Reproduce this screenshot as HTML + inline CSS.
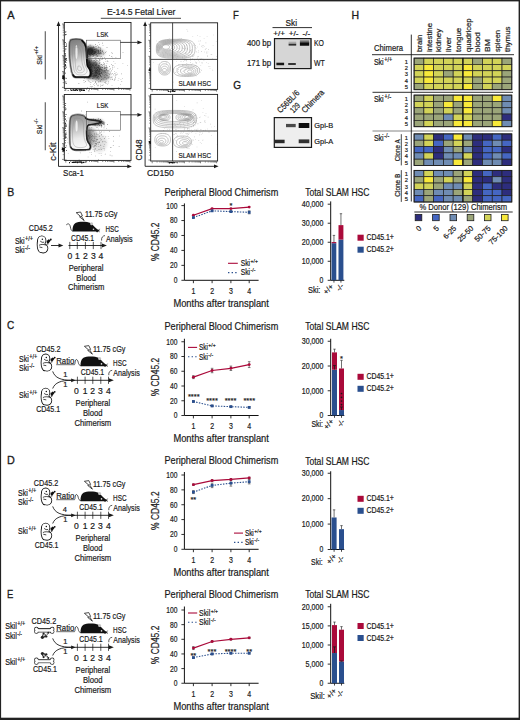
<!DOCTYPE html>
<html><head><meta charset="utf-8"><style>
html,body{margin:0;padding:0;background:#fff;}
svg{display:block;}
text{font-family:"Liberation Sans", sans-serif;fill:#1a1a1a;stroke:#1a1a1a;stroke-width:0.2px;}
</style></head><body>
<svg width="520" height="720" viewBox="0 0 520 720">
<defs>
<linearGradient id="blobg" x1="0" y1="0" x2="0.15" y2="1"><stop offset="0" stop-color="#7a7a7a"/><stop offset="0.4" stop-color="#a5a5a5"/><stop offset="0.68" stop-color="#e2e2e2"/><stop offset="1" stop-color="#f6f6f6"/></linearGradient>
<filter id="bl" x="-30%" y="-80%" width="160%" height="260%"><feGaussianBlur stdDeviation="0.75"/></filter>
<filter id="b18" x="-50%" y="-50%" width="200%" height="200%"><feGaussianBlur stdDeviation="1.8"/></filter>
<filter id="b16" x="-50%" y="-50%" width="200%" height="200%"><feGaussianBlur stdDeviation="1.6"/></filter>
<filter id="b14" x="-50%" y="-50%" width="200%" height="200%"><feGaussianBlur stdDeviation="1.4"/></filter>
<filter id="b15" x="-50%" y="-50%" width="200%" height="200%"><feGaussianBlur stdDeviation="1.5"/></filter>
<filter id="b7" x="-50%" y="-50%" width="200%" height="200%"><feGaussianBlur stdDeviation="0.7"/></filter>
<linearGradient id="blobg2" x1="0" y1="0" x2="0.15" y2="1"><stop offset="0" stop-color="#8c8c8c"/><stop offset="0.35" stop-color="#b8b8b8"/><stop offset="0.7" stop-color="#eaeaea"/><stop offset="1" stop-color="#f8f8f8"/></linearGradient>
</defs>
<rect width="520" height="720" fill="#fff"/>
<rect x="0.00" y="0.00" width="520.00" height="1.40" fill="#222" />
<rect x="0.00" y="0.00" width="1.10" height="720.00" fill="#222" />
<rect x="518.60" y="0.00" width="1.40" height="720.00" fill="#222" />
<rect x="0.00" y="717.70" width="520.00" height="2.30" fill="#222" />
<text x="7.30" y="19.20" font-size="11" style="stroke-width:0.3px">A</text>
<text x="106.90" y="15.00" font-size="9.2" textLength="68.50" lengthAdjust="spacingAndGlyphs" >E-14.5 Fetal Liver</text>
<line x1="100.80" y1="18.30" x2="181.00" y2="18.30" stroke="#1a1a1a" stroke-width="0.8" />
<line x1="45.25" y1="31.25" x2="45.25" y2="79.40" stroke="#1a1a1a" stroke-width="0.8" />
<line x1="45.25" y1="102.25" x2="45.25" y2="150.25" stroke="#1a1a1a" stroke-width="0.8" />
<g transform="rotate(-90 42.00 64.70)">
<text x="42.00" y="64.70" font-size="7.6" textLength="9.60" lengthAdjust="spacingAndGlyphs">Ski</text>
<text x="52.10" y="61.10" font-size="5.8" textLength="8.50" lengthAdjust="spacingAndGlyphs">+/+</text>
</g>
<g transform="rotate(-90 42.00 134.20)">
<text x="42.00" y="134.20" font-size="7.6" textLength="9.60" lengthAdjust="spacingAndGlyphs">Ski</text>
<text x="52.10" y="130.60" font-size="5.8" textLength="5.40" lengthAdjust="spacingAndGlyphs">-/-</text>
</g>
<path d="M58.5,24 V166.4 H128" fill="none" stroke="#1a1a1a" stroke-width="0.9" />
<path d="M58.5,21.3 L56.6,25.9 L60.4,25.9 Z" fill="#1a1a1a" />
<path d="M131.9,166.4 L127.30000000000001,164.5 L127.30000000000001,168.3 Z" fill="#1a1a1a" />
<path d="M145.1,24 V166.3 H215" fill="none" stroke="#1a1a1a" stroke-width="0.9" />
<path d="M145.1,21.5 L143.2,26.1 L147.0,26.1 Z" fill="#1a1a1a" />
<path d="M218.6,166.3 L214.0,164.4 L214.0,168.20000000000002 Z" fill="#1a1a1a" />
<text x="55.90" y="160.80" font-size="9.6" textLength="18.30" lengthAdjust="spacingAndGlyphs" transform="rotate(-90 55.90 160.80)" >c-Kit</text>
<text x="141.80" y="160.40" font-size="9.6" textLength="21.00" lengthAdjust="spacingAndGlyphs" transform="rotate(-90 141.80 160.40)" >CD48</text>
<text x="63.10" y="175.60" font-size="9.6" textLength="20.70" lengthAdjust="spacingAndGlyphs" >Sca-1</text>
<text x="147.10" y="175.50" font-size="9.6" textLength="26.80" lengthAdjust="spacingAndGlyphs" >CD150</text>
<g filter="url(#b14)"><ellipse cx="90" cy="51.3" rx="5.5" ry="5.0" fill="#111" opacity="0.9"/><ellipse cx="96" cy="51.8" rx="6" ry="4.0" fill="#333" opacity="0.6"/><ellipse cx="101" cy="53" rx="4" ry="3.2" fill="#777" opacity="0.4"/><ellipse cx="88.6" cy="68" rx="3.2" ry="11" fill="#0a0a0a" opacity="0.9"/><ellipse cx="94" cy="70" rx="6.5" ry="9.5" fill="#1a1a1a" opacity="0.7"/><ellipse cx="101" cy="74" rx="7.5" ry="7.5" fill="#444" opacity="0.55"/><ellipse cx="106" cy="77" rx="4" ry="4" fill="#888" opacity="0.4"/></g>
<path d="M91.7 52.6h0.6v0.6h-0.6zM91.9 50.0h0.6v0.6h-0.6zM88.3 50.3h0.6v0.6h-0.6zM98.6 52.4h0.6v0.6h-0.6zM98.2 51.8h0.6v0.6h-0.6zM95.0 51.6h0.6v0.6h-0.6zM84.7 53.7h0.6v0.6h-0.6zM95.5 52.6h0.6v0.6h-0.6zM84.5 45.4h0.6v0.6h-0.6zM88.6 49.5h0.6v0.6h-0.6zM94.5 50.9h0.6v0.6h-0.6zM95.6 48.9h0.6v0.6h-0.6zM94.5 52.3h0.6v0.6h-0.6zM89.7 56.5h0.6v0.6h-0.6zM95.8 54.8h0.6v0.6h-0.6zM89.9 48.6h0.6v0.6h-0.6zM91.3 50.7h0.6v0.6h-0.6zM96.2 51.8h0.6v0.6h-0.6zM90.8 47.9h0.6v0.6h-0.6zM90.4 54.9h0.6v0.6h-0.6zM89.0 51.8h0.6v0.6h-0.6zM95.1 46.2h0.6v0.6h-0.6zM93.2 55.2h0.6v0.6h-0.6zM82.9 50.0h0.6v0.6h-0.6zM92.5 48.4h0.6v0.6h-0.6zM95.5 50.8h0.6v0.6h-0.6zM85.7 53.6h0.6v0.6h-0.6zM96.3 54.0h0.6v0.6h-0.6zM100.2 52.2h0.6v0.6h-0.6zM93.6 46.8h0.6v0.6h-0.6zM96.1 49.0h0.6v0.6h-0.6zM90.7 47.0h0.6v0.6h-0.6zM88.2 49.3h0.6v0.6h-0.6zM99.4 44.5h0.6v0.6h-0.6zM85.7 51.8h0.6v0.6h-0.6zM100.2 52.9h0.6v0.6h-0.6zM83.5 42.9h0.6v0.6h-0.6zM94.8 48.6h0.6v0.6h-0.6zM87.4 54.1h0.6v0.6h-0.6zM98.5 51.5h0.6v0.6h-0.6zM94.2 52.4h0.6v0.6h-0.6zM101.0 53.0h0.6v0.6h-0.6zM95.6 52.8h0.6v0.6h-0.6zM85.2 55.1h0.6v0.6h-0.6zM97.8 52.7h0.6v0.6h-0.6zM83.1 49.0h0.6v0.6h-0.6zM97.2 45.2h0.6v0.6h-0.6zM92.1 54.3h0.6v0.6h-0.6zM86.4 56.2h0.6v0.6h-0.6zM95.8 50.5h0.6v0.6h-0.6zM94.6 53.1h0.6v0.6h-0.6zM93.6 54.7h0.6v0.6h-0.6zM89.7 49.7h0.6v0.6h-0.6zM98.2 51.1h0.6v0.6h-0.6zM88.6 54.0h0.6v0.6h-0.6zM100.3 49.6h0.6v0.6h-0.6zM86.1 50.6h0.6v0.6h-0.6zM92.3 50.0h0.6v0.6h-0.6zM100.0 47.7h0.6v0.6h-0.6zM99.3 46.9h0.6v0.6h-0.6zM89.1 53.0h0.6v0.6h-0.6zM98.6 53.7h0.6v0.6h-0.6zM94.7 51.5h0.6v0.6h-0.6zM93.8 52.8h0.6v0.6h-0.6zM92.1 51.9h0.6v0.6h-0.6zM95.9 51.0h0.6v0.6h-0.6zM96.8 52.8h0.6v0.6h-0.6zM103.1 52.0h0.6v0.6h-0.6zM90.9 49.8h0.6v0.6h-0.6zM92.9 54.0h0.6v0.6h-0.6zM91.3 52.2h0.6v0.6h-0.6zM102.2 42.8h0.6v0.6h-0.6zM87.4 51.8h0.6v0.6h-0.6zM95.0 51.8h0.6v0.6h-0.6zM90.8 53.1h0.6v0.6h-0.6zM94.4 49.3h0.6v0.6h-0.6zM105.2 52.1h0.6v0.6h-0.6zM90.2 50.7h0.6v0.6h-0.6zM91.9 50.8h0.6v0.6h-0.6zM79.4 49.4h0.6v0.6h-0.6zM98.0 47.3h0.6v0.6h-0.6zM92.7 54.1h0.6v0.6h-0.6zM97.3 55.8h0.6v0.6h-0.6zM84.5 49.9h0.6v0.6h-0.6zM91.3 53.0h0.6v0.6h-0.6zM98.5 42.4h0.6v0.6h-0.6zM98.4 46.4h0.6v0.6h-0.6zM96.4 46.2h0.6v0.6h-0.6zM93.9 54.8h0.6v0.6h-0.6zM92.3 51.6h0.6v0.6h-0.6zM97.0 51.5h0.6v0.6h-0.6zM92.6 55.9h0.6v0.6h-0.6zM98.2 50.1h0.6v0.6h-0.6zM106.7 47.3h0.6v0.6h-0.6zM97.6 50.1h0.6v0.6h-0.6zM93.7 53.3h0.6v0.6h-0.6zM94.1 53.0h0.6v0.6h-0.6zM85.4 46.2h0.6v0.6h-0.6zM96.1 47.9h0.6v0.6h-0.6zM87.9 46.3h0.6v0.6h-0.6zM99.3 53.4h0.6v0.6h-0.6zM100.4 48.0h0.6v0.6h-0.6zM93.0 47.4h0.6v0.6h-0.6zM96.8 56.1h0.6v0.6h-0.6zM88.5 56.0h0.6v0.6h-0.6zM97.9 50.4h0.6v0.6h-0.6zM83.1 55.5h0.6v0.6h-0.6zM92.5 49.1h0.6v0.6h-0.6zM95.0 52.3h0.6v0.6h-0.6zM100.5 47.7h0.6v0.6h-0.6zM98.7 55.8h0.6v0.6h-0.6zM100.3 50.4h0.6v0.6h-0.6zM89.3 54.3h0.6v0.6h-0.6zM93.6 51.4h0.6v0.6h-0.6zM100.1 50.2h0.6v0.6h-0.6zM81.5 49.8h0.6v0.6h-0.6zM83.7 53.6h0.6v0.6h-0.6zM94.6 49.0h0.6v0.6h-0.6zM93.0 53.7h0.6v0.6h-0.6zM93.4 55.2h0.6v0.6h-0.6zM92.7 54.3h0.6v0.6h-0.6zM100.5 56.2h0.6v0.6h-0.6zM89.6 53.8h0.6v0.6h-0.6zM83.6 47.5h0.6v0.6h-0.6zM83.2 54.4h0.6v0.6h-0.6zM86.8 51.0h0.6v0.6h-0.6zM92.0 50.9h0.6v0.6h-0.6zM90.0 51.7h0.6v0.6h-0.6zM102.0 51.1h0.6v0.6h-0.6zM95.7 54.2h0.6v0.6h-0.6zM92.0 47.0h0.6v0.6h-0.6zM90.2 54.4h0.6v0.6h-0.6zM84.8 49.1h0.6v0.6h-0.6zM98.0 53.5h0.6v0.6h-0.6zM93.0 53.6h0.6v0.6h-0.6zM93.8 47.2h0.6v0.6h-0.6zM85.2 49.0h0.6v0.6h-0.6zM97.6 49.2h0.6v0.6h-0.6zM88.5 48.5h0.6v0.6h-0.6zM85.3 50.6h0.6v0.6h-0.6zM87.1 52.2h0.6v0.6h-0.6zM81.2 52.0h0.6v0.6h-0.6zM89.8 44.8h0.6v0.6h-0.6zM96.6 50.1h0.6v0.6h-0.6zM81.8 48.2h0.6v0.6h-0.6zM94.5 49.5h0.6v0.6h-0.6zM96.9 53.4h0.6v0.6h-0.6zM96.3 52.0h0.6v0.6h-0.6zM99.7 53.1h0.6v0.6h-0.6zM95.3 44.3h0.6v0.6h-0.6zM97.5 55.2h0.6v0.6h-0.6zM91.5 49.5h0.6v0.6h-0.6zM102.7 45.4h0.6v0.6h-0.6zM95.3 58.8h0.6v0.6h-0.6zM88.4 53.2h0.6v0.6h-0.6zM102.4 50.6h0.6v0.6h-0.6zM95.8 53.9h0.6v0.6h-0.6zM88.5 50.7h0.6v0.6h-0.6zM94.5 53.6h0.6v0.6h-0.6zM92.8 50.4h0.6v0.6h-0.6z" fill="#111" opacity="0.7"/>
<path d="M88.9 67.5h0.6v0.6h-0.6zM102.2 70.7h0.6v0.6h-0.6zM90.0 64.1h0.6v0.6h-0.6zM114.7 78.0h0.6v0.6h-0.6zM100.5 51.8h0.6v0.6h-0.6zM100.4 73.4h0.6v0.6h-0.6zM107.8 73.0h0.6v0.6h-0.6zM95.5 73.7h0.6v0.6h-0.6zM82.4 77.2h0.6v0.6h-0.6zM98.3 65.1h0.6v0.6h-0.6zM105.3 82.7h0.6v0.6h-0.6zM86.2 65.3h0.6v0.6h-0.6zM98.0 71.3h0.6v0.6h-0.6zM93.2 63.2h0.6v0.6h-0.6zM110.8 77.3h0.6v0.6h-0.6zM87.6 60.6h0.6v0.6h-0.6zM107.9 76.9h0.6v0.6h-0.6zM108.7 75.7h0.6v0.6h-0.6zM89.9 71.8h0.6v0.6h-0.6zM80.9 64.8h0.6v0.6h-0.6zM95.6 73.7h0.6v0.6h-0.6zM90.9 69.1h0.6v0.6h-0.6zM99.2 72.6h0.6v0.6h-0.6zM100.5 71.5h0.6v0.6h-0.6zM93.7 75.5h0.6v0.6h-0.6zM96.3 64.2h0.6v0.6h-0.6zM91.6 70.0h0.6v0.6h-0.6zM95.2 71.1h0.6v0.6h-0.6zM96.0 71.2h0.6v0.6h-0.6zM95.1 61.2h0.6v0.6h-0.6zM98.9 77.4h0.6v0.6h-0.6zM99.0 68.7h0.6v0.6h-0.6zM99.1 63.2h0.6v0.6h-0.6zM82.7 70.4h0.6v0.6h-0.6zM89.5 75.2h0.6v0.6h-0.6zM88.4 51.6h0.6v0.6h-0.6zM88.7 81.0h0.6v0.6h-0.6zM93.3 60.4h0.6v0.6h-0.6zM90.7 73.6h0.6v0.6h-0.6zM99.5 71.2h0.6v0.6h-0.6zM106.4 74.9h0.6v0.6h-0.6zM95.9 74.2h0.6v0.6h-0.6zM107.6 76.8h0.6v0.6h-0.6zM103.2 62.4h0.6v0.6h-0.6zM95.0 75.1h0.6v0.6h-0.6zM93.9 77.5h0.6v0.6h-0.6zM100.2 76.4h0.6v0.6h-0.6zM94.5 87.8h0.6v0.6h-0.6zM104.7 68.5h0.6v0.6h-0.6zM93.6 76.1h0.6v0.6h-0.6zM102.9 70.0h0.6v0.6h-0.6zM87.8 71.3h0.6v0.6h-0.6zM98.5 77.9h0.6v0.6h-0.6zM101.5 70.2h0.6v0.6h-0.6zM102.0 73.8h0.6v0.6h-0.6zM97.4 70.4h0.6v0.6h-0.6zM94.3 74.8h0.6v0.6h-0.6zM88.6 65.6h0.6v0.6h-0.6zM96.0 59.8h0.6v0.6h-0.6zM92.9 55.9h0.6v0.6h-0.6zM91.2 74.0h0.6v0.6h-0.6zM100.0 69.6h0.6v0.6h-0.6zM94.4 60.1h0.6v0.6h-0.6zM108.8 73.6h0.6v0.6h-0.6zM103.7 63.8h0.6v0.6h-0.6zM94.7 57.3h0.6v0.6h-0.6zM101.5 76.5h0.6v0.6h-0.6zM82.7 69.6h0.6v0.6h-0.6zM100.4 57.7h0.6v0.6h-0.6zM83.2 62.5h0.6v0.6h-0.6zM91.6 60.2h0.6v0.6h-0.6zM96.2 71.7h0.6v0.6h-0.6zM100.4 74.9h0.6v0.6h-0.6zM106.5 78.2h0.6v0.6h-0.6zM86.8 66.5h0.6v0.6h-0.6zM88.6 62.5h0.6v0.6h-0.6zM95.4 70.0h0.6v0.6h-0.6zM99.4 58.9h0.6v0.6h-0.6zM87.3 69.8h0.6v0.6h-0.6zM94.6 67.8h0.6v0.6h-0.6zM95.6 64.7h0.6v0.6h-0.6zM100.9 72.5h0.6v0.6h-0.6zM95.4 65.3h0.6v0.6h-0.6zM94.8 50.9h0.6v0.6h-0.6zM89.1 70.3h0.6v0.6h-0.6zM85.5 71.4h0.6v0.6h-0.6zM97.0 60.4h0.6v0.6h-0.6zM94.2 67.8h0.6v0.6h-0.6zM99.2 74.3h0.6v0.6h-0.6zM95.7 64.0h0.6v0.6h-0.6zM95.0 69.5h0.6v0.6h-0.6zM101.1 72.1h0.6v0.6h-0.6zM90.9 60.5h0.6v0.6h-0.6zM93.4 64.8h0.6v0.6h-0.6zM88.2 69.2h0.6v0.6h-0.6zM92.6 70.7h0.6v0.6h-0.6zM99.7 67.1h0.6v0.6h-0.6zM112.3 67.7h0.6v0.6h-0.6zM103.7 70.9h0.6v0.6h-0.6zM103.8 53.4h0.6v0.6h-0.6zM90.7 71.7h0.6v0.6h-0.6zM100.2 86.4h0.6v0.6h-0.6zM98.3 79.0h0.6v0.6h-0.6zM101.4 76.6h0.6v0.6h-0.6zM99.6 68.9h0.6v0.6h-0.6zM99.6 62.5h0.6v0.6h-0.6zM104.3 62.9h0.6v0.6h-0.6zM97.7 84.8h0.6v0.6h-0.6zM94.4 70.1h0.6v0.6h-0.6zM104.1 70.2h0.6v0.6h-0.6zM90.3 71.8h0.6v0.6h-0.6zM100.1 75.0h0.6v0.6h-0.6zM90.6 82.3h0.6v0.6h-0.6zM107.7 70.1h0.6v0.6h-0.6zM97.9 67.0h0.6v0.6h-0.6zM105.9 65.1h0.6v0.6h-0.6zM100.7 66.6h0.6v0.6h-0.6zM91.1 75.0h0.6v0.6h-0.6zM105.3 69.9h0.6v0.6h-0.6zM91.3 75.7h0.6v0.6h-0.6zM95.7 72.2h0.6v0.6h-0.6zM106.7 77.9h0.6v0.6h-0.6zM92.4 86.0h0.6v0.6h-0.6zM96.0 75.5h0.6v0.6h-0.6zM91.5 69.7h0.6v0.6h-0.6zM83.8 82.5h0.6v0.6h-0.6zM105.6 61.5h0.6v0.6h-0.6zM85.5 58.7h0.6v0.6h-0.6zM104.2 66.8h0.6v0.6h-0.6zM95.6 67.8h0.6v0.6h-0.6zM95.2 62.4h0.6v0.6h-0.6zM96.2 59.9h0.6v0.6h-0.6zM95.5 72.2h0.6v0.6h-0.6zM99.3 68.4h0.6v0.6h-0.6zM89.7 71.1h0.6v0.6h-0.6zM92.6 81.0h0.6v0.6h-0.6zM101.4 69.2h0.6v0.6h-0.6zM92.7 65.1h0.6v0.6h-0.6zM89.4 67.5h0.6v0.6h-0.6zM98.1 73.6h0.6v0.6h-0.6zM100.0 84.7h0.6v0.6h-0.6zM91.1 70.1h0.6v0.6h-0.6zM115.6 56.9h0.6v0.6h-0.6zM92.3 71.2h0.6v0.6h-0.6zM97.1 72.9h0.6v0.6h-0.6zM94.3 72.6h0.6v0.6h-0.6zM96.4 75.4h0.6v0.6h-0.6zM82.8 63.8h0.6v0.6h-0.6zM96.0 62.8h0.6v0.6h-0.6zM88.7 74.4h0.6v0.6h-0.6zM91.5 74.4h0.6v0.6h-0.6zM101.2 72.1h0.6v0.6h-0.6zM99.6 69.3h0.6v0.6h-0.6zM86.1 69.8h0.6v0.6h-0.6zM99.2 66.3h0.6v0.6h-0.6zM95.3 75.2h0.6v0.6h-0.6zM89.9 74.5h0.6v0.6h-0.6zM109.0 66.1h0.6v0.6h-0.6zM97.0 68.9h0.6v0.6h-0.6zM106.8 72.2h0.6v0.6h-0.6zM102.3 65.2h0.6v0.6h-0.6zM95.9 69.9h0.6v0.6h-0.6zM83.6 80.1h0.6v0.6h-0.6zM102.3 57.8h0.6v0.6h-0.6zM101.2 69.1h0.6v0.6h-0.6zM99.1 72.6h0.6v0.6h-0.6zM85.5 68.5h0.6v0.6h-0.6zM106.4 66.0h0.6v0.6h-0.6zM88.8 60.5h0.6v0.6h-0.6zM87.5 72.3h0.6v0.6h-0.6zM107.8 73.0h0.6v0.6h-0.6zM97.7 85.6h0.6v0.6h-0.6zM92.4 65.3h0.6v0.6h-0.6zM99.7 73.8h0.6v0.6h-0.6zM88.9 61.8h0.6v0.6h-0.6zM98.0 71.7h0.6v0.6h-0.6zM86.9 68.6h0.6v0.6h-0.6zM92.2 73.2h0.6v0.6h-0.6zM95.2 69.4h0.6v0.6h-0.6zM93.5 77.4h0.6v0.6h-0.6zM105.7 67.4h0.6v0.6h-0.6zM101.9 64.7h0.6v0.6h-0.6zM96.5 75.2h0.6v0.6h-0.6zM106.6 67.3h0.6v0.6h-0.6zM95.5 71.4h0.6v0.6h-0.6zM85.5 70.1h0.6v0.6h-0.6zM91.3 72.6h0.6v0.6h-0.6zM88.1 56.2h0.6v0.6h-0.6zM96.3 71.8h0.6v0.6h-0.6zM92.2 76.2h0.6v0.6h-0.6zM94.1 65.8h0.6v0.6h-0.6zM99.3 59.0h0.6v0.6h-0.6zM91.3 69.9h0.6v0.6h-0.6zM101.9 68.9h0.6v0.6h-0.6zM98.2 65.4h0.6v0.6h-0.6zM98.1 81.6h0.6v0.6h-0.6zM91.2 86.6h0.6v0.6h-0.6zM91.5 70.1h0.6v0.6h-0.6zM97.2 77.2h0.6v0.6h-0.6zM87.3 55.3h0.6v0.6h-0.6zM100.2 75.6h0.6v0.6h-0.6zM97.4 71.8h0.6v0.6h-0.6zM102.5 72.6h0.6v0.6h-0.6zM107.6 61.3h0.6v0.6h-0.6zM93.4 45.9h0.6v0.6h-0.6zM101.7 67.4h0.6v0.6h-0.6zM102.5 85.1h0.6v0.6h-0.6zM96.0 68.2h0.6v0.6h-0.6zM92.5 64.1h0.6v0.6h-0.6zM91.6 74.5h0.6v0.6h-0.6zM96.3 70.5h0.6v0.6h-0.6zM94.8 76.4h0.6v0.6h-0.6zM99.5 69.0h0.6v0.6h-0.6zM100.7 68.9h0.6v0.6h-0.6zM87.9 80.2h0.6v0.6h-0.6zM99.3 63.3h0.6v0.6h-0.6zM103.6 72.4h0.6v0.6h-0.6zM85.0 81.3h0.6v0.6h-0.6zM98.3 76.2h0.6v0.6h-0.6zM97.4 69.0h0.6v0.6h-0.6zM85.2 76.8h0.6v0.6h-0.6zM96.2 68.0h0.6v0.6h-0.6zM98.5 70.5h0.6v0.6h-0.6zM100.7 67.4h0.6v0.6h-0.6zM95.7 55.0h0.6v0.6h-0.6zM93.0 74.7h0.6v0.6h-0.6zM105.4 67.5h0.6v0.6h-0.6zM95.2 81.1h0.6v0.6h-0.6zM93.7 75.1h0.6v0.6h-0.6zM107.7 70.3h0.6v0.6h-0.6zM104.6 65.0h0.6v0.6h-0.6zM97.5 69.5h0.6v0.6h-0.6zM96.8 77.9h0.6v0.6h-0.6zM112.7 65.3h0.6v0.6h-0.6zM92.0 73.5h0.6v0.6h-0.6zM88.6 73.5h0.6v0.6h-0.6zM100.0 68.1h0.6v0.6h-0.6zM99.7 59.2h0.6v0.6h-0.6zM101.3 59.2h0.6v0.6h-0.6zM91.1 66.1h0.6v0.6h-0.6zM93.2 76.0h0.6v0.6h-0.6zM96.6 67.2h0.6v0.6h-0.6zM99.8 81.1h0.6v0.6h-0.6zM96.0 72.6h0.6v0.6h-0.6zM104.7 71.9h0.6v0.6h-0.6zM87.0 87.4h0.6v0.6h-0.6zM111.5 56.1h0.6v0.6h-0.6zM95.7 72.9h0.6v0.6h-0.6zM102.8 74.7h0.6v0.6h-0.6zM94.1 62.6h0.6v0.6h-0.6zM96.7 77.2h0.6v0.6h-0.6zM88.4 62.8h0.6v0.6h-0.6zM95.8 56.4h0.6v0.6h-0.6zM94.2 66.9h0.6v0.6h-0.6zM99.2 65.1h0.6v0.6h-0.6zM89.8 67.2h0.6v0.6h-0.6zM95.7 65.3h0.6v0.6h-0.6zM96.1 75.3h0.6v0.6h-0.6zM104.3 81.9h0.6v0.6h-0.6zM90.5 67.1h0.6v0.6h-0.6zM78.6 83.3h0.6v0.6h-0.6zM90.9 69.8h0.6v0.6h-0.6zM99.7 60.5h0.6v0.6h-0.6zM99.2 69.8h0.6v0.6h-0.6zM83.2 72.0h0.6v0.6h-0.6zM104.4 56.9h0.6v0.6h-0.6zM101.7 71.5h0.6v0.6h-0.6zM99.3 73.1h0.6v0.6h-0.6zM105.1 68.4h0.6v0.6h-0.6zM102.1 67.1h0.6v0.6h-0.6zM101.1 64.3h0.6v0.6h-0.6zM95.2 82.1h0.6v0.6h-0.6zM99.1 68.9h0.6v0.6h-0.6zM88.0 64.5h0.6v0.6h-0.6zM97.4 76.6h0.6v0.6h-0.6zM99.0 73.7h0.6v0.6h-0.6zM95.7 79.5h0.6v0.6h-0.6zM93.3 66.2h0.6v0.6h-0.6zM102.2 70.4h0.6v0.6h-0.6zM94.1 66.0h0.6v0.6h-0.6zM94.2 74.4h0.6v0.6h-0.6zM98.5 61.5h0.6v0.6h-0.6zM99.0 71.3h0.6v0.6h-0.6zM89.0 75.4h0.6v0.6h-0.6zM94.0 67.7h0.6v0.6h-0.6zM101.6 79.2h0.6v0.6h-0.6zM91.2 73.1h0.6v0.6h-0.6zM89.9 86.2h0.6v0.6h-0.6zM92.5 78.4h0.6v0.6h-0.6zM91.5 75.7h0.6v0.6h-0.6zM111.5 52.2h0.6v0.6h-0.6zM93.0 73.5h0.6v0.6h-0.6zM95.3 65.3h0.6v0.6h-0.6zM111.1 70.6h0.6v0.6h-0.6zM84.5 76.0h0.6v0.6h-0.6zM83.9 78.1h0.6v0.6h-0.6zM92.0 71.0h0.6v0.6h-0.6zM104.8 70.8h0.6v0.6h-0.6z" fill="#111" opacity="0.7"/>
<path d="M91.5 59.4h0.6v0.6h-0.6zM114.6 78.9h0.6v0.6h-0.6zM96.7 79.9h0.6v0.6h-0.6zM108.5 78.2h0.6v0.6h-0.6zM83.7 70.6h0.6v0.6h-0.6zM112.1 78.9h0.6v0.6h-0.6zM111.9 53.3h0.6v0.6h-0.6zM105.5 76.9h0.6v0.6h-0.6zM127.0 65.4h0.6v0.6h-0.6zM101.0 73.3h0.6v0.6h-0.6zM112.0 69.5h0.6v0.6h-0.6zM114.3 66.7h0.6v0.6h-0.6zM106.4 68.8h0.6v0.6h-0.6zM105.4 67.5h0.6v0.6h-0.6zM89.6 81.7h0.6v0.6h-0.6zM106.7 68.5h0.6v0.6h-0.6zM105.8 80.9h0.6v0.6h-0.6zM95.2 72.1h0.6v0.6h-0.6zM108.9 77.2h0.6v0.6h-0.6zM101.0 56.1h0.6v0.6h-0.6zM115.2 75.6h0.6v0.6h-0.6zM104.1 70.8h0.6v0.6h-0.6zM106.4 69.6h0.6v0.6h-0.6zM94.8 67.1h0.6v0.6h-0.6zM98.6 68.1h0.6v0.6h-0.6zM93.6 78.1h0.6v0.6h-0.6zM92.2 78.3h0.6v0.6h-0.6zM94.9 75.8h0.6v0.6h-0.6zM116.4 74.6h0.6v0.6h-0.6zM97.4 73.4h0.6v0.6h-0.6zM105.3 59.1h0.6v0.6h-0.6zM98.5 74.3h0.6v0.6h-0.6zM99.8 73.6h0.6v0.6h-0.6zM110.6 79.1h0.6v0.6h-0.6zM112.2 77.7h0.6v0.6h-0.6zM101.4 72.9h0.6v0.6h-0.6zM101.6 70.5h0.6v0.6h-0.6zM102.4 59.2h0.6v0.6h-0.6zM101.0 72.8h0.6v0.6h-0.6zM95.2 72.8h0.6v0.6h-0.6zM108.6 71.7h0.6v0.6h-0.6zM122.7 52.1h0.6v0.6h-0.6zM102.1 58.4h0.6v0.6h-0.6zM81.5 74.0h0.6v0.6h-0.6zM108.7 70.6h0.6v0.6h-0.6zM109.0 55.1h0.6v0.6h-0.6zM111.7 76.0h0.6v0.6h-0.6zM104.2 68.3h0.6v0.6h-0.6zM109.7 69.1h0.6v0.6h-0.6zM106.0 68.9h0.6v0.6h-0.6zM83.8 72.7h0.6v0.6h-0.6zM105.8 79.0h0.6v0.6h-0.6zM96.1 72.7h0.6v0.6h-0.6zM109.6 74.2h0.6v0.6h-0.6zM95.8 57.6h0.6v0.6h-0.6zM111.7 85.2h0.6v0.6h-0.6zM112.3 79.5h0.6v0.6h-0.6zM98.4 67.3h0.6v0.6h-0.6zM112.0 65.7h0.6v0.6h-0.6zM87.7 65.0h0.6v0.6h-0.6zM97.8 67.2h0.6v0.6h-0.6zM106.1 67.0h0.6v0.6h-0.6zM115.8 72.4h0.6v0.6h-0.6zM94.2 83.5h0.6v0.6h-0.6zM98.8 74.8h0.6v0.6h-0.6zM103.9 70.5h0.6v0.6h-0.6zM106.9 67.5h0.6v0.6h-0.6zM87.4 55.3h0.6v0.6h-0.6zM92.6 66.9h0.6v0.6h-0.6zM103.8 73.4h0.6v0.6h-0.6zM109.0 74.0h0.6v0.6h-0.6zM96.9 67.3h0.6v0.6h-0.6zM84.9 71.6h0.6v0.6h-0.6zM108.4 77.2h0.6v0.6h-0.6zM102.9 71.6h0.6v0.6h-0.6zM112.4 73.1h0.6v0.6h-0.6zM110.6 77.7h0.6v0.6h-0.6zM105.9 83.5h0.6v0.6h-0.6zM98.8 70.1h0.6v0.6h-0.6zM96.7 66.6h0.6v0.6h-0.6zM118.0 87.1h0.6v0.6h-0.6zM104.2 77.5h0.6v0.6h-0.6zM114.6 79.5h0.6v0.6h-0.6zM114.8 62.9h0.6v0.6h-0.6zM98.2 76.6h0.6v0.6h-0.6zM116.9 73.8h0.6v0.6h-0.6zM96.3 70.2h0.6v0.6h-0.6zM98.1 66.1h0.6v0.6h-0.6zM117.5 68.0h0.6v0.6h-0.6zM114.7 75.7h0.6v0.6h-0.6zM98.5 76.3h0.6v0.6h-0.6zM118.6 78.0h0.6v0.6h-0.6zM115.4 73.8h0.6v0.6h-0.6zM108.6 71.4h0.6v0.6h-0.6zM107.8 83.4h0.6v0.6h-0.6zM91.1 72.5h0.6v0.6h-0.6zM106.2 68.4h0.6v0.6h-0.6zM101.2 79.3h0.6v0.6h-0.6zM122.0 78.0h0.6v0.6h-0.6zM106.9 60.6h0.6v0.6h-0.6zM121.3 73.6h0.6v0.6h-0.6zM103.7 64.1h0.6v0.6h-0.6zM103.5 64.2h0.6v0.6h-0.6zM104.6 76.7h0.6v0.6h-0.6zM104.3 75.2h0.6v0.6h-0.6zM96.3 84.4h0.6v0.6h-0.6zM98.1 58.5h0.6v0.6h-0.6zM102.3 66.9h0.6v0.6h-0.6zM94.9 70.2h0.6v0.6h-0.6zM106.6 63.5h0.6v0.6h-0.6zM102.8 84.4h0.6v0.6h-0.6zM110.1 71.8h0.6v0.6h-0.6zM105.1 72.0h0.6v0.6h-0.6zM103.6 78.9h0.6v0.6h-0.6zM103.2 53.8h0.6v0.6h-0.6zM103.8 65.9h0.6v0.6h-0.6zM109.9 68.1h0.6v0.6h-0.6zM94.6 64.0h0.6v0.6h-0.6zM91.3 53.8h0.6v0.6h-0.6zM87.1 75.9h0.6v0.6h-0.6zM98.3 58.1h0.6v0.6h-0.6zM90.7 77.9h0.6v0.6h-0.6zM97.0 70.1h0.6v0.6h-0.6zM107.0 83.9h0.6v0.6h-0.6zM121.5 81.3h0.6v0.6h-0.6zM105.3 74.5h0.6v0.6h-0.6zM120.2 84.4h0.6v0.6h-0.6zM101.2 76.7h0.6v0.6h-0.6zM106.6 73.4h0.6v0.6h-0.6zM99.5 62.4h0.6v0.6h-0.6zM99.2 60.6h0.6v0.6h-0.6zM115.0 77.3h0.6v0.6h-0.6zM93.1 84.2h0.6v0.6h-0.6zM112.0 57.7h0.6v0.6h-0.6zM120.6 79.5h0.6v0.6h-0.6zM122.6 63.2h0.6v0.6h-0.6zM108.8 76.4h0.6v0.6h-0.6zM105.8 74.4h0.6v0.6h-0.6zM113.5 61.0h0.6v0.6h-0.6zM92.8 61.8h0.6v0.6h-0.6zM99.0 68.2h0.6v0.6h-0.6zM107.3 75.1h0.6v0.6h-0.6zM104.3 67.6h0.6v0.6h-0.6zM100.0 80.6h0.6v0.6h-0.6zM110.9 73.8h0.6v0.6h-0.6zM101.1 85.4h0.6v0.6h-0.6zM98.7 78.2h0.6v0.6h-0.6zM114.4 70.9h0.6v0.6h-0.6zM111.4 64.1h0.6v0.6h-0.6zM113.1 74.6h0.6v0.6h-0.6zM89.7 78.4h0.6v0.6h-0.6zM96.0 83.3h0.6v0.6h-0.6zM97.9 71.7h0.6v0.6h-0.6zM106.5 70.3h0.6v0.6h-0.6zM106.3 68.6h0.6v0.6h-0.6zM110.0 73.0h0.6v0.6h-0.6zM105.9 51.0h0.6v0.6h-0.6zM114.5 73.3h0.6v0.6h-0.6zM88.0 73.8h0.6v0.6h-0.6zM108.2 81.6h0.6v0.6h-0.6zM94.3 85.4h0.6v0.6h-0.6zM102.7 78.4h0.6v0.6h-0.6zM100.7 64.1h0.6v0.6h-0.6zM113.9 80.3h0.6v0.6h-0.6zM117.8 79.9h0.6v0.6h-0.6zM98.8 59.7h0.6v0.6h-0.6zM98.1 67.6h0.6v0.6h-0.6zM96.7 77.7h0.6v0.6h-0.6zM107.0 70.8h0.6v0.6h-0.6zM105.6 71.8h0.6v0.6h-0.6zM105.9 79.0h0.6v0.6h-0.6zM112.6 67.5h0.6v0.6h-0.6zM90.4 84.4h0.6v0.6h-0.6zM105.0 81.8h0.6v0.6h-0.6z" fill="#111" opacity="0.55"/>
<g filter="url(#b7)"><path d="M70.8,40.4 C72.5,39.5 74.5,39.4 76,39.4 C78.5,39.4 80.5,39.6 82,40.6 C83.6,41.8 85.3,44.2 86,47.4 C86.5,50.5 86.6,54 86.7,57.5 C86.8,61 86.9,64.5 87.6,66.3 C88.5,67.5 89.8,68.8 90.3,71 C90.8,73.5 90.2,76.2 88.6,76.9 L76,77 C74.5,77 73.6,76.3 73.2,75 C72.2,72.5 71.6,70 71.3,67.5 C70.6,63 70.1,59 70,56 C69.8,52 69.7,48 69.8,45.5 C69.9,43 70.2,41.2 70.8,40.4 Z" fill="none" stroke="#333" stroke-width="3.0" opacity="0.5"/></g>
<g filter="url(#b6)"><path d="M70.8,40.4 C72.5,39.5 74.5,39.4 76,39.4 C78.5,39.4 80.5,39.6 82,40.6 C83.6,41.8 85.3,44.2 86,47.4 C86.5,50.5 86.6,54 86.7,57.5 C86.8,61 86.9,64.5 87.6,66.3 C88.5,67.5 89.8,68.8 90.3,71 C90.8,73.5 90.2,76.2 88.6,76.9 L76,77 C74.5,77 73.6,76.3 73.2,75 C72.2,72.5 71.6,70 71.3,67.5 C70.6,63 70.1,59 70,56 C69.8,52 69.7,48 69.8,45.5 C69.9,43 70.2,41.2 70.8,40.4 Z" fill="none" stroke="#333" stroke-width="1.4"/></g>
<path d="M70.8,40.4 C72.5,39.5 74.5,39.4 76,39.4 C78.5,39.4 80.5,39.6 82,40.6 C83.6,41.8 85.3,44.2 86,47.4 C86.5,50.5 86.6,54 86.7,57.5 C86.8,61 86.9,64.5 87.6,66.3 C88.5,67.5 89.8,68.8 90.3,71 C90.8,73.5 90.2,76.2 88.6,76.9 L76,77 C74.5,77 73.6,76.3 73.2,75 C72.2,72.5 71.6,70 71.3,67.5 C70.6,63 70.1,59 70,56 C69.8,52 69.7,48 69.8,45.5 C69.9,43 70.2,41.2 70.8,40.4 Z" fill="url(#blobg)" stroke="#555" stroke-width="0.5" stroke-linejoin="round"/>
<g filter="url(#b7)"><ellipse cx="76.4" cy="52" rx="1.2" ry="7" fill="#fff" opacity="0.75"/></g>
<g filter="url(#b7)"><path d="M82,40.6 C83.6,41.8 85.3,44.2 86,47.4 C86.5,50.5 86.6,54 86.7,57.5 C86.8,61 86.9,64.5 87.6,66.3 C88.5,67.5 89.8,68.8 90.3,71 C90.8,73.5 90.2,76.2 88.6,76.9 L76,77 C74.5,77 73.6,76.3 73.2,75" fill="none" stroke="#0a0a0a" stroke-width="1.7" opacity="1" stroke-linejoin="round" stroke-linecap="round"/></g>
<path d="M73.2,44 C77,42.5 81,44.5 83,49 C84,56 83.5,63 86,67.5 C88,70.5 87.5,74.5 82,75 C77,75.3 75,73.5 74,70 C72.8,64 72.4,56 72.4,50 C72.4,47 72.6,45 73.2,44 Z" fill="none" stroke="#8a8a8a" stroke-width="0.4" />
<path d="M75.2,47.5 C78.5,46.5 80.8,48.5 81.3,53 C81.8,60 81.5,64 84,68.5 C85,71.5 83,72.8 79.5,72.8 C76.5,72.8 75.8,70 75.5,66 C75,60 74.8,54 75.2,47.5 Z" fill="none" stroke="#8a8a8a" stroke-width="0.4" />
<path d="M78,66 C80,65.5 82,67.5 81.5,70 C80,71.2 78,70.8 77.5,69 Z" fill="none" stroke="#8a8a8a" stroke-width="0.4" />
<rect x="64.30" y="22.50" width="66.70" height="65.90" fill="none" stroke="#1a1a1a" stroke-width="0.9" />
<path d="M65.80,88.85000000000001v1.80M70.63,88.85000000000001v1.08M73.46,88.85000000000001v1.08M75.46,88.85000000000001v1.08M77.02,88.85000000000001v1.08M78.29,88.85000000000001v1.08M79.36,88.85000000000001v1.08M80.29,88.85000000000001v1.08M81.12,88.85000000000001v1.08M81.85,88.85000000000001v1.80M86.68,88.85000000000001v1.08M89.51,88.85000000000001v1.08M91.51,88.85000000000001v1.08M93.07,88.85000000000001v1.08M94.34,88.85000000000001v1.08M95.41,88.85000000000001v1.08M96.34,88.85000000000001v1.08M97.17,88.85000000000001v1.08M97.90,88.85000000000001v1.80M102.73,88.85000000000001v1.08M105.56,88.85000000000001v1.08M107.56,88.85000000000001v1.08M109.12,88.85000000000001v1.08M110.39,88.85000000000001v1.08M111.46,88.85000000000001v1.08M112.39,88.85000000000001v1.08M113.22,88.85000000000001v1.08M113.95,88.85000000000001v1.80M118.78,88.85000000000001v1.08M121.61,88.85000000000001v1.08M123.61,88.85000000000001v1.08M125.17,88.85000000000001v1.08M126.44,88.85000000000001v1.08M127.51,88.85000000000001v1.08M128.44,88.85000000000001v1.08M129.27,88.85000000000001v1.08M130.00,88.85000000000001v1.8" fill="none" stroke="#222" stroke-width="0.55" />
<path d="M63.849999999999994,87.40h-1.80M63.849999999999994,82.63h-1.08M63.849999999999994,79.84h-1.08M63.849999999999994,77.86h-1.08M63.849999999999994,76.32h-1.08M63.849999999999994,75.07h-1.08M63.849999999999994,74.01h-1.08M63.849999999999994,73.09h-1.08M63.849999999999994,72.28h-1.08M63.849999999999994,71.55h-1.80M63.849999999999994,66.78h-1.08M63.849999999999994,63.99h-1.08M63.849999999999994,62.01h-1.08M63.849999999999994,60.47h-1.08M63.849999999999994,59.22h-1.08M63.849999999999994,58.16h-1.08M63.849999999999994,57.24h-1.08M63.849999999999994,56.43h-1.08M63.849999999999994,55.70h-1.80M63.849999999999994,50.93h-1.08M63.849999999999994,48.14h-1.08M63.849999999999994,46.16h-1.08M63.849999999999994,44.62h-1.08M63.849999999999994,43.37h-1.08M63.849999999999994,42.31h-1.08M63.849999999999994,41.39h-1.08M63.849999999999994,40.58h-1.08M63.849999999999994,39.85h-1.80M63.849999999999994,35.08h-1.08M63.849999999999994,32.29h-1.08M63.849999999999994,30.31h-1.08M63.849999999999994,28.77h-1.08M63.849999999999994,27.52h-1.08M63.849999999999994,26.46h-1.08M63.849999999999994,25.54h-1.08M63.849999999999994,24.73h-1.08M63.849999999999994,24.00h-1.8" fill="none" stroke="#222" stroke-width="0.55" />
<path d="M62.1 76.6h1.0v1.0h-1.0zM62.9 75.5h1.0v1.0h-1.0zM62.6 77.6h1.0v1.0h-1.0zM63.4 78.5h1.0v1.0h-1.0zM62.5 75.5h1.0v1.0h-1.0zM63.2 77.8h1.0v1.0h-1.0zM63.0 75.6h1.0v1.0h-1.0zM63.3 77.7h1.0v1.0h-1.0zM63.2 76.4h1.0v1.0h-1.0zM63.1 77.7h1.0v1.0h-1.0zM62.6 75.1h1.0v1.0h-1.0zM63.1 77.4h1.0v1.0h-1.0zM62.9 77.8h1.0v1.0h-1.0zM62.6 76.8h1.0v1.0h-1.0zM62.7 77.5h1.0v1.0h-1.0zM63.7 76.6h1.0v1.0h-1.0zM63.9 78.4h1.0v1.0h-1.0zM63.3 77.5h1.0v1.0h-1.0zM63.8 76.7h1.0v1.0h-1.0zM62.8 75.8h1.0v1.0h-1.0zM63.1 78.2h1.0v1.0h-1.0zM63.2 77.3h1.0v1.0h-1.0zM62.8 77.1h1.0v1.0h-1.0zM62.2 77.9h1.0v1.0h-1.0zM62.7 75.8h1.0v1.0h-1.0zM62.5 76.1h1.0v1.0h-1.0zM63.3 78.0h1.0v1.0h-1.0zM62.2 77.8h1.0v1.0h-1.0zM63.3 76.3h1.0v1.0h-1.0zM62.2 76.2h1.0v1.0h-1.0z" fill="#111" opacity="1.0"/>
<path d="M74.8 89.8h0.9v0.9h-0.9zM76.2 89.0h0.9v0.9h-0.9zM79.2 89.2h0.9v0.9h-0.9zM82.5 89.3h0.9v0.9h-0.9zM74.5 89.4h0.9v0.9h-0.9zM75.3 90.2h0.9v0.9h-0.9zM82.3 89.9h0.9v0.9h-0.9zM79.6 89.2h0.9v0.9h-0.9zM75.4 89.5h0.9v0.9h-0.9zM73.1 89.9h0.9v0.9h-0.9zM74.3 89.5h0.9v0.9h-0.9zM72.8 89.0h0.9v0.9h-0.9zM81.0 90.2h0.9v0.9h-0.9zM78.9 89.4h0.9v0.9h-0.9zM64.5 89.8h0.9v0.9h-0.9zM84.1 89.8h0.9v0.9h-0.9zM82.6 90.2h0.9v0.9h-0.9zM83.6 89.5h0.9v0.9h-0.9zM83.3 90.0h0.9v0.9h-0.9zM70.3 89.6h0.9v0.9h-0.9zM70.9 89.7h0.9v0.9h-0.9zM80.9 89.3h0.9v0.9h-0.9zM67.7 90.2h0.9v0.9h-0.9zM79.9 90.2h0.9v0.9h-0.9zM71.4 90.1h0.9v0.9h-0.9zM88.4 90.4h0.9v0.9h-0.9zM76.9 89.8h0.9v0.9h-0.9zM77.2 90.0h0.9v0.9h-0.9zM83.2 89.7h0.9v0.9h-0.9zM71.2 90.0h0.9v0.9h-0.9zM75.7 89.9h0.9v0.9h-0.9zM79.3 90.3h0.9v0.9h-0.9zM83.7 89.5h0.9v0.9h-0.9zM79.7 90.3h0.9v0.9h-0.9zM75.3 89.9h0.9v0.9h-0.9zM84.0 90.1h0.9v0.9h-0.9zM80.6 89.2h0.9v0.9h-0.9zM71.7 89.8h0.9v0.9h-0.9zM79.9 90.6h0.9v0.9h-0.9zM73.7 90.1h0.9v0.9h-0.9z" fill="#111" opacity="1.0"/>
<path d="M65.6 34.1h0.8v0.8h-0.8zM65.0 59.8h0.8v0.8h-0.8zM65.1 55.3h0.8v0.8h-0.8zM65.5 46.2h0.8v0.8h-0.8zM65.5 48.6h0.8v0.8h-0.8zM65.1 65.0h0.8v0.8h-0.8zM65.1 61.5h0.8v0.8h-0.8zM65.9 57.9h0.8v0.8h-0.8zM65.2 67.8h0.8v0.8h-0.8zM65.2 72.7h0.8v0.8h-0.8zM64.8 66.2h0.8v0.8h-0.8zM65.1 46.3h0.8v0.8h-0.8zM66.0 45.6h0.8v0.8h-0.8zM66.0 66.7h0.8v0.8h-0.8zM65.9 43.8h0.8v0.8h-0.8zM65.8 77.9h0.8v0.8h-0.8zM65.3 55.7h0.8v0.8h-0.8zM66.3 60.0h0.8v0.8h-0.8zM65.1 48.7h0.8v0.8h-0.8zM65.5 62.1h0.8v0.8h-0.8zM65.4 81.6h0.8v0.8h-0.8zM65.2 64.1h0.8v0.8h-0.8zM65.9 43.4h0.8v0.8h-0.8zM65.7 83.1h0.8v0.8h-0.8zM64.8 42.1h0.8v0.8h-0.8zM64.9 31.7h0.8v0.8h-0.8zM65.5 31.5h0.8v0.8h-0.8zM65.5 77.8h0.8v0.8h-0.8zM64.7 53.1h0.8v0.8h-0.8zM64.5 68.4h0.8v0.8h-0.8zM65.0 53.8h0.8v0.8h-0.8zM65.3 65.1h0.8v0.8h-0.8zM65.2 57.7h0.8v0.8h-0.8zM65.1 59.1h0.8v0.8h-0.8zM64.8 58.4h0.8v0.8h-0.8zM64.5 50.6h0.8v0.8h-0.8zM66.1 58.6h0.8v0.8h-0.8zM64.8 61.1h0.8v0.8h-0.8zM64.9 34.4h0.8v0.8h-0.8zM65.0 67.8h0.8v0.8h-0.8z" fill="#111" opacity="1.0"/>
<g filter="url(#b14)"><ellipse cx="97.5" cy="122.5" rx="5" ry="2.6" fill="#111" opacity="0.85"/><ellipse cx="88.6" cy="136" rx="2.6" ry="9" fill="#2a2a2a" opacity="0.7"/><ellipse cx="92" cy="137" rx="5" ry="9" fill="#666" opacity="0.45"/><ellipse cx="99" cy="143" rx="8" ry="9" fill="#999" opacity="0.3"/></g>
<path d="M98.5 122.3h0.6v0.6h-0.6zM93.3 120.6h0.6v0.6h-0.6zM102.4 122.9h0.6v0.6h-0.6zM93.2 118.7h0.6v0.6h-0.6zM91.5 127.0h0.6v0.6h-0.6zM92.4 122.4h0.6v0.6h-0.6zM97.8 122.2h0.6v0.6h-0.6zM95.9 120.0h0.6v0.6h-0.6zM92.8 125.5h0.6v0.6h-0.6zM94.0 124.0h0.6v0.6h-0.6zM90.2 122.0h0.6v0.6h-0.6zM98.0 124.4h0.6v0.6h-0.6zM92.5 123.6h0.6v0.6h-0.6zM98.5 121.2h0.6v0.6h-0.6zM98.9 120.9h0.6v0.6h-0.6zM93.8 122.5h0.6v0.6h-0.6zM86.1 122.3h0.6v0.6h-0.6zM93.0 119.9h0.6v0.6h-0.6zM95.3 123.9h0.6v0.6h-0.6zM95.4 124.8h0.6v0.6h-0.6zM92.4 120.1h0.6v0.6h-0.6zM103.2 123.2h0.6v0.6h-0.6zM100.8 121.0h0.6v0.6h-0.6zM100.2 123.0h0.6v0.6h-0.6zM99.6 122.5h0.6v0.6h-0.6zM101.8 121.3h0.6v0.6h-0.6zM93.1 119.8h0.6v0.6h-0.6zM101.6 121.2h0.6v0.6h-0.6zM92.8 120.8h0.6v0.6h-0.6zM95.2 120.2h0.6v0.6h-0.6zM95.8 121.4h0.6v0.6h-0.6zM94.8 120.8h0.6v0.6h-0.6zM97.1 121.7h0.6v0.6h-0.6zM97.5 122.9h0.6v0.6h-0.6zM98.4 118.6h0.6v0.6h-0.6zM94.9 121.1h0.6v0.6h-0.6zM100.1 119.7h0.6v0.6h-0.6zM94.1 122.0h0.6v0.6h-0.6zM95.7 124.3h0.6v0.6h-0.6zM95.2 124.2h0.6v0.6h-0.6zM91.1 119.2h0.6v0.6h-0.6zM101.9 123.3h0.6v0.6h-0.6zM99.0 122.7h0.6v0.6h-0.6zM98.9 120.3h0.6v0.6h-0.6zM100.8 121.5h0.6v0.6h-0.6zM100.9 122.7h0.6v0.6h-0.6zM89.1 120.2h0.6v0.6h-0.6zM101.5 122.3h0.6v0.6h-0.6zM95.4 122.9h0.6v0.6h-0.6zM95.3 121.5h0.6v0.6h-0.6zM97.4 122.8h0.6v0.6h-0.6zM103.1 122.6h0.6v0.6h-0.6zM104.5 125.7h0.6v0.6h-0.6zM103.9 124.4h0.6v0.6h-0.6zM97.5 122.7h0.6v0.6h-0.6zM96.4 121.2h0.6v0.6h-0.6zM96.7 121.3h0.6v0.6h-0.6zM103.6 123.5h0.6v0.6h-0.6zM95.2 119.1h0.6v0.6h-0.6zM96.8 121.8h0.6v0.6h-0.6zM92.7 120.5h0.6v0.6h-0.6zM88.0 123.5h0.6v0.6h-0.6zM96.7 127.1h0.6v0.6h-0.6zM96.9 122.2h0.6v0.6h-0.6zM102.8 122.7h0.6v0.6h-0.6zM97.7 121.8h0.6v0.6h-0.6zM94.6 125.2h0.6v0.6h-0.6zM101.0 125.6h0.6v0.6h-0.6zM95.6 122.6h0.6v0.6h-0.6zM93.5 124.2h0.6v0.6h-0.6zM91.4 123.5h0.6v0.6h-0.6zM101.4 125.0h0.6v0.6h-0.6zM93.2 124.5h0.6v0.6h-0.6zM94.1 121.1h0.6v0.6h-0.6zM91.7 124.6h0.6v0.6h-0.6zM103.6 121.4h0.6v0.6h-0.6zM94.0 121.9h0.6v0.6h-0.6zM107.0 124.3h0.6v0.6h-0.6zM94.8 119.3h0.6v0.6h-0.6zM94.3 124.6h0.6v0.6h-0.6zM104.5 122.0h0.6v0.6h-0.6zM94.2 121.6h0.6v0.6h-0.6zM89.5 124.1h0.6v0.6h-0.6zM92.7 124.4h0.6v0.6h-0.6zM90.2 120.2h0.6v0.6h-0.6zM98.2 121.1h0.6v0.6h-0.6zM100.1 122.5h0.6v0.6h-0.6zM92.3 123.6h0.6v0.6h-0.6zM100.4 119.1h0.6v0.6h-0.6zM104.3 123.4h0.6v0.6h-0.6zM100.0 119.2h0.6v0.6h-0.6zM94.1 121.9h0.6v0.6h-0.6zM101.3 119.9h0.6v0.6h-0.6zM93.5 118.8h0.6v0.6h-0.6zM96.0 123.1h0.6v0.6h-0.6zM90.3 121.4h0.6v0.6h-0.6zM99.0 125.4h0.6v0.6h-0.6zM99.7 122.0h0.6v0.6h-0.6zM92.3 120.8h0.6v0.6h-0.6zM94.3 122.8h0.6v0.6h-0.6zM96.8 125.5h0.6v0.6h-0.6zM98.1 120.6h0.6v0.6h-0.6zM103.2 124.2h0.6v0.6h-0.6zM97.4 121.2h0.6v0.6h-0.6zM89.5 120.7h0.6v0.6h-0.6zM100.6 121.1h0.6v0.6h-0.6zM91.7 122.9h0.6v0.6h-0.6zM98.0 123.6h0.6v0.6h-0.6zM99.6 125.0h0.6v0.6h-0.6zM93.6 124.3h0.6v0.6h-0.6z" fill="#111" opacity="0.8"/>
<path d="M87.1 146.6h0.6v0.6h-0.6zM96.4 142.9h0.6v0.6h-0.6zM102.7 140.9h0.6v0.6h-0.6zM103.9 148.0h0.6v0.6h-0.6zM96.1 136.5h0.6v0.6h-0.6zM89.0 136.8h0.6v0.6h-0.6zM93.4 140.8h0.6v0.6h-0.6zM118.8 146.1h0.6v0.6h-0.6zM101.2 134.1h0.6v0.6h-0.6zM89.3 138.4h0.6v0.6h-0.6zM96.5 132.7h0.6v0.6h-0.6zM107.9 136.5h0.6v0.6h-0.6zM103.6 122.3h0.6v0.6h-0.6zM94.9 143.2h0.6v0.6h-0.6zM96.5 145.8h0.6v0.6h-0.6zM97.2 142.3h0.6v0.6h-0.6zM79.9 135.3h0.6v0.6h-0.6zM76.3 146.0h0.6v0.6h-0.6zM97.5 139.4h0.6v0.6h-0.6zM88.4 136.3h0.6v0.6h-0.6zM109.8 154.8h0.6v0.6h-0.6zM94.5 151.3h0.6v0.6h-0.6zM82.3 125.5h0.6v0.6h-0.6zM91.1 134.0h0.6v0.6h-0.6zM90.5 142.5h0.6v0.6h-0.6zM119.2 135.7h0.6v0.6h-0.6zM95.4 143.2h0.6v0.6h-0.6zM94.7 148.4h0.6v0.6h-0.6zM109.2 131.1h0.6v0.6h-0.6zM96.3 138.9h0.6v0.6h-0.6zM97.9 128.7h0.6v0.6h-0.6zM80.9 122.5h0.6v0.6h-0.6zM99.2 142.5h0.6v0.6h-0.6zM95.6 122.1h0.6v0.6h-0.6zM92.0 135.0h0.6v0.6h-0.6zM83.7 133.7h0.6v0.6h-0.6zM100.6 145.4h0.6v0.6h-0.6zM94.8 145.1h0.6v0.6h-0.6zM90.2 141.6h0.6v0.6h-0.6zM95.3 145.4h0.6v0.6h-0.6zM94.4 139.9h0.6v0.6h-0.6zM93.9 135.8h0.6v0.6h-0.6zM112.9 145.1h0.6v0.6h-0.6zM98.4 159.3h0.6v0.6h-0.6zM106.2 128.5h0.6v0.6h-0.6zM100.6 147.7h0.6v0.6h-0.6zM110.1 151.5h0.6v0.6h-0.6zM101.2 131.6h0.6v0.6h-0.6zM88.0 143.2h0.6v0.6h-0.6zM99.0 132.8h0.6v0.6h-0.6zM91.9 137.8h0.6v0.6h-0.6zM95.5 143.7h0.6v0.6h-0.6zM92.7 131.1h0.6v0.6h-0.6zM104.9 153.8h0.6v0.6h-0.6zM94.2 149.2h0.6v0.6h-0.6zM98.6 146.3h0.6v0.6h-0.6zM98.9 134.9h0.6v0.6h-0.6zM99.6 149.1h0.6v0.6h-0.6zM87.8 156.7h0.6v0.6h-0.6zM111.7 155.6h0.6v0.6h-0.6zM110.9 146.9h0.6v0.6h-0.6zM92.3 136.2h0.6v0.6h-0.6zM88.5 141.9h0.6v0.6h-0.6zM94.7 146.4h0.6v0.6h-0.6zM78.8 159.5h0.6v0.6h-0.6zM113.2 140.8h0.6v0.6h-0.6zM100.4 144.8h0.6v0.6h-0.6zM97.2 139.3h0.6v0.6h-0.6zM94.0 134.4h0.6v0.6h-0.6zM96.4 140.8h0.6v0.6h-0.6zM97.6 134.2h0.6v0.6h-0.6zM95.3 141.4h0.6v0.6h-0.6zM99.8 132.5h0.6v0.6h-0.6zM98.4 148.9h0.6v0.6h-0.6zM99.8 138.1h0.6v0.6h-0.6zM91.1 139.1h0.6v0.6h-0.6zM100.8 153.4h0.6v0.6h-0.6zM93.7 135.9h0.6v0.6h-0.6zM98.0 142.6h0.6v0.6h-0.6zM87.7 135.1h0.6v0.6h-0.6zM94.2 146.4h0.6v0.6h-0.6zM85.5 132.9h0.6v0.6h-0.6zM99.0 131.2h0.6v0.6h-0.6zM95.9 143.8h0.6v0.6h-0.6zM94.1 132.9h0.6v0.6h-0.6zM94.5 138.3h0.6v0.6h-0.6zM97.7 134.3h0.6v0.6h-0.6zM103.7 127.6h0.6v0.6h-0.6zM93.6 141.1h0.6v0.6h-0.6zM102.7 136.1h0.6v0.6h-0.6zM99.4 136.5h0.6v0.6h-0.6zM100.9 154.9h0.6v0.6h-0.6zM91.8 144.5h0.6v0.6h-0.6zM87.6 148.8h0.6v0.6h-0.6zM104.7 141.3h0.6v0.6h-0.6zM85.9 144.2h0.6v0.6h-0.6zM104.2 149.7h0.6v0.6h-0.6zM101.5 126.4h0.6v0.6h-0.6zM89.6 152.4h0.6v0.6h-0.6zM85.2 150.1h0.6v0.6h-0.6zM110.1 147.1h0.6v0.6h-0.6zM104.0 138.3h0.6v0.6h-0.6zM85.2 140.2h0.6v0.6h-0.6zM93.4 140.6h0.6v0.6h-0.6zM100.6 139.8h0.6v0.6h-0.6zM96.5 144.4h0.6v0.6h-0.6zM95.0 155.7h0.6v0.6h-0.6zM98.5 141.7h0.6v0.6h-0.6zM93.3 136.0h0.6v0.6h-0.6zM105.8 142.2h0.6v0.6h-0.6zM86.4 136.5h0.6v0.6h-0.6zM93.9 137.4h0.6v0.6h-0.6zM103.7 131.7h0.6v0.6h-0.6zM98.9 142.1h0.6v0.6h-0.6zM85.6 141.4h0.6v0.6h-0.6zM94.2 145.0h0.6v0.6h-0.6zM91.4 143.4h0.6v0.6h-0.6zM81.7 132.3h0.6v0.6h-0.6zM101.3 149.3h0.6v0.6h-0.6zM94.9 136.2h0.6v0.6h-0.6zM103.7 124.3h0.6v0.6h-0.6zM88.6 146.4h0.6v0.6h-0.6zM100.2 132.7h0.6v0.6h-0.6zM79.9 152.6h0.6v0.6h-0.6zM96.2 133.8h0.6v0.6h-0.6zM95.4 148.2h0.6v0.6h-0.6zM74.3 149.9h0.6v0.6h-0.6zM100.9 124.4h0.6v0.6h-0.6zM101.2 126.8h0.6v0.6h-0.6zM104.1 144.2h0.6v0.6h-0.6zM113.0 136.1h0.6v0.6h-0.6zM95.0 149.4h0.6v0.6h-0.6zM89.9 135.4h0.6v0.6h-0.6zM92.0 140.4h0.6v0.6h-0.6zM86.3 144.9h0.6v0.6h-0.6zM99.3 141.6h0.6v0.6h-0.6zM108.6 138.4h0.6v0.6h-0.6zM105.5 136.6h0.6v0.6h-0.6zM101.0 125.5h0.6v0.6h-0.6zM96.6 139.6h0.6v0.6h-0.6zM91.0 136.1h0.6v0.6h-0.6zM92.2 135.2h0.6v0.6h-0.6zM77.5 136.2h0.6v0.6h-0.6zM90.6 136.8h0.6v0.6h-0.6zM86.5 139.9h0.6v0.6h-0.6zM101.3 139.0h0.6v0.6h-0.6zM91.1 151.9h0.6v0.6h-0.6zM102.8 148.4h0.6v0.6h-0.6zM104.2 138.4h0.6v0.6h-0.6zM94.0 149.9h0.6v0.6h-0.6zM90.6 140.0h0.6v0.6h-0.6zM98.0 144.0h0.6v0.6h-0.6zM92.8 148.9h0.6v0.6h-0.6zM93.6 146.8h0.6v0.6h-0.6zM103.6 146.3h0.6v0.6h-0.6zM100.9 131.7h0.6v0.6h-0.6zM84.5 136.1h0.6v0.6h-0.6zM98.8 153.0h0.6v0.6h-0.6zM85.2 143.5h0.6v0.6h-0.6zM88.2 135.1h0.6v0.6h-0.6zM92.8 146.5h0.6v0.6h-0.6zM96.7 150.4h0.6v0.6h-0.6zM87.1 148.1h0.6v0.6h-0.6zM102.4 141.6h0.6v0.6h-0.6zM98.8 136.5h0.6v0.6h-0.6zM86.3 137.8h0.6v0.6h-0.6zM91.1 154.2h0.6v0.6h-0.6zM96.6 143.5h0.6v0.6h-0.6zM100.9 134.8h0.6v0.6h-0.6z" fill="#111" opacity="0.55"/>
<path d="M84.4 136.1h0.6v0.6h-0.6zM67.4 138.6h0.6v0.6h-0.6zM81.9 137.0h0.6v0.6h-0.6zM89.1 127.4h0.6v0.6h-0.6zM81.6 140.2h0.6v0.6h-0.6zM71.7 145.2h0.6v0.6h-0.6zM67.8 117.7h0.6v0.6h-0.6zM81.7 120.0h0.6v0.6h-0.6zM77.2 113.9h0.6v0.6h-0.6zM78.5 119.5h0.6v0.6h-0.6zM80.4 115.1h0.6v0.6h-0.6zM81.1 129.1h0.6v0.6h-0.6zM78.4 131.3h0.6v0.6h-0.6zM78.9 117.5h0.6v0.6h-0.6zM71.4 127.0h0.6v0.6h-0.6zM81.0 110.2h0.6v0.6h-0.6zM72.7 125.3h0.6v0.6h-0.6zM70.6 135.6h0.6v0.6h-0.6zM77.0 123.0h0.6v0.6h-0.6zM71.1 140.9h0.6v0.6h-0.6zM73.4 138.4h0.6v0.6h-0.6zM81.1 111.2h0.6v0.6h-0.6zM70.4 132.0h0.6v0.6h-0.6zM80.4 140.6h0.6v0.6h-0.6zM83.6 143.4h0.6v0.6h-0.6zM75.4 129.7h0.6v0.6h-0.6zM83.4 127.3h0.6v0.6h-0.6zM85.4 114.5h0.6v0.6h-0.6zM82.6 130.1h0.6v0.6h-0.6zM80.2 132.2h0.6v0.6h-0.6zM70.5 126.9h0.6v0.6h-0.6zM88.6 122.9h0.6v0.6h-0.6zM69.6 130.5h0.6v0.6h-0.6zM75.2 122.0h0.6v0.6h-0.6zM72.1 143.5h0.6v0.6h-0.6zM67.9 153.5h0.6v0.6h-0.6zM74.2 120.0h0.6v0.6h-0.6zM83.5 138.2h0.6v0.6h-0.6zM70.7 140.2h0.6v0.6h-0.6zM65.1 121.8h0.6v0.6h-0.6zM85.9 129.2h0.6v0.6h-0.6zM68.9 137.7h0.6v0.6h-0.6zM84.4 131.8h0.6v0.6h-0.6zM65.4 128.2h0.6v0.6h-0.6zM80.9 140.5h0.6v0.6h-0.6zM91.0 129.2h0.6v0.6h-0.6zM74.6 131.6h0.6v0.6h-0.6zM86.4 121.6h0.6v0.6h-0.6zM87.1 101.8h0.6v0.6h-0.6zM83.6 124.6h0.6v0.6h-0.6zM81.2 139.6h0.6v0.6h-0.6zM69.7 131.0h0.6v0.6h-0.6zM79.7 138.5h0.6v0.6h-0.6zM71.5 121.1h0.6v0.6h-0.6zM76.7 129.6h0.6v0.6h-0.6zM67.5 142.2h0.6v0.6h-0.6zM74.3 147.8h0.6v0.6h-0.6zM84.0 132.2h0.6v0.6h-0.6zM83.1 119.8h0.6v0.6h-0.6zM75.7 125.7h0.6v0.6h-0.6zM69.1 132.2h0.6v0.6h-0.6zM77.0 147.8h0.6v0.6h-0.6zM71.6 126.9h0.6v0.6h-0.6zM81.0 136.4h0.6v0.6h-0.6zM78.2 126.8h0.6v0.6h-0.6z" fill="#111" opacity="0.45"/>
<g filter="url(#b7)"><path d="M71.5,117 C72.5,115.5 75,115.1 78,115.1 C81.5,115.1 84,116 85.3,117.8 C86,118.8 87,119.5 88.5,119.7 C93,120.3 98,120.6 100.8,122 C98,123.5 93,124 88.5,124.8 C86.8,125.5 86.4,128 86.4,133 C86.4,138 86.6,141 88.5,143 C90.3,145 90.6,147.5 89.5,149 C88,149.9 84,149.7 76,149.7 C72,149.7 70.6,148 70.4,144 C70.1,136 70.1,126 70.4,121 C70.6,119 70.9,117.8 71.5,117 Z" fill="none" stroke="#333" stroke-width="3.0" opacity="0.5"/></g>
<g filter="url(#b6)"><path d="M71.5,117 C72.5,115.5 75,115.1 78,115.1 C81.5,115.1 84,116 85.3,117.8 C86,118.8 87,119.5 88.5,119.7 C93,120.3 98,120.6 100.8,122 C98,123.5 93,124 88.5,124.8 C86.8,125.5 86.4,128 86.4,133 C86.4,138 86.6,141 88.5,143 C90.3,145 90.6,147.5 89.5,149 C88,149.9 84,149.7 76,149.7 C72,149.7 70.6,148 70.4,144 C70.1,136 70.1,126 70.4,121 C70.6,119 70.9,117.8 71.5,117 Z" fill="none" stroke="#333" stroke-width="1.4"/></g>
<path d="M71.5,117 C72.5,115.5 75,115.1 78,115.1 C81.5,115.1 84,116 85.3,117.8 C86,118.8 87,119.5 88.5,119.7 C93,120.3 98,120.6 100.8,122 C98,123.5 93,124 88.5,124.8 C86.8,125.5 86.4,128 86.4,133 C86.4,138 86.6,141 88.5,143 C90.3,145 90.6,147.5 89.5,149 C88,149.9 84,149.7 76,149.7 C72,149.7 70.6,148 70.4,144 C70.1,136 70.1,126 70.4,121 C70.6,119 70.9,117.8 71.5,117 Z" fill="url(#blobg2)" stroke="#555" stroke-width="0.5" stroke-linejoin="round"/>
<g filter="url(#b7)"><ellipse cx="76.6" cy="126" rx="1.1" ry="5.5" fill="#fff" opacity="0.75"/></g>
<g filter="url(#b7)"><path d="M85.3,117.8 C86,118.8 87,119.5 88.5,119.7 C93,120.3 98,120.6 100.8,122 C98,123.5 93,124 88.5,124.8 C86.8,125.5 86.4,128 86.4,133 C86.4,138 86.6,141 88.5,143 C90.3,145 90.6,147.5 89.5,149 C88,149.9 84,149.7 76,149.7 C73,149.7 71.5,149 71,147" fill="none" stroke="#0a0a0a" stroke-width="1.2" opacity="0.8" stroke-linejoin="round" stroke-linecap="round"/></g>
<path d="M74.5,118.5 C79.5,117.5 83.5,119 83.5,125 C83.5,133 83.6,139 86,143 C87.6,146 86,147.6 80,147.6 C74.5,147.6 72.8,145 72.6,139 C72.4,131 72.4,124 74.5,118.5 Z" fill="none" stroke="#8a8a8a" stroke-width="0.4" />
<path d="M88.5,121.7 C92,121.6 96,121.8 98.5,122.1 C96,122.6 92,123 88.5,123.2 Z" fill="none" stroke="#8a8a8a" stroke-width="0.4" />
<rect x="64.30" y="94.50" width="66.70" height="65.90" fill="none" stroke="#1a1a1a" stroke-width="0.9" />
<path d="M65.80,160.85v1.80M70.63,160.85v1.08M73.46,160.85v1.08M75.46,160.85v1.08M77.02,160.85v1.08M78.29,160.85v1.08M79.36,160.85v1.08M80.29,160.85v1.08M81.12,160.85v1.08M81.85,160.85v1.80M86.68,160.85v1.08M89.51,160.85v1.08M91.51,160.85v1.08M93.07,160.85v1.08M94.34,160.85v1.08M95.41,160.85v1.08M96.34,160.85v1.08M97.17,160.85v1.08M97.90,160.85v1.80M102.73,160.85v1.08M105.56,160.85v1.08M107.56,160.85v1.08M109.12,160.85v1.08M110.39,160.85v1.08M111.46,160.85v1.08M112.39,160.85v1.08M113.22,160.85v1.08M113.95,160.85v1.80M118.78,160.85v1.08M121.61,160.85v1.08M123.61,160.85v1.08M125.17,160.85v1.08M126.44,160.85v1.08M127.51,160.85v1.08M128.44,160.85v1.08M129.27,160.85v1.08M130.00,160.85v1.8" fill="none" stroke="#222" stroke-width="0.55" />
<path d="M63.849999999999994,159.40h-1.80M63.849999999999994,154.63h-1.08M63.849999999999994,151.84h-1.08M63.849999999999994,149.86h-1.08M63.849999999999994,148.32h-1.08M63.849999999999994,147.07h-1.08M63.849999999999994,146.01h-1.08M63.849999999999994,145.09h-1.08M63.849999999999994,144.28h-1.08M63.849999999999994,143.55h-1.80M63.849999999999994,138.78h-1.08M63.849999999999994,135.99h-1.08M63.849999999999994,134.01h-1.08M63.849999999999994,132.47h-1.08M63.849999999999994,131.22h-1.08M63.849999999999994,130.16h-1.08M63.849999999999994,129.24h-1.08M63.849999999999994,128.43h-1.08M63.849999999999994,127.70h-1.80M63.849999999999994,122.93h-1.08M63.849999999999994,120.14h-1.08M63.849999999999994,118.16h-1.08M63.849999999999994,116.62h-1.08M63.849999999999994,115.37h-1.08M63.849999999999994,114.31h-1.08M63.849999999999994,113.39h-1.08M63.849999999999994,112.58h-1.08M63.849999999999994,111.85h-1.80M63.849999999999994,107.08h-1.08M63.849999999999994,104.29h-1.08M63.849999999999994,102.31h-1.08M63.849999999999994,100.77h-1.08M63.849999999999994,99.52h-1.08M63.849999999999994,98.46h-1.08M63.849999999999994,97.54h-1.08M63.849999999999994,96.73h-1.08M63.849999999999994,96.00h-1.8" fill="none" stroke="#222" stroke-width="0.55" />
<path d="M63.1 149.3h1.0v1.0h-1.0zM62.0 148.6h1.0v1.0h-1.0zM62.2 147.7h1.0v1.0h-1.0zM63.0 149.0h1.0v1.0h-1.0zM63.0 148.0h1.0v1.0h-1.0zM62.8 148.0h1.0v1.0h-1.0zM63.1 149.6h1.0v1.0h-1.0zM63.8 150.2h1.0v1.0h-1.0zM62.5 148.4h1.0v1.0h-1.0zM62.4 149.2h1.0v1.0h-1.0zM63.9 149.6h1.0v1.0h-1.0zM61.8 147.6h1.0v1.0h-1.0zM62.3 149.4h1.0v1.0h-1.0zM62.9 149.2h1.0v1.0h-1.0zM63.8 148.1h1.0v1.0h-1.0zM62.5 150.9h1.0v1.0h-1.0zM63.1 148.1h1.0v1.0h-1.0zM61.9 147.4h1.0v1.0h-1.0zM61.7 149.0h1.0v1.0h-1.0zM62.9 149.9h1.0v1.0h-1.0zM62.8 148.2h1.0v1.0h-1.0zM62.5 150.8h1.0v1.0h-1.0zM62.0 149.1h1.0v1.0h-1.0zM62.9 149.5h1.0v1.0h-1.0zM62.7 149.4h1.0v1.0h-1.0zM63.3 148.8h1.0v1.0h-1.0zM62.7 148.7h1.0v1.0h-1.0zM62.4 148.7h1.0v1.0h-1.0zM62.7 149.1h1.0v1.0h-1.0zM63.6 150.2h1.0v1.0h-1.0z" fill="#111" opacity="1.0"/>
<path d="M75.8 161.9h0.9v0.9h-0.9zM79.5 162.0h0.9v0.9h-0.9zM78.1 161.8h0.9v0.9h-0.9zM75.7 161.4h0.9v0.9h-0.9zM82.4 162.2h0.9v0.9h-0.9zM81.3 161.9h0.9v0.9h-0.9zM79.3 161.5h0.9v0.9h-0.9zM69.1 161.9h0.9v0.9h-0.9zM79.0 161.5h0.9v0.9h-0.9zM73.2 162.1h0.9v0.9h-0.9zM69.0 162.3h0.9v0.9h-0.9zM81.2 162.5h0.9v0.9h-0.9zM74.4 161.7h0.9v0.9h-0.9zM75.5 161.8h0.9v0.9h-0.9zM77.0 161.4h0.9v0.9h-0.9zM83.4 161.4h0.9v0.9h-0.9zM75.5 161.9h0.9v0.9h-0.9zM75.3 161.5h0.9v0.9h-0.9zM79.8 161.6h0.9v0.9h-0.9zM71.8 161.7h0.9v0.9h-0.9zM76.9 162.3h0.9v0.9h-0.9zM72.5 162.0h0.9v0.9h-0.9zM74.1 161.6h0.9v0.9h-0.9zM76.4 161.8h0.9v0.9h-0.9zM82.3 162.3h0.9v0.9h-0.9zM74.8 162.2h0.9v0.9h-0.9zM83.0 162.0h0.9v0.9h-0.9zM74.2 162.0h0.9v0.9h-0.9zM77.5 161.8h0.9v0.9h-0.9zM76.7 161.9h0.9v0.9h-0.9zM83.6 162.1h0.9v0.9h-0.9zM77.0 162.0h0.9v0.9h-0.9zM85.3 161.4h0.9v0.9h-0.9zM85.4 161.2h0.9v0.9h-0.9zM80.7 161.9h0.9v0.9h-0.9zM85.4 161.8h0.9v0.9h-0.9zM75.6 161.4h0.9v0.9h-0.9zM71.7 162.0h0.9v0.9h-0.9zM76.8 161.4h0.9v0.9h-0.9zM80.7 161.4h0.9v0.9h-0.9z" fill="#111" opacity="1.0"/>
<path d="M65.1 123.1h0.8v0.8h-0.8zM66.0 150.0h0.8v0.8h-0.8zM65.2 107.5h0.8v0.8h-0.8zM65.4 130.5h0.8v0.8h-0.8zM65.4 137.4h0.8v0.8h-0.8zM65.2 142.5h0.8v0.8h-0.8zM65.6 132.4h0.8v0.8h-0.8zM65.1 122.8h0.8v0.8h-0.8zM65.6 114.1h0.8v0.8h-0.8zM65.2 119.0h0.8v0.8h-0.8zM64.7 138.0h0.8v0.8h-0.8zM65.3 130.0h0.8v0.8h-0.8zM65.6 108.6h0.8v0.8h-0.8zM65.3 133.5h0.8v0.8h-0.8zM65.6 114.3h0.8v0.8h-0.8zM65.6 132.6h0.8v0.8h-0.8zM65.8 145.4h0.8v0.8h-0.8zM65.5 159.6h0.8v0.8h-0.8zM65.3 123.6h0.8v0.8h-0.8zM65.2 116.3h0.8v0.8h-0.8zM65.3 103.2h0.8v0.8h-0.8zM65.3 135.5h0.8v0.8h-0.8zM65.7 124.6h0.8v0.8h-0.8zM65.9 120.4h0.8v0.8h-0.8zM65.2 103.2h0.8v0.8h-0.8zM65.0 118.4h0.8v0.8h-0.8zM65.9 136.8h0.8v0.8h-0.8zM64.9 136.8h0.8v0.8h-0.8zM65.5 126.3h0.8v0.8h-0.8zM65.3 125.3h0.8v0.8h-0.8zM65.1 105.3h0.8v0.8h-0.8zM65.3 147.1h0.8v0.8h-0.8zM65.9 125.7h0.8v0.8h-0.8zM65.0 126.6h0.8v0.8h-0.8zM65.7 134.3h0.8v0.8h-0.8zM65.1 134.4h0.8v0.8h-0.8zM65.2 136.5h0.8v0.8h-0.8zM65.1 109.4h0.8v0.8h-0.8zM65.3 139.9h0.8v0.8h-0.8zM64.9 128.0h0.8v0.8h-0.8z" fill="#111" opacity="1.0"/>
<path d="M201.1 51.3h0.6v0.6h-0.6zM181.8 74.8h0.6v0.6h-0.6zM200.5 65.0h0.6v0.6h-0.6zM178.0 70.9h0.6v0.6h-0.6zM169.0 50.0h0.6v0.6h-0.6zM199.4 68.0h0.6v0.6h-0.6zM178.2 48.5h0.6v0.6h-0.6zM192.5 36.2h0.6v0.6h-0.6zM198.1 60.4h0.6v0.6h-0.6zM184.3 60.2h0.6v0.6h-0.6zM199.8 58.0h0.6v0.6h-0.6zM196.6 69.7h0.6v0.6h-0.6zM184.0 56.6h0.6v0.6h-0.6zM183.4 65.0h0.6v0.6h-0.6zM184.9 59.6h0.6v0.6h-0.6zM191.7 55.6h0.6v0.6h-0.6zM211.6 54.2h0.6v0.6h-0.6zM207.9 63.0h0.6v0.6h-0.6zM206.6 53.4h0.6v0.6h-0.6zM201.7 62.3h0.6v0.6h-0.6zM182.3 57.6h0.6v0.6h-0.6zM188.4 54.7h0.6v0.6h-0.6zM206.4 48.0h0.6v0.6h-0.6zM168.9 38.2h0.6v0.6h-0.6zM184.3 48.8h0.6v0.6h-0.6zM190.2 60.5h0.6v0.6h-0.6zM212.1 58.0h0.6v0.6h-0.6zM195.8 47.9h0.6v0.6h-0.6zM197.3 68.1h0.6v0.6h-0.6zM206.8 36.2h0.6v0.6h-0.6zM201.2 70.3h0.6v0.6h-0.6zM200.4 40.6h0.6v0.6h-0.6zM186.2 60.7h0.6v0.6h-0.6zM195.2 47.2h0.6v0.6h-0.6zM178.8 64.3h0.6v0.6h-0.6zM173.3 68.8h0.6v0.6h-0.6zM190.3 57.9h0.6v0.6h-0.6zM173.3 49.3h0.6v0.6h-0.6zM198.6 40.8h0.6v0.6h-0.6zM215.9 41.5h0.6v0.6h-0.6zM174.7 55.4h0.6v0.6h-0.6zM196.0 62.1h0.6v0.6h-0.6zM185.4 53.0h0.6v0.6h-0.6zM187.0 49.5h0.6v0.6h-0.6zM157.8 64.2h0.6v0.6h-0.6zM193.1 56.5h0.6v0.6h-0.6zM182.1 57.4h0.6v0.6h-0.6zM189.8 54.3h0.6v0.6h-0.6zM203.8 38.5h0.6v0.6h-0.6zM193.1 44.8h0.6v0.6h-0.6zM186.0 69.4h0.6v0.6h-0.6zM176.5 54.0h0.6v0.6h-0.6zM182.6 64.1h0.6v0.6h-0.6zM177.8 38.8h0.6v0.6h-0.6zM196.4 51.6h0.6v0.6h-0.6zM186.0 65.4h0.6v0.6h-0.6zM178.9 51.4h0.6v0.6h-0.6zM191.8 59.0h0.6v0.6h-0.6zM183.5 64.9h0.6v0.6h-0.6zM213.3 34.7h0.6v0.6h-0.6zM207.6 51.7h0.6v0.6h-0.6zM191.7 51.7h0.6v0.6h-0.6zM182.1 42.7h0.6v0.6h-0.6zM185.1 67.4h0.6v0.6h-0.6zM204.2 51.7h0.6v0.6h-0.6zM183.4 48.3h0.6v0.6h-0.6zM175.0 72.3h0.6v0.6h-0.6zM198.3 56.1h0.6v0.6h-0.6zM183.9 45.2h0.6v0.6h-0.6zM206.4 62.5h0.6v0.6h-0.6zM178.1 64.5h0.6v0.6h-0.6zM176.2 61.2h0.6v0.6h-0.6zM178.0 51.0h0.6v0.6h-0.6zM196.2 59.2h0.6v0.6h-0.6zM202.6 47.0h0.6v0.6h-0.6zM209.7 67.9h0.6v0.6h-0.6zM189.9 59.5h0.6v0.6h-0.6zM180.3 53.5h0.6v0.6h-0.6zM173.5 55.9h0.6v0.6h-0.6zM192.5 67.9h0.6v0.6h-0.6zM201.8 62.8h0.6v0.6h-0.6zM185.5 52.8h0.6v0.6h-0.6zM185.7 57.1h0.6v0.6h-0.6zM165.9 62.4h0.6v0.6h-0.6zM170.4 50.1h0.6v0.6h-0.6zM190.3 50.1h0.6v0.6h-0.6zM210.8 54.1h0.6v0.6h-0.6zM209.6 66.3h0.6v0.6h-0.6zM183.8 58.8h0.6v0.6h-0.6zM206.2 51.8h0.6v0.6h-0.6zM191.1 49.6h0.6v0.6h-0.6zM190.7 51.6h0.6v0.6h-0.6zM191.0 64.6h0.6v0.6h-0.6zM207.4 56.3h0.6v0.6h-0.6zM192.5 63.2h0.6v0.6h-0.6zM186.4 44.8h0.6v0.6h-0.6zM203.9 46.0h0.6v0.6h-0.6zM201.6 45.7h0.6v0.6h-0.6zM212.8 45.0h0.6v0.6h-0.6zM200.6 69.4h0.6v0.6h-0.6zM178.0 69.3h0.6v0.6h-0.6zM179.7 38.1h0.6v0.6h-0.6zM199.0 61.7h0.6v0.6h-0.6zM187.5 30.8h0.6v0.6h-0.6zM189.3 52.1h0.6v0.6h-0.6zM185.3 52.2h0.6v0.6h-0.6zM167.7 49.6h0.6v0.6h-0.6zM212.5 69.8h0.6v0.6h-0.6zM185.5 48.2h0.6v0.6h-0.6zM194.9 65.2h0.6v0.6h-0.6zM199.0 43.8h0.6v0.6h-0.6zM192.0 56.3h0.6v0.6h-0.6zM208.0 66.5h0.6v0.6h-0.6zM196.5 66.7h0.6v0.6h-0.6zM185.1 69.8h0.6v0.6h-0.6zM184.7 58.8h0.6v0.6h-0.6zM201.5 46.2h0.6v0.6h-0.6zM181.2 38.1h0.6v0.6h-0.6zM192.1 54.5h0.6v0.6h-0.6zM185.9 59.8h0.6v0.6h-0.6zM163.6 54.8h0.6v0.6h-0.6zM191.1 52.4h0.6v0.6h-0.6zM199.9 71.8h0.6v0.6h-0.6zM184.4 46.0h0.6v0.6h-0.6zM182.5 55.9h0.6v0.6h-0.6zM197.3 46.7h0.6v0.6h-0.6zM202.5 45.2h0.6v0.6h-0.6zM200.3 59.1h0.6v0.6h-0.6zM195.8 75.7h0.6v0.6h-0.6zM186.7 53.4h0.6v0.6h-0.6zM195.9 63.3h0.6v0.6h-0.6zM173.3 57.6h0.6v0.6h-0.6zM180.7 61.1h0.6v0.6h-0.6zM207.1 55.5h0.6v0.6h-0.6zM188.7 56.8h0.6v0.6h-0.6zM153.1 62.4h0.6v0.6h-0.6zM197.0 56.6h0.6v0.6h-0.6zM185.1 48.0h0.6v0.6h-0.6zM187.8 66.6h0.6v0.6h-0.6zM188.7 67.9h0.6v0.6h-0.6zM157.9 50.6h0.6v0.6h-0.6zM193.4 54.9h0.6v0.6h-0.6zM169.3 48.6h0.6v0.6h-0.6zM205.6 42.6h0.6v0.6h-0.6zM177.6 44.5h0.6v0.6h-0.6zM183.1 61.2h0.6v0.6h-0.6zM197.4 35.5h0.6v0.6h-0.6zM208.2 49.3h0.6v0.6h-0.6zM182.7 71.0h0.6v0.6h-0.6zM189.0 43.1h0.6v0.6h-0.6zM182.0 48.0h0.6v0.6h-0.6zM177.4 51.8h0.6v0.6h-0.6zM201.0 58.4h0.6v0.6h-0.6zM172.8 81.8h0.6v0.6h-0.6zM177.6 56.1h0.6v0.6h-0.6zM190.4 62.3h0.6v0.6h-0.6zM185.9 59.4h0.6v0.6h-0.6zM216.3 55.9h0.6v0.6h-0.6zM176.5 58.2h0.6v0.6h-0.6zM180.0 51.4h0.6v0.6h-0.6zM192.3 58.2h0.6v0.6h-0.6zM186.5 63.1h0.6v0.6h-0.6zM187.6 42.5h0.6v0.6h-0.6zM201.0 51.5h0.6v0.6h-0.6zM205.1 48.7h0.6v0.6h-0.6zM197.1 58.0h0.6v0.6h-0.6zM156.3 40.7h0.6v0.6h-0.6zM176.0 68.5h0.6v0.6h-0.6zM166.4 63.8h0.6v0.6h-0.6zM203.6 59.8h0.6v0.6h-0.6zM198.4 50.2h0.6v0.6h-0.6zM189.9 57.2h0.6v0.6h-0.6zM195.3 61.8h0.6v0.6h-0.6zM187.4 48.3h0.6v0.6h-0.6zM183.0 58.9h0.6v0.6h-0.6zM169.3 43.0h0.6v0.6h-0.6zM184.9 49.7h0.6v0.6h-0.6zM186.6 29.4h0.6v0.6h-0.6zM185.7 52.6h0.6v0.6h-0.6zM199.7 36.0h0.6v0.6h-0.6zM186.2 59.6h0.6v0.6h-0.6zM196.1 66.5h0.6v0.6h-0.6zM203.2 44.9h0.6v0.6h-0.6zM197.9 51.8h0.6v0.6h-0.6zM180.0 69.7h0.6v0.6h-0.6zM182.1 46.8h0.6v0.6h-0.6zM184.9 46.8h0.6v0.6h-0.6zM202.6 58.7h0.6v0.6h-0.6zM207.5 59.0h0.6v0.6h-0.6zM182.3 65.1h0.6v0.6h-0.6zM181.8 50.6h0.6v0.6h-0.6zM187.9 55.4h0.6v0.6h-0.6zM204.9 49.2h0.6v0.6h-0.6zM194.4 54.7h0.6v0.6h-0.6zM174.3 44.5h0.6v0.6h-0.6zM187.3 58.9h0.6v0.6h-0.6zM194.0 59.6h0.6v0.6h-0.6zM190.6 50.7h0.6v0.6h-0.6zM195.3 45.3h0.6v0.6h-0.6z" fill="#555" opacity="0.45"/>
<path d="M195.00,48.75 L194.85,51.71 L194.40,53.29 L193.65,54.52 L192.60,55.53 L191.23,56.36 L189.53,57.03 L187.46,57.54 L184.94,57.91 L181.72,58.13 L175.65,58.20 L169.58,58.13 L166.36,57.91 L163.84,57.54 L161.77,57.03 L160.07,56.36 L158.70,55.53 L157.65,54.52 L156.90,53.29 L156.45,51.71 L156.30,48.75 L156.45,45.79 L156.90,44.21 L157.65,42.98 L158.70,41.97 L160.07,41.14 L161.77,40.47 L163.84,39.96 L166.36,39.59 L169.58,39.37 L175.65,39.30 L181.72,39.37 L184.94,39.59 L187.46,39.96 L189.53,40.47 L191.23,41.14 L192.60,41.97 L193.65,42.98 L194.40,44.21 L194.85,45.79 Z M192.45,48.58 L192.31,51.19 L191.88,52.64 L191.17,53.80 L190.17,54.75 L188.87,55.54 L187.27,56.18 L185.32,56.67 L182.97,57.02 L180.01,57.23 L174.69,57.30 L169.36,57.23 L166.40,57.02 L164.05,56.67 L162.10,56.18 L160.50,55.54 L159.20,54.75 L158.20,53.80 L157.49,52.64 L157.06,51.19 L156.92,48.58 L157.06,45.96 L157.49,44.51 L158.20,43.35 L159.20,42.40 L160.50,41.61 L162.10,40.97 L164.05,40.48 L166.40,40.13 L169.36,39.92 L174.68,39.85 L180.01,39.92 L182.97,40.13 L185.32,40.48 L187.27,40.97 L188.87,41.61 L190.17,42.40 L191.17,43.35 L191.88,44.51 L192.31,45.96 Z M189.90,48.40 L189.77,50.68 L189.36,52.02 L188.69,53.09 L187.74,53.99 L186.52,54.73 L185.02,55.33 L183.21,55.80 L181.04,56.13 L178.34,56.33 L173.72,56.40 L169.10,56.33 L166.40,56.13 L164.23,55.80 L162.42,55.33 L160.92,54.73 L159.70,53.99 L158.75,53.09 L158.08,52.02 L157.67,50.68 L157.54,48.40 L157.67,46.12 L158.08,44.78 L158.75,43.71 L159.70,42.81 L160.92,42.07 L162.42,41.47 L164.23,41.00 L166.40,40.67 L169.10,40.47 L173.72,40.40 L178.34,40.47 L181.04,40.67 L183.21,41.00 L185.02,41.47 L186.52,42.07 L187.74,42.81 L188.69,43.71 L189.36,44.78 L189.77,46.12 Z M187.35,48.22 L187.22,50.19 L186.84,51.41 L186.21,52.40 L185.33,53.23 L184.19,53.92 L182.79,54.49 L181.12,54.93 L179.14,55.25 L176.71,55.44 L172.76,55.50 L168.80,55.44 L166.37,55.25 L164.39,54.93 L162.72,54.49 L161.32,53.92 L160.18,53.23 L159.30,52.40 L158.67,51.41 L158.29,50.19 L158.16,48.23 L158.29,46.26 L158.67,45.04 L159.30,44.05 L160.18,43.22 L161.32,42.53 L162.72,41.96 L164.39,41.52 L166.37,41.20 L168.80,41.01 L172.75,40.95 L176.71,41.01 L179.14,41.20 L181.12,41.52 L182.79,41.96 L184.19,42.53 L185.33,43.22 L186.21,44.05 L186.84,45.04 L187.22,46.26 Z M184.80,48.05 L184.68,49.72 L184.33,50.81 L183.74,51.71 L182.92,52.48 L181.87,53.13 L180.59,53.65 L179.07,54.07 L177.28,54.36 L175.12,54.54 L171.79,54.60 L168.46,54.54 L166.30,54.36 L164.51,54.07 L162.99,53.65 L161.71,53.13 L160.66,52.48 L159.84,51.71 L159.25,50.81 L158.90,49.72 L158.78,48.05 L158.90,46.38 L159.25,45.29 L159.84,44.39 L160.66,43.62 L161.71,42.97 L162.99,42.45 L164.51,42.03 L166.30,41.74 L168.46,41.56 L171.79,41.50 L175.12,41.56 L177.28,41.74 L179.07,42.03 L180.59,42.45 L181.87,42.97 L182.92,43.62 L183.74,44.39 L184.33,45.29 L184.68,46.38 Z M182.25,47.88 L182.14,49.27 L181.82,50.24 L181.28,51.05 L180.53,51.75 L179.58,52.34 L178.42,52.82 L177.05,53.21 L175.45,53.48 L173.57,53.64 L170.83,53.70 L168.08,53.64 L166.20,53.48 L164.60,53.21 L163.23,52.82 L162.07,52.34 L161.12,51.75 L160.37,51.05 L159.83,50.24 L159.51,49.27 L159.40,47.88 L159.51,46.48 L159.83,45.51 L160.37,44.70 L161.12,44.00 L162.07,43.41 L163.23,42.93 L164.60,42.54 L166.20,42.27 L168.08,42.11 L170.82,42.05 L173.57,42.11 L175.45,42.27 L177.05,42.54 L178.42,42.93 L179.58,43.41 L180.53,44.00 L181.28,44.70 L181.82,45.51 L182.14,46.48 Z M179.70,47.70 L179.60,48.84 L179.31,49.68 L178.83,50.40 L178.15,51.02 L177.30,51.56 L176.27,52.00 L175.06,52.35 L173.68,52.60 L172.06,52.75 L169.86,52.80 L167.66,52.75 L166.04,52.60 L164.66,52.35 L163.45,52.00 L162.42,51.56 L161.57,51.02 L160.89,50.40 L160.41,49.68 L160.12,48.84 L160.02,47.70 L160.12,46.56 L160.41,45.72 L160.89,45.00 L161.57,44.38 L162.42,43.84 L163.45,43.40 L164.66,43.05 L166.04,42.80 L167.66,42.65 L169.86,42.60 L172.06,42.65 L173.68,42.80 L175.06,43.05 L176.27,43.40 L177.30,43.84 L178.15,44.38 L178.83,45.00 L179.31,45.72 L179.60,46.56 Z M177.15,47.53 L177.06,48.43 L176.81,49.14 L176.38,49.77 L175.79,50.31 L175.05,50.79 L174.16,51.18 L173.12,51.49 L171.95,51.72 L170.61,51.85 L168.90,51.90 L167.18,51.85 L165.84,51.72 L164.67,51.49 L163.63,51.18 L162.74,50.79 L162.00,50.31 L161.41,49.77 L160.98,49.14 L160.73,48.43 L160.64,47.53 L160.73,46.62 L160.98,45.91 L161.41,45.28 L162.00,44.74 L162.74,44.26 L163.63,43.87 L164.67,43.56 L165.84,43.33 L167.18,43.20 L168.89,43.15 L170.61,43.20 L171.95,43.33 L173.12,43.56 L174.16,43.87 L175.05,44.26 L175.79,44.74 L176.38,45.28 L176.81,45.91 L177.06,46.62 Z M174.60,47.35 L174.53,48.05 L174.31,48.63 L173.95,49.15 L173.45,49.62 L172.82,50.03 L172.08,50.37 L171.23,50.64 L170.27,50.84 L169.20,50.96 L167.93,51.00 L166.66,50.96 L165.59,50.84 L164.63,50.64 L163.78,50.37 L163.04,50.03 L162.41,49.62 L161.91,49.15 L161.55,48.63 L161.33,48.05 L161.26,47.35 L161.33,46.65 L161.55,46.07 L161.91,45.55 L162.41,45.08 L163.04,44.67 L163.78,44.33 L164.63,44.06 L165.59,43.86 L166.66,43.74 L167.93,43.70 L169.20,43.74 L170.27,43.86 L171.23,44.06 L172.08,44.33 L172.82,44.67 L173.45,45.08 L173.95,45.55 L174.31,46.07 L174.53,46.65 Z M172.05,47.17 L171.99,47.68 L171.81,48.14 L171.53,48.56 L171.13,48.95 L170.63,49.28 L170.05,49.57 L169.38,49.80 L168.64,49.96 L167.85,50.07 L166.97,50.10 L166.08,50.07 L165.29,49.96 L164.55,49.80 L163.88,49.57 L163.30,49.28 L162.80,48.95 L162.40,48.56 L162.12,48.14 L161.94,47.68 L161.88,47.17 L161.94,46.67 L162.12,46.21 L162.40,45.79 L162.80,45.40 L163.30,45.07 L163.88,44.78 L164.55,44.55 L165.29,44.39 L166.08,44.28 L166.97,44.25 L167.85,44.28 L168.64,44.39 L169.38,44.55 L170.05,44.78 L170.63,45.07 L171.13,45.40 L171.53,45.79 L171.81,46.21 L171.99,46.67 Z M169.50,47.00 L169.46,47.34 L169.33,47.68 L169.12,48.00 L168.83,48.29 L168.47,48.56 L168.06,48.78 L167.59,48.96 L167.08,49.09 L166.55,49.17 L166.00,49.20 L165.45,49.17 L164.92,49.09 L164.41,48.96 L163.94,48.78 L163.53,48.56 L163.17,48.29 L162.88,48.00 L162.67,47.68 L162.54,47.34 L162.50,47.00 L162.54,46.66 L162.67,46.32 L162.88,46.00 L163.17,45.71 L163.53,45.44 L163.94,45.22 L164.41,45.04 L164.92,44.91 L165.45,44.83 L166.00,44.80 L166.55,44.83 L167.08,44.91 L167.59,45.04 L168.06,45.22 L168.47,45.44 L168.83,45.71 L169.12,46.00 L169.33,46.32 L169.46,46.66 Z M170.50,68.25 L170.44,69.69 L170.26,70.79 L169.96,71.75 L169.55,72.58 L169.03,73.31 L168.41,73.91 L167.68,74.38 L166.85,74.72 L165.90,74.93 L164.65,75.00 L163.40,74.93 L162.45,74.72 L161.62,74.38 L160.89,73.91 L160.27,73.31 L159.75,72.58 L159.34,71.75 L159.04,70.79 L158.86,69.69 L158.80,68.25 L158.86,66.81 L159.04,65.71 L159.34,64.75 L159.75,63.92 L160.27,63.19 L160.89,62.59 L161.62,62.12 L162.45,61.78 L163.40,61.57 L164.65,61.50 L165.90,61.57 L166.85,61.78 L167.68,62.12 L168.41,62.59 L169.03,63.19 L169.55,63.92 L169.96,64.75 L170.26,65.71 L170.44,66.81 Z M169.17,68.83 L169.12,69.81 L168.97,70.61 L168.72,71.32 L168.39,71.96 L167.96,72.52 L167.46,72.98 L166.88,73.35 L166.22,73.62 L165.49,73.78 L164.60,73.83 L163.71,73.78 L162.98,73.62 L162.32,73.35 L161.74,72.98 L161.24,72.52 L160.81,71.96 L160.48,71.32 L160.23,70.61 L160.08,69.81 L160.03,68.83 L160.08,67.86 L160.23,67.06 L160.48,66.34 L160.81,65.70 L161.24,65.15 L161.74,64.69 L162.32,64.32 L162.98,64.05 L163.71,63.89 L164.60,63.83 L165.49,63.89 L166.22,64.05 L166.88,64.32 L167.46,64.69 L167.96,65.15 L168.39,65.70 L168.72,66.34 L168.97,67.06 L169.12,67.86 Z M167.83,69.42 L167.80,69.99 L167.68,70.50 L167.50,70.97 L167.24,71.39 L166.92,71.77 L166.55,72.08 L166.12,72.33 L165.64,72.52 L165.13,72.63 L164.55,72.67 L163.97,72.63 L163.46,72.52 L162.98,72.33 L162.55,72.08 L162.18,71.77 L161.86,71.39 L161.60,70.97 L161.42,70.50 L161.30,69.99 L161.27,69.42 L161.30,68.85 L161.42,68.34 L161.60,67.87 L161.86,67.44 L162.18,67.07 L162.55,66.75 L162.98,66.50 L163.46,66.32 L163.97,66.20 L164.55,66.17 L165.13,66.20 L165.64,66.32 L166.12,66.50 L166.55,66.75 L166.92,67.07 L167.24,67.44 L167.50,67.87 L167.68,68.34 L167.80,68.85 Z M166.50,70.00 L166.48,70.23 L166.40,70.46 L166.28,70.68 L166.12,70.88 L165.91,71.06 L165.68,71.21 L165.41,71.34 L165.12,71.43 L164.81,71.48 L164.50,71.50 L164.19,71.48 L163.88,71.43 L163.59,71.34 L163.32,71.21 L163.09,71.06 L162.88,70.88 L162.72,70.68 L162.60,70.46 L162.52,70.23 L162.50,70.00 L162.52,69.77 L162.60,69.54 L162.72,69.32 L162.88,69.12 L163.09,68.94 L163.32,68.79 L163.59,68.66 L163.88,68.57 L164.19,68.52 L164.50,68.50 L164.81,68.52 L165.12,68.57 L165.41,68.66 L165.68,68.79 L165.91,68.94 L166.12,69.12 L166.28,69.32 L166.40,69.54 L166.48,69.77 Z M199.50,70.50 L199.38,71.94 L199.01,72.93 L198.40,73.77 L197.54,74.49 L196.46,75.10 L195.14,75.60 L193.58,75.99 L191.77,76.27 L189.62,76.44 L186.50,76.50 L183.38,76.44 L181.23,76.27 L179.42,75.99 L177.86,75.60 L176.54,75.10 L175.46,74.49 L174.60,73.77 L173.99,72.93 L173.62,71.94 L173.50,70.50 L173.62,69.06 L173.99,68.07 L174.60,67.23 L175.46,66.51 L176.54,65.90 L177.86,65.40 L179.42,65.01 L181.23,64.73 L183.38,64.56 L186.50,64.50 L189.62,64.56 L191.77,64.73 L193.58,65.01 L195.14,65.40 L196.46,65.90 L197.54,66.51 L198.40,67.23 L199.01,68.07 L199.38,69.06 Z M197.62,70.75 L197.52,71.82 L197.21,72.62 L196.70,73.31 L195.99,73.91 L195.08,74.42 L194.00,74.85 L192.73,75.19 L191.27,75.43 L189.58,75.58 L187.31,75.62 L185.04,75.58 L183.36,75.43 L181.90,75.19 L180.63,74.85 L179.54,74.42 L178.64,73.91 L177.93,73.31 L177.41,72.62 L177.10,71.82 L177.00,70.75 L177.10,69.68 L177.41,68.88 L177.93,68.19 L178.64,67.59 L179.54,67.08 L180.63,66.65 L181.90,66.31 L183.36,66.07 L185.04,65.92 L187.31,65.88 L189.58,65.92 L191.27,66.07 L192.73,66.31 L194.00,66.65 L195.08,67.08 L195.99,67.59 L196.70,68.19 L197.21,68.88 L197.52,69.68 Z M195.75,71.00 L195.67,71.75 L195.42,72.35 L195.02,72.89 L194.47,73.36 L193.77,73.77 L192.93,74.12 L191.96,74.39 L190.87,74.59 L189.64,74.71 L188.13,74.75 L186.61,74.71 L185.38,74.59 L184.29,74.39 L183.32,74.12 L182.48,73.77 L181.78,73.36 L181.23,72.89 L180.83,72.35 L180.58,71.75 L180.50,71.00 L180.58,70.25 L180.83,69.65 L181.23,69.11 L181.78,68.64 L182.48,68.23 L183.32,67.88 L184.29,67.61 L185.38,67.41 L186.61,67.29 L188.12,67.25 L189.64,67.29 L190.87,67.41 L191.96,67.61 L192.93,67.88 L193.77,68.23 L194.47,68.64 L195.02,69.11 L195.42,69.65 L195.67,70.25 Z M193.88,71.25 L193.82,71.72 L193.65,72.13 L193.37,72.51 L192.99,72.85 L192.51,73.15 L191.95,73.41 L191.31,73.61 L190.59,73.76 L189.82,73.84 L188.94,73.88 L188.06,73.84 L187.28,73.76 L186.57,73.61 L185.93,73.41 L185.36,73.15 L184.88,72.85 L184.50,72.51 L184.23,72.13 L184.06,71.72 L184.00,71.25 L184.06,70.78 L184.23,70.37 L184.50,69.99 L184.88,69.65 L185.36,69.35 L185.93,69.09 L186.57,68.89 L187.28,68.74 L188.06,68.66 L188.94,68.62 L189.82,68.66 L190.59,68.74 L191.31,68.89 L191.95,69.09 L192.51,69.35 L192.99,69.65 L193.37,69.99 L193.65,70.37 L193.82,70.78 Z M192.00,71.50 L191.97,71.73 L191.89,71.96 L191.75,72.18 L191.57,72.38 L191.34,72.56 L191.07,72.71 L190.77,72.84 L190.45,72.93 L190.10,72.98 L189.75,73.00 L189.40,72.98 L189.05,72.93 L188.73,72.84 L188.43,72.71 L188.16,72.56 L187.93,72.38 L187.75,72.18 L187.61,71.96 L187.53,71.73 L187.50,71.50 L187.53,71.27 L187.61,71.04 L187.75,70.82 L187.93,70.62 L188.16,70.44 L188.43,70.29 L188.73,70.16 L189.05,70.07 L189.40,70.02 L189.75,70.00 L190.10,70.02 L190.45,70.07 L190.77,70.16 L191.07,70.29 L191.34,70.44 L191.57,70.62 L191.75,70.82 L191.89,71.04 L191.97,71.27 Z" fill="none" stroke="#8a8a8a" stroke-width="0.5"/>
<rect x="150.70" y="22.80" width="66.90" height="66.60" fill="none" stroke="#1a1a1a" stroke-width="0.9" />
<line x1="172.60" y1="22.80" x2="172.60" y2="89.40" stroke="#2a2a2a" stroke-width="0.85" />
<line x1="150.70" y1="59.40" x2="217.60" y2="59.40" stroke="#2a2a2a" stroke-width="0.85" />
<path d="M152.20,89.85000000000001v1.80M157.05,89.85000000000001v1.08M159.88,89.85000000000001v1.08M161.89,89.85000000000001v1.08M163.45,89.85000000000001v1.08M164.73,89.85000000000001v1.08M165.81,89.85000000000001v1.08M166.74,89.85000000000001v1.08M167.56,89.85000000000001v1.08M168.30,89.85000000000001v1.80M173.15,89.85000000000001v1.08M175.98,89.85000000000001v1.08M177.99,89.85000000000001v1.08M179.55,89.85000000000001v1.08M180.83,89.85000000000001v1.08M181.91,89.85000000000001v1.08M182.84,89.85000000000001v1.08M183.66,89.85000000000001v1.08M184.40,89.85000000000001v1.80M189.25,89.85000000000001v1.08M192.08,89.85000000000001v1.08M194.09,89.85000000000001v1.08M195.65,89.85000000000001v1.08M196.93,89.85000000000001v1.08M198.01,89.85000000000001v1.08M198.94,89.85000000000001v1.08M199.76,89.85000000000001v1.08M200.50,89.85000000000001v1.80M205.35,89.85000000000001v1.08M208.18,89.85000000000001v1.08M210.19,89.85000000000001v1.08M211.75,89.85000000000001v1.08M213.03,89.85000000000001v1.08M214.11,89.85000000000001v1.08M215.04,89.85000000000001v1.08M215.86,89.85000000000001v1.08M216.60,89.85000000000001v1.8" fill="none" stroke="#222" stroke-width="0.55" />
<path d="M150.25,88.40h-1.80M150.25,83.58h-1.08M150.25,80.75h-1.08M150.25,78.75h-1.08M150.25,77.20h-1.08M150.25,75.93h-1.08M150.25,74.86h-1.08M150.25,73.93h-1.08M150.25,73.11h-1.08M150.25,72.38h-1.80M150.25,67.55h-1.08M150.25,64.73h-1.08M150.25,62.73h-1.08M150.25,61.17h-1.08M150.25,59.91h-1.08M150.25,58.83h-1.08M150.25,57.90h-1.08M150.25,57.08h-1.08M150.25,56.35h-1.80M150.25,51.53h-1.08M150.25,48.70h-1.08M150.25,46.70h-1.08M150.25,45.15h-1.08M150.25,43.88h-1.08M150.25,42.81h-1.08M150.25,41.88h-1.08M150.25,41.06h-1.08M150.25,40.33h-1.80M150.25,35.50h-1.08M150.25,32.68h-1.08M150.25,30.68h-1.08M150.25,29.12h-1.08M150.25,27.86h-1.08M150.25,26.78h-1.08M150.25,25.85h-1.08M150.25,25.03h-1.08M150.25,24.30h-1.8" fill="none" stroke="#222" stroke-width="0.55" />
<path d="M148.9 69.6h1.0v1.0h-1.0zM148.8 69.5h1.0v1.0h-1.0zM149.1 69.4h1.0v1.0h-1.0zM149.4 69.3h1.0v1.0h-1.0zM149.2 68.6h1.0v1.0h-1.0zM149.5 69.2h1.0v1.0h-1.0zM149.6 67.9h1.0v1.0h-1.0zM149.1 70.0h1.0v1.0h-1.0zM148.5 69.6h1.0v1.0h-1.0zM149.4 69.9h1.0v1.0h-1.0zM148.8 70.0h1.0v1.0h-1.0zM149.5 69.1h1.0v1.0h-1.0zM149.7 69.8h1.0v1.0h-1.0zM149.4 69.5h1.0v1.0h-1.0zM149.6 69.9h1.0v1.0h-1.0zM149.8 70.1h1.0v1.0h-1.0zM149.2 69.6h1.0v1.0h-1.0zM149.8 69.6h1.0v1.0h-1.0zM149.5 70.2h1.0v1.0h-1.0zM149.3 68.2h1.0v1.0h-1.0z" fill="#111" opacity="1.0"/>
<path d="M172.3 90.7h0.9v0.9h-0.9zM172.3 90.4h0.9v0.9h-0.9zM174.3 90.6h0.9v0.9h-0.9zM170.8 90.4h0.9v0.9h-0.9zM172.7 90.3h0.9v0.9h-0.9zM170.1 91.2h0.9v0.9h-0.9zM174.5 90.9h0.9v0.9h-0.9zM174.6 90.8h0.9v0.9h-0.9zM168.7 90.9h0.9v0.9h-0.9zM174.4 90.7h0.9v0.9h-0.9zM168.2 91.0h0.9v0.9h-0.9zM174.6 90.5h0.9v0.9h-0.9zM172.2 90.8h0.9v0.9h-0.9zM171.8 90.9h0.9v0.9h-0.9zM172.2 90.8h0.9v0.9h-0.9zM172.2 90.2h0.9v0.9h-0.9zM170.1 91.5h0.9v0.9h-0.9zM172.5 91.0h0.9v0.9h-0.9zM174.2 91.1h0.9v0.9h-0.9zM173.1 90.4h0.9v0.9h-0.9zM172.0 90.0h0.9v0.9h-0.9zM171.6 90.9h0.9v0.9h-0.9zM167.8 90.7h0.9v0.9h-0.9zM173.6 91.0h0.9v0.9h-0.9zM170.2 90.4h0.9v0.9h-0.9z" fill="#111" opacity="1.0"/>
<text x="178.60" y="86.20" font-size="7.4" textLength="32.40" lengthAdjust="spacingAndGlyphs" >SLAM HSC</text>
<path d="M166.3 116.7h0.6v0.6h-0.6zM196.7 146.7h0.6v0.6h-0.6zM175.5 140.0h0.6v0.6h-0.6zM195.4 121.8h0.6v0.6h-0.6zM189.1 128.7h0.6v0.6h-0.6zM216.9 144.1h0.6v0.6h-0.6zM202.4 139.9h0.6v0.6h-0.6zM196.5 130.1h0.6v0.6h-0.6zM187.7 122.6h0.6v0.6h-0.6zM174.5 145.5h0.6v0.6h-0.6zM184.4 106.4h0.6v0.6h-0.6zM193.3 126.3h0.6v0.6h-0.6zM192.2 144.2h0.6v0.6h-0.6zM188.7 124.0h0.6v0.6h-0.6zM180.6 126.4h0.6v0.6h-0.6zM184.5 128.6h0.6v0.6h-0.6zM179.2 145.4h0.6v0.6h-0.6zM200.9 134.5h0.6v0.6h-0.6zM199.0 134.6h0.6v0.6h-0.6zM198.5 140.3h0.6v0.6h-0.6zM202.7 139.7h0.6v0.6h-0.6zM183.7 126.6h0.6v0.6h-0.6zM180.8 135.9h0.6v0.6h-0.6zM200.5 122.1h0.6v0.6h-0.6zM197.4 152.2h0.6v0.6h-0.6zM205.6 115.7h0.6v0.6h-0.6zM188.8 132.8h0.6v0.6h-0.6zM189.5 130.4h0.6v0.6h-0.6zM204.9 129.8h0.6v0.6h-0.6zM176.1 133.6h0.6v0.6h-0.6zM188.8 127.7h0.6v0.6h-0.6zM182.8 113.1h0.6v0.6h-0.6zM174.2 123.2h0.6v0.6h-0.6zM176.5 100.2h0.6v0.6h-0.6zM204.5 115.3h0.6v0.6h-0.6zM180.8 131.8h0.6v0.6h-0.6zM159.5 139.7h0.6v0.6h-0.6zM180.3 133.0h0.6v0.6h-0.6zM183.9 129.6h0.6v0.6h-0.6zM191.3 126.6h0.6v0.6h-0.6zM166.9 112.3h0.6v0.6h-0.6zM189.5 140.3h0.6v0.6h-0.6zM183.1 131.8h0.6v0.6h-0.6zM192.1 131.3h0.6v0.6h-0.6zM202.6 112.0h0.6v0.6h-0.6zM193.5 124.9h0.6v0.6h-0.6zM186.0 118.3h0.6v0.6h-0.6zM180.0 116.6h0.6v0.6h-0.6zM176.1 151.1h0.6v0.6h-0.6zM211.5 126.7h0.6v0.6h-0.6zM199.4 117.1h0.6v0.6h-0.6zM154.8 108.8h0.6v0.6h-0.6zM191.8 140.6h0.6v0.6h-0.6zM189.5 116.8h0.6v0.6h-0.6zM186.9 116.9h0.6v0.6h-0.6zM172.3 124.3h0.6v0.6h-0.6zM184.9 118.7h0.6v0.6h-0.6zM178.8 117.5h0.6v0.6h-0.6zM193.0 140.2h0.6v0.6h-0.6zM187.3 148.4h0.6v0.6h-0.6zM169.5 129.3h0.6v0.6h-0.6zM175.3 125.0h0.6v0.6h-0.6zM191.3 132.0h0.6v0.6h-0.6zM204.3 121.2h0.6v0.6h-0.6zM174.3 124.8h0.6v0.6h-0.6zM193.7 119.8h0.6v0.6h-0.6zM201.3 143.0h0.6v0.6h-0.6zM172.0 130.1h0.6v0.6h-0.6zM202.9 107.9h0.6v0.6h-0.6zM192.6 124.4h0.6v0.6h-0.6zM172.0 139.4h0.6v0.6h-0.6zM192.8 121.9h0.6v0.6h-0.6zM195.6 132.9h0.6v0.6h-0.6zM199.7 132.3h0.6v0.6h-0.6zM195.2 115.1h0.6v0.6h-0.6zM184.7 127.9h0.6v0.6h-0.6zM154.9 147.4h0.6v0.6h-0.6zM185.2 116.3h0.6v0.6h-0.6zM167.0 129.0h0.6v0.6h-0.6zM190.4 120.9h0.6v0.6h-0.6zM184.7 117.9h0.6v0.6h-0.6zM180.5 125.6h0.6v0.6h-0.6zM181.8 133.2h0.6v0.6h-0.6zM188.2 127.9h0.6v0.6h-0.6zM195.1 139.0h0.6v0.6h-0.6zM197.6 128.8h0.6v0.6h-0.6zM187.9 118.7h0.6v0.6h-0.6zM185.7 133.3h0.6v0.6h-0.6zM192.9 122.8h0.6v0.6h-0.6zM173.1 111.7h0.6v0.6h-0.6zM194.1 136.6h0.6v0.6h-0.6zM194.7 113.2h0.6v0.6h-0.6zM187.3 128.8h0.6v0.6h-0.6zM178.4 130.0h0.6v0.6h-0.6zM187.5 118.5h0.6v0.6h-0.6zM174.3 134.5h0.6v0.6h-0.6zM194.5 118.0h0.6v0.6h-0.6zM177.2 135.3h0.6v0.6h-0.6zM197.6 123.6h0.6v0.6h-0.6zM210.2 123.8h0.6v0.6h-0.6zM176.6 137.2h0.6v0.6h-0.6zM187.6 130.0h0.6v0.6h-0.6zM190.5 116.8h0.6v0.6h-0.6zM175.0 124.7h0.6v0.6h-0.6zM207.8 116.8h0.6v0.6h-0.6zM207.2 128.7h0.6v0.6h-0.6zM175.9 129.2h0.6v0.6h-0.6zM197.2 117.8h0.6v0.6h-0.6zM163.0 130.1h0.6v0.6h-0.6zM176.0 130.9h0.6v0.6h-0.6zM165.8 125.2h0.6v0.6h-0.6zM179.8 112.2h0.6v0.6h-0.6zM186.9 128.3h0.6v0.6h-0.6zM183.0 115.1h0.6v0.6h-0.6zM192.7 109.6h0.6v0.6h-0.6zM196.8 131.4h0.6v0.6h-0.6zM211.2 135.2h0.6v0.6h-0.6zM194.5 129.2h0.6v0.6h-0.6zM190.3 113.7h0.6v0.6h-0.6zM208.5 131.7h0.6v0.6h-0.6zM186.4 115.5h0.6v0.6h-0.6zM208.8 131.8h0.6v0.6h-0.6zM175.0 133.1h0.6v0.6h-0.6zM214.0 126.4h0.6v0.6h-0.6zM195.1 122.6h0.6v0.6h-0.6zM182.1 137.0h0.6v0.6h-0.6zM188.4 134.3h0.6v0.6h-0.6zM186.2 133.7h0.6v0.6h-0.6zM200.5 116.7h0.6v0.6h-0.6zM176.5 125.9h0.6v0.6h-0.6zM200.5 129.3h0.6v0.6h-0.6zM205.7 113.2h0.6v0.6h-0.6zM196.2 120.6h0.6v0.6h-0.6zM191.3 129.7h0.6v0.6h-0.6zM177.8 124.4h0.6v0.6h-0.6zM175.3 129.2h0.6v0.6h-0.6zM179.3 121.8h0.6v0.6h-0.6zM192.8 120.3h0.6v0.6h-0.6zM204.5 120.4h0.6v0.6h-0.6zM200.7 129.3h0.6v0.6h-0.6zM177.0 124.5h0.6v0.6h-0.6zM179.4 123.1h0.6v0.6h-0.6zM186.6 144.2h0.6v0.6h-0.6zM184.7 141.8h0.6v0.6h-0.6zM195.6 113.9h0.6v0.6h-0.6zM160.8 133.2h0.6v0.6h-0.6zM164.9 133.6h0.6v0.6h-0.6zM203.0 130.4h0.6v0.6h-0.6zM187.4 124.2h0.6v0.6h-0.6zM193.3 123.7h0.6v0.6h-0.6zM183.3 123.0h0.6v0.6h-0.6zM204.7 120.6h0.6v0.6h-0.6zM194.8 115.4h0.6v0.6h-0.6zM181.0 113.3h0.6v0.6h-0.6zM187.5 133.2h0.6v0.6h-0.6zM193.8 121.8h0.6v0.6h-0.6zM197.7 123.2h0.6v0.6h-0.6zM194.7 129.2h0.6v0.6h-0.6zM196.8 102.6h0.6v0.6h-0.6zM173.6 134.1h0.6v0.6h-0.6zM188.7 148.3h0.6v0.6h-0.6zM187.0 121.3h0.6v0.6h-0.6zM208.8 132.0h0.6v0.6h-0.6zM213.9 131.5h0.6v0.6h-0.6zM187.4 133.6h0.6v0.6h-0.6zM180.1 122.3h0.6v0.6h-0.6zM183.0 124.5h0.6v0.6h-0.6zM199.8 121.9h0.6v0.6h-0.6zM194.1 121.8h0.6v0.6h-0.6zM201.1 99.9h0.6v0.6h-0.6zM187.4 128.2h0.6v0.6h-0.6zM176.4 136.4h0.6v0.6h-0.6zM192.7 139.0h0.6v0.6h-0.6zM202.1 132.8h0.6v0.6h-0.6zM188.1 116.1h0.6v0.6h-0.6zM187.2 122.2h0.6v0.6h-0.6zM193.1 122.1h0.6v0.6h-0.6zM204.8 122.1h0.6v0.6h-0.6zM187.0 135.5h0.6v0.6h-0.6zM190.0 114.9h0.6v0.6h-0.6zM195.2 124.7h0.6v0.6h-0.6zM164.2 128.5h0.6v0.6h-0.6zM176.7 119.4h0.6v0.6h-0.6zM196.1 129.5h0.6v0.6h-0.6zM186.4 147.6h0.6v0.6h-0.6zM195.3 120.7h0.6v0.6h-0.6zM193.0 125.4h0.6v0.6h-0.6zM162.3 111.4h0.6v0.6h-0.6zM172.5 146.5h0.6v0.6h-0.6zM187.7 123.9h0.6v0.6h-0.6zM182.9 136.1h0.6v0.6h-0.6zM190.4 143.1h0.6v0.6h-0.6zM199.9 142.5h0.6v0.6h-0.6zM188.5 130.2h0.6v0.6h-0.6zM184.6 125.0h0.6v0.6h-0.6z" fill="#555" opacity="0.45"/>
<path d="M196.50,119.10 L196.33,121.83 L195.83,123.28 L194.99,124.41 L193.81,125.34 L192.28,126.11 L190.38,126.72 L188.07,127.19 L185.24,127.53 L181.64,127.73 L174.85,127.80 L168.06,127.73 L164.46,127.53 L161.63,127.19 L159.32,126.72 L157.42,126.11 L155.89,125.34 L154.71,124.41 L153.87,123.28 L153.37,121.83 L153.20,119.10 L153.37,116.37 L153.87,114.92 L154.71,113.79 L155.89,112.86 L157.42,112.09 L159.32,111.48 L161.63,111.01 L164.46,110.67 L168.06,110.47 L174.85,110.40 L181.64,110.47 L185.24,110.67 L188.07,111.01 L190.38,111.48 L192.28,112.09 L193.81,112.86 L194.99,113.79 L195.83,114.92 L196.33,116.37 Z M195.12,118.70 L194.95,120.79 L194.43,122.05 L193.57,123.07 L192.36,123.92 L190.80,124.63 L188.88,125.20 L186.57,125.65 L183.82,125.97 L180.43,126.16 L174.76,126.22 L169.10,126.16 L165.70,125.97 L162.95,125.65 L160.65,125.20 L158.73,124.63 L157.17,123.92 L155.96,123.07 L155.09,122.05 L154.57,120.79 L154.40,118.70 L154.57,116.61 L155.09,115.35 L155.96,114.33 L157.17,113.48 L158.73,112.77 L160.65,112.20 L162.95,111.75 L165.70,111.43 L169.10,111.24 L174.76,111.18 L180.43,111.24 L183.82,111.43 L186.57,111.75 L188.88,112.20 L190.80,112.77 L192.36,113.48 L193.57,114.33 L194.43,115.35 L194.95,116.61 Z M193.75,118.30 L193.57,119.82 L193.03,120.87 L192.13,121.76 L190.88,122.52 L189.29,123.16 L187.35,123.69 L185.07,124.11 L182.40,124.41 L179.25,124.59 L174.68,124.65 L170.10,124.59 L166.95,124.41 L164.28,124.11 L162.00,123.69 L160.06,123.16 L158.47,122.52 L157.22,121.76 L156.32,120.87 L155.78,119.82 L155.60,118.30 L155.78,116.78 L156.32,115.73 L157.22,114.84 L158.47,114.08 L160.06,113.44 L162.00,112.91 L164.28,112.49 L166.95,112.19 L170.10,112.01 L174.67,111.95 L179.25,112.01 L182.40,112.19 L185.07,112.49 L187.35,112.91 L189.29,113.44 L190.88,114.08 L192.13,114.84 L193.03,115.73 L193.57,116.78 Z M192.38,117.90 L192.18,118.93 L191.62,119.76 L190.68,120.50 L189.38,121.16 L187.75,121.73 L185.79,122.20 L183.54,122.58 L180.99,122.85 L178.13,123.02 L174.59,123.08 L171.04,123.02 L168.18,122.85 L165.64,122.58 L163.38,122.20 L161.43,121.73 L159.79,121.16 L158.50,120.50 L157.56,119.76 L156.99,118.93 L156.80,117.90 L156.99,116.87 L157.56,116.04 L158.50,115.30 L159.79,114.64 L161.43,114.07 L163.38,113.60 L165.64,113.22 L168.18,112.95 L171.04,112.78 L174.59,112.72 L178.13,112.78 L180.99,112.95 L183.54,113.22 L185.79,113.60 L187.75,114.07 L189.38,114.64 L190.68,115.30 L191.62,116.04 L192.18,116.87 Z M191.00,117.50 L190.80,118.13 L190.19,118.74 L189.20,119.32 L187.85,119.85 L186.17,120.33 L184.20,120.74 L181.99,121.06 L179.60,121.30 L177.08,121.45 L174.50,121.50 L171.92,121.45 L169.40,121.30 L167.01,121.06 L164.80,120.74 L162.83,120.33 L161.15,119.85 L159.80,119.32 L158.81,118.74 L158.20,118.13 L158.00,117.50 L158.20,116.87 L158.81,116.26 L159.80,115.68 L161.15,115.15 L162.83,114.67 L164.80,114.26 L167.01,113.94 L169.40,113.70 L171.92,113.55 L174.50,113.50 L177.08,113.55 L179.60,113.70 L181.99,113.94 L184.20,114.26 L186.17,114.67 L187.85,115.15 L189.20,115.68 L190.19,116.26 L190.80,116.87 Z M170.00,117.35 L169.95,118.11 L169.79,118.63 L169.53,119.07 L169.17,119.44 L168.71,119.76 L168.15,120.03 L167.50,120.23 L166.73,120.38 L165.82,120.47 L164.50,120.50 L163.18,120.47 L162.27,120.38 L161.50,120.23 L160.85,120.03 L160.29,119.76 L159.83,119.44 L159.47,119.07 L159.21,118.63 L159.05,118.11 L159.00,117.35 L159.05,116.59 L159.21,116.07 L159.47,115.63 L159.83,115.26 L160.29,114.94 L160.85,114.67 L161.50,114.47 L162.27,114.32 L163.18,114.23 L164.50,114.20 L165.82,114.23 L166.73,114.32 L167.50,114.47 L168.15,114.67 L168.71,114.94 L169.17,115.26 L169.53,115.63 L169.79,116.07 L169.95,116.59 Z M168.50,117.23 L168.45,117.77 L168.32,118.17 L168.10,118.53 L167.78,118.84 L167.39,119.11 L166.92,119.33 L166.37,119.50 L165.74,119.63 L165.02,119.71 L164.08,119.73 L163.14,119.71 L162.42,119.63 L161.80,119.50 L161.25,119.33 L160.77,119.11 L160.38,118.84 L160.07,118.53 L159.85,118.17 L159.71,117.77 L159.67,117.23 L159.71,116.70 L159.85,116.29 L160.07,115.94 L160.38,115.63 L160.77,115.36 L161.25,115.14 L161.80,114.96 L162.42,114.84 L163.14,114.76 L164.08,114.73 L165.02,114.76 L165.74,114.84 L166.37,114.96 L166.92,115.14 L167.39,115.36 L167.78,115.63 L168.10,115.94 L168.32,116.29 L168.45,116.70 Z M167.00,117.12 L166.96,117.46 L166.85,117.75 L166.67,118.02 L166.42,118.26 L166.10,118.47 L165.72,118.64 L165.29,118.78 L164.81,118.88 L164.28,118.95 L163.67,118.97 L163.05,118.95 L162.52,118.88 L162.04,118.78 L161.61,118.64 L161.23,118.47 L160.92,118.26 L160.67,118.02 L160.48,117.75 L160.37,117.46 L160.33,117.12 L160.37,116.77 L160.48,116.48 L160.67,116.21 L160.92,115.98 L161.23,115.77 L161.61,115.59 L162.04,115.45 L162.52,115.35 L163.05,115.29 L163.67,115.27 L164.28,115.29 L164.81,115.35 L165.29,115.45 L165.72,115.59 L166.10,115.77 L166.42,115.98 L166.67,116.21 L166.85,116.48 L166.96,116.77 Z M165.50,117.00 L165.47,117.19 L165.39,117.37 L165.25,117.54 L165.07,117.71 L164.84,117.85 L164.57,117.97 L164.27,118.07 L163.95,118.14 L163.60,118.19 L163.25,118.20 L162.90,118.19 L162.55,118.14 L162.23,118.07 L161.93,117.97 L161.66,117.85 L161.43,117.71 L161.25,117.54 L161.11,117.37 L161.03,117.19 L161.00,117.00 L161.03,116.81 L161.11,116.63 L161.25,116.46 L161.43,116.29 L161.66,116.15 L161.93,116.03 L162.23,115.93 L162.55,115.86 L162.90,115.81 L163.25,115.80 L163.60,115.81 L163.95,115.86 L164.27,115.93 L164.57,116.03 L164.84,116.15 L165.07,116.29 L165.25,116.46 L165.39,116.63 L165.47,116.81 Z M193.00,117.30 L192.92,118.14 L192.68,118.72 L192.28,119.21 L191.72,119.63 L191.01,119.98 L190.15,120.27 L189.13,120.50 L187.94,120.67 L186.54,120.77 L184.50,120.80 L182.46,120.77 L181.06,120.67 L179.87,120.50 L178.85,120.27 L177.99,119.98 L177.28,119.63 L176.72,119.21 L176.32,118.72 L176.08,118.14 L176.00,117.30 L176.08,116.46 L176.32,115.88 L176.72,115.39 L177.28,114.97 L177.99,114.62 L178.85,114.33 L179.87,114.10 L181.06,113.93 L182.46,113.83 L184.50,113.80 L186.54,113.83 L187.94,113.93 L189.13,114.10 L190.15,114.33 L191.01,114.62 L191.72,114.97 L192.28,115.39 L192.68,115.88 L192.92,116.46 Z M192.00,117.20 L191.93,117.85 L191.72,118.33 L191.37,118.75 L190.89,119.11 L190.28,119.42 L189.54,119.68 L188.67,119.88 L187.68,120.03 L186.54,120.12 L185.00,120.15 L183.46,120.12 L182.32,120.03 L181.33,119.88 L180.46,119.68 L179.72,119.42 L179.11,119.11 L178.63,118.75 L178.28,118.33 L178.07,117.85 L178.00,117.20 L178.07,116.55 L178.28,116.07 L178.63,115.65 L179.11,115.29 L179.72,114.98 L180.46,114.72 L181.33,114.52 L182.32,114.37 L183.46,114.28 L185.00,114.25 L186.54,114.28 L187.68,114.37 L188.67,114.52 L189.54,114.72 L190.28,114.98 L190.89,115.29 L191.37,115.65 L191.72,116.07 L191.93,116.55 Z M191.00,117.10 L190.94,117.58 L190.77,117.96 L190.47,118.31 L190.07,118.61 L189.57,118.88 L188.96,119.10 L188.27,119.27 L187.48,119.40 L186.60,119.47 L185.50,119.50 L184.40,119.47 L183.52,119.40 L182.73,119.27 L182.04,119.10 L181.43,118.88 L180.93,118.61 L180.53,118.31 L180.23,117.96 L180.06,117.58 L180.00,117.10 L180.06,116.62 L180.23,116.24 L180.53,115.89 L180.93,115.59 L181.43,115.32 L182.04,115.10 L182.73,114.93 L183.52,114.80 L184.40,114.73 L185.50,114.70 L186.60,114.73 L187.48,114.80 L188.27,114.93 L188.96,115.10 L189.57,115.32 L190.07,115.59 L190.47,115.89 L190.77,116.24 L190.94,116.62 Z M190.00,117.00 L189.95,117.33 L189.82,117.62 L189.59,117.89 L189.28,118.13 L188.90,118.34 L188.44,118.52 L187.92,118.66 L187.34,118.77 L186.71,118.83 L186.00,118.85 L185.29,118.83 L184.66,118.77 L184.08,118.66 L183.56,118.52 L183.10,118.34 L182.72,118.13 L182.41,117.89 L182.18,117.62 L182.05,117.33 L182.00,117.00 L182.05,116.67 L182.18,116.38 L182.41,116.11 L182.72,115.87 L183.10,115.66 L183.56,115.48 L184.08,115.34 L184.66,115.23 L185.29,115.17 L186.00,115.15 L186.71,115.17 L187.34,115.23 L187.92,115.34 L188.44,115.48 L188.90,115.66 L189.28,115.87 L189.59,116.11 L189.82,116.38 L189.95,116.67 Z M189.00,116.90 L188.97,117.10 L188.88,117.30 L188.73,117.49 L188.52,117.66 L188.27,117.82 L187.97,117.95 L187.63,118.06 L187.27,118.14 L186.89,118.18 L186.50,118.20 L186.11,118.18 L185.73,118.14 L185.37,118.06 L185.03,117.95 L184.73,117.82 L184.48,117.66 L184.27,117.49 L184.12,117.30 L184.03,117.10 L184.00,116.90 L184.03,116.70 L184.12,116.50 L184.27,116.31 L184.48,116.14 L184.73,115.98 L185.03,115.85 L185.37,115.74 L185.73,115.66 L186.11,115.62 L186.50,115.60 L186.89,115.62 L187.27,115.66 L187.63,115.74 L187.97,115.85 L188.27,115.98 L188.52,116.14 L188.73,116.31 L188.88,116.50 L188.97,116.70 Z M170.50,139.75 L170.42,141.08 L170.18,142.10 L169.78,142.99 L169.23,143.76 L168.53,144.43 L167.69,144.99 L166.72,145.43 L165.60,145.74 L164.32,145.94 L162.65,146.00 L160.98,145.94 L159.70,145.74 L158.58,145.43 L157.61,144.99 L156.77,144.43 L156.07,143.76 L155.52,142.99 L155.12,142.10 L154.88,141.08 L154.80,139.75 L154.88,138.42 L155.12,137.40 L155.52,136.51 L156.07,135.74 L156.77,135.07 L157.61,134.51 L158.58,134.07 L159.70,133.76 L160.98,133.56 L162.65,133.50 L164.32,133.56 L165.60,133.76 L166.72,134.07 L167.69,134.51 L168.53,135.07 L169.23,135.74 L169.78,136.51 L170.18,137.40 L170.42,138.42 Z M168.17,140.42 L168.10,141.31 L167.91,142.04 L167.60,142.70 L167.16,143.28 L166.61,143.79 L165.96,144.22 L165.21,144.56 L164.36,144.80 L163.41,144.95 L162.27,145.00 L161.12,144.95 L160.17,144.80 L159.33,144.56 L158.58,144.22 L157.92,143.79 L157.37,143.28 L156.94,142.70 L156.62,142.04 L156.43,141.31 L156.37,140.42 L156.43,139.52 L156.62,138.79 L156.94,138.13 L157.37,137.55 L157.92,137.04 L158.58,136.62 L159.33,136.28 L160.17,136.03 L161.12,135.88 L162.27,135.83 L163.41,135.88 L164.36,136.03 L165.21,136.28 L165.96,136.62 L166.61,137.04 L167.16,137.55 L167.60,138.13 L167.91,138.79 L168.10,139.52 Z M165.83,141.08 L165.79,141.60 L165.65,142.05 L165.43,142.47 L165.12,142.86 L164.74,143.19 L164.28,143.47 L163.77,143.70 L163.20,143.87 L162.58,143.97 L161.88,144.00 L161.19,143.97 L160.57,143.87 L160.00,143.70 L159.48,143.47 L159.03,143.19 L158.65,142.86 L158.34,142.47 L158.11,142.05 L157.98,141.60 L157.93,141.08 L157.98,140.57 L158.11,140.11 L158.34,139.69 L158.65,139.31 L159.03,138.98 L159.48,138.69 L160.00,138.47 L160.57,138.30 L161.19,138.20 L161.88,138.17 L162.58,138.20 L163.20,138.30 L163.77,138.47 L164.28,138.69 L164.74,138.98 L165.12,139.31 L165.43,139.69 L165.65,140.11 L165.79,140.57 Z M163.50,141.75 L163.48,141.95 L163.40,142.14 L163.28,142.32 L163.12,142.48 L162.91,142.63 L162.68,142.76 L162.41,142.86 L162.12,142.94 L161.81,142.98 L161.50,143.00 L161.19,142.98 L160.88,142.94 L160.59,142.86 L160.32,142.76 L160.09,142.63 L159.88,142.48 L159.72,142.32 L159.60,142.14 L159.52,141.95 L159.50,141.75 L159.52,141.55 L159.60,141.36 L159.72,141.18 L159.88,141.02 L160.09,140.87 L160.32,140.74 L160.59,140.64 L160.88,140.56 L161.19,140.52 L161.50,140.50 L161.81,140.52 L162.12,140.56 L162.41,140.64 L162.68,140.74 L162.91,140.87 L163.12,141.02 L163.28,141.18 L163.40,141.36 L163.48,141.55 Z M191.50,141.90 L191.41,143.16 L191.13,144.12 L190.67,144.96 L190.04,145.69 L189.24,146.32 L188.28,146.84 L187.16,147.26 L185.88,147.56 L184.42,147.74 L182.50,147.80 L180.58,147.74 L179.12,147.56 L177.84,147.26 L176.72,146.84 L175.76,146.32 L174.96,145.69 L174.33,144.96 L173.87,144.12 L173.59,143.16 L173.50,141.90 L173.59,140.64 L173.87,139.68 L174.33,138.84 L174.96,138.11 L175.76,137.48 L176.72,136.96 L177.84,136.54 L179.12,136.24 L180.58,136.06 L182.50,136.00 L184.42,136.06 L185.88,136.24 L187.16,136.54 L188.28,136.96 L189.24,137.48 L190.04,138.11 L190.67,138.84 L191.13,139.68 L191.41,140.64 Z M190.17,142.27 L190.09,143.13 L189.87,143.84 L189.51,144.48 L189.00,145.04 L188.37,145.53 L187.61,145.94 L186.74,146.27 L185.76,146.51 L184.66,146.65 L183.33,146.70 L182.00,146.65 L180.91,146.51 L179.93,146.27 L179.06,145.94 L178.30,145.53 L177.67,145.04 L177.16,144.48 L176.80,143.84 L176.57,143.13 L176.50,142.27 L176.57,141.40 L176.80,140.69 L177.16,140.06 L177.67,139.49 L178.30,139.00 L179.06,138.59 L179.93,138.26 L180.91,138.03 L182.00,137.88 L183.33,137.83 L184.66,137.88 L185.76,138.03 L186.74,138.26 L187.61,138.59 L188.37,139.00 L189.00,139.49 L189.51,140.06 L189.87,140.69 L190.09,141.40 Z M188.83,142.63 L188.78,143.15 L188.62,143.62 L188.35,144.05 L187.99,144.44 L187.54,144.78 L187.00,145.07 L186.39,145.30 L185.72,145.46 L184.99,145.57 L184.17,145.60 L183.35,145.57 L182.61,145.46 L181.94,145.30 L181.33,145.07 L180.79,144.78 L180.34,144.44 L179.98,144.05 L179.71,143.62 L179.55,143.15 L179.50,142.63 L179.55,142.11 L179.71,141.65 L179.98,141.22 L180.34,140.83 L180.79,140.49 L181.33,140.20 L181.94,139.97 L182.61,139.80 L183.35,139.70 L184.17,139.67 L184.99,139.70 L185.72,139.80 L186.39,139.97 L187.00,140.20 L187.54,140.49 L187.99,140.83 L188.35,141.22 L188.62,141.65 L188.78,142.11 Z M187.50,143.00 L187.47,143.23 L187.38,143.46 L187.23,143.68 L187.02,143.88 L186.77,144.06 L186.47,144.21 L186.13,144.34 L185.77,144.43 L185.39,144.48 L185.00,144.50 L184.61,144.48 L184.23,144.43 L183.87,144.34 L183.53,144.21 L183.23,144.06 L182.98,143.88 L182.77,143.68 L182.62,143.46 L182.53,143.23 L182.50,143.00 L182.53,142.77 L182.62,142.54 L182.77,142.32 L182.98,142.12 L183.23,141.94 L183.53,141.79 L183.87,141.66 L184.23,141.57 L184.61,141.52 L185.00,141.50 L185.39,141.52 L185.77,141.57 L186.13,141.66 L186.47,141.79 L186.77,141.94 L187.02,142.12 L187.23,142.32 L187.38,142.54 L187.47,142.77 Z" fill="none" stroke="#8a8a8a" stroke-width="0.5"/>
<rect x="150.70" y="94.40" width="66.90" height="66.60" fill="none" stroke="#1a1a1a" stroke-width="0.9" />
<line x1="172.60" y1="94.40" x2="172.60" y2="161.00" stroke="#2a2a2a" stroke-width="0.85" />
<line x1="150.70" y1="131.00" x2="217.60" y2="131.00" stroke="#2a2a2a" stroke-width="0.85" />
<path d="M152.20,161.45v1.80M157.05,161.45v1.08M159.88,161.45v1.08M161.89,161.45v1.08M163.45,161.45v1.08M164.73,161.45v1.08M165.81,161.45v1.08M166.74,161.45v1.08M167.56,161.45v1.08M168.30,161.45v1.80M173.15,161.45v1.08M175.98,161.45v1.08M177.99,161.45v1.08M179.55,161.45v1.08M180.83,161.45v1.08M181.91,161.45v1.08M182.84,161.45v1.08M183.66,161.45v1.08M184.40,161.45v1.80M189.25,161.45v1.08M192.08,161.45v1.08M194.09,161.45v1.08M195.65,161.45v1.08M196.93,161.45v1.08M198.01,161.45v1.08M198.94,161.45v1.08M199.76,161.45v1.08M200.50,161.45v1.80M205.35,161.45v1.08M208.18,161.45v1.08M210.19,161.45v1.08M211.75,161.45v1.08M213.03,161.45v1.08M214.11,161.45v1.08M215.04,161.45v1.08M215.86,161.45v1.08M216.60,161.45v1.8" fill="none" stroke="#222" stroke-width="0.55" />
<path d="M150.25,160.00h-1.80M150.25,155.18h-1.08M150.25,152.35h-1.08M150.25,150.35h-1.08M150.25,148.80h-1.08M150.25,147.53h-1.08M150.25,146.46h-1.08M150.25,145.53h-1.08M150.25,144.71h-1.08M150.25,143.97h-1.80M150.25,139.15h-1.08M150.25,136.33h-1.08M150.25,134.33h-1.08M150.25,132.77h-1.08M150.25,131.51h-1.08M150.25,130.43h-1.08M150.25,129.50h-1.08M150.25,128.68h-1.08M150.25,127.95h-1.80M150.25,123.13h-1.08M150.25,120.30h-1.08M150.25,118.30h-1.08M150.25,116.75h-1.08M150.25,115.48h-1.08M150.25,114.41h-1.08M150.25,113.48h-1.08M150.25,112.66h-1.08M150.25,111.92h-1.80M150.25,107.10h-1.08M150.25,104.28h-1.08M150.25,102.28h-1.08M150.25,100.72h-1.08M150.25,99.46h-1.08M150.25,98.38h-1.08M150.25,97.45h-1.08M150.25,96.63h-1.08M150.25,95.90h-1.8" fill="none" stroke="#222" stroke-width="0.55" />
<path d="M148.7 141.0h1.0v1.0h-1.0zM149.0 141.0h1.0v1.0h-1.0zM149.9 141.6h1.0v1.0h-1.0zM149.9 142.0h1.0v1.0h-1.0zM149.8 142.1h1.0v1.0h-1.0zM149.2 141.9h1.0v1.0h-1.0zM149.3 141.0h1.0v1.0h-1.0zM149.9 142.9h1.0v1.0h-1.0zM149.0 142.6h1.0v1.0h-1.0zM149.7 140.8h1.0v1.0h-1.0zM149.5 141.7h1.0v1.0h-1.0zM149.5 141.2h1.0v1.0h-1.0zM148.9 141.4h1.0v1.0h-1.0zM149.7 141.9h1.0v1.0h-1.0zM149.7 142.1h1.0v1.0h-1.0zM149.0 141.4h1.0v1.0h-1.0zM149.5 142.1h1.0v1.0h-1.0zM149.5 141.7h1.0v1.0h-1.0zM149.5 142.8h1.0v1.0h-1.0zM148.6 141.4h1.0v1.0h-1.0z" fill="#111" opacity="1.0"/>
<path d="M176.8 162.3h0.9v0.9h-0.9zM168.5 162.2h0.9v0.9h-0.9zM169.2 162.0h0.9v0.9h-0.9zM172.4 162.7h0.9v0.9h-0.9zM172.9 162.4h0.9v0.9h-0.9zM174.0 162.3h0.9v0.9h-0.9zM170.3 162.2h0.9v0.9h-0.9zM172.6 162.1h0.9v0.9h-0.9zM170.7 162.1h0.9v0.9h-0.9zM169.1 161.9h0.9v0.9h-0.9zM171.8 162.1h0.9v0.9h-0.9zM172.1 162.6h0.9v0.9h-0.9zM172.6 162.2h0.9v0.9h-0.9zM169.7 161.9h0.9v0.9h-0.9zM172.7 161.9h0.9v0.9h-0.9zM172.8 161.9h0.9v0.9h-0.9zM172.3 162.2h0.9v0.9h-0.9zM173.9 162.1h0.9v0.9h-0.9zM171.3 162.3h0.9v0.9h-0.9zM172.1 162.7h0.9v0.9h-0.9zM171.5 162.0h0.9v0.9h-0.9zM171.4 162.3h0.9v0.9h-0.9zM172.5 162.4h0.9v0.9h-0.9zM169.3 162.9h0.9v0.9h-0.9zM175.5 162.2h0.9v0.9h-0.9z" fill="#111" opacity="1.0"/>
<text x="178.60" y="157.80" font-size="7.4" textLength="32.40" lengthAdjust="spacingAndGlyphs" >SLAM HSC</text>
<rect x="86.40" y="40.20" width="33.90" height="18.50" fill="none" stroke="#555" stroke-width="0.6" />
<rect x="86.40" y="111.50" width="33.90" height="18.70" fill="none" stroke="#555" stroke-width="0.6" />
<text x="96.80" y="37.30" font-size="7.2" textLength="11.50" lengthAdjust="spacingAndGlyphs" >LSK</text>
<text x="96.80" y="108.20" font-size="7.2" textLength="11.50" lengthAdjust="spacingAndGlyphs" >LSK</text>
<line x1="120.30" y1="42.40" x2="137.50" y2="42.40" stroke="#1a1a1a" stroke-width="0.8" />
<path d="M142.2,42.4 L137.39999999999998,40.5 L137.39999999999998,44.3 Z" fill="#1a1a1a" />
<line x1="120.30" y1="114.80" x2="137.50" y2="114.80" stroke="#1a1a1a" stroke-width="0.8" />
<path d="M142.2,114.8 L137.39999999999998,112.89999999999999 L137.39999999999998,116.7 Z" fill="#1a1a1a" />
<text x="232.90" y="18.90" font-size="11" textLength="5.80" lengthAdjust="spacingAndGlyphs" style="stroke-width:0.3px">F</text>
<text x="285.50" y="25.50" font-size="8.8" textLength="11.50" lengthAdjust="spacingAndGlyphs" >Ski</text>
<line x1="272.50" y1="27.60" x2="312.00" y2="27.60" stroke="#1a1a1a" stroke-width="0.9" />
<text x="273.30" y="35.60" font-size="7.8" textLength="11.80" lengthAdjust="spacingAndGlyphs" >+/+</text>
<text x="288.70" y="35.60" font-size="7.8" textLength="9.80" lengthAdjust="spacingAndGlyphs" >+/-</text>
<text x="302.60" y="35.60" font-size="7.8" textLength="7.70" lengthAdjust="spacingAndGlyphs" >-/-</text>
<rect x="274.50" y="38.60" width="36.50" height="30.00" fill="#d6d6d6" stroke="#1a1a1a" stroke-width="1.2" />
<line x1="311.00" y1="38.60" x2="311.00" y2="68.60" stroke="#444" stroke-width="1.0" />
<g filter="url(#bl)">
<rect x="288.60" y="41.70" width="7.60" height="2.40" fill="#ababab" />
<rect x="288.60" y="43.80" width="7.60" height="1.80" fill="#2e2e2e" />
<rect x="299.90" y="40.40" width="9.30" height="2.30" fill="#707070" />
<rect x="299.90" y="42.40" width="9.30" height="3.30" fill="#080808" />
<rect x="276.40" y="62.70" width="7.70" height="2.50" fill="#151515" />
<rect x="288.20" y="63.00" width="7.60" height="2.00" fill="#363636" />
</g>
<text x="246.90" y="46.00" font-size="8.8" textLength="24.20" lengthAdjust="spacingAndGlyphs" >400 bp</text>
<text x="246.90" y="65.90" font-size="8.8" textLength="24.20" lengthAdjust="spacingAndGlyphs" >171 bp</text>
<text x="314.00" y="46.00" font-size="8.8" textLength="10.00" lengthAdjust="spacingAndGlyphs" >KO</text>
<text x="314.00" y="65.90" font-size="8.8" textLength="10.80" lengthAdjust="spacingAndGlyphs" >WT</text>
<text x="233.20" y="88.60" font-size="11" textLength="7.80" lengthAdjust="spacingAndGlyphs" style="stroke-width:0.3px">G</text>
<rect x="274.30" y="117.60" width="37.20" height="29.80" fill="#eeeeee" stroke="#1a1a1a" stroke-width="1.2" />
<g filter="url(#bl)">
<rect x="286.00" y="123.90" width="9.70" height="3.30" fill="#4a4a4a" />
<rect x="298.70" y="123.00" width="10.60" height="5.00" fill="#0e0e0e" />
<rect x="274.80" y="139.70" width="9.80" height="3.50" fill="#2a2a2a" />
<rect x="298.70" y="139.40" width="10.60" height="3.80" fill="#303030" />
</g>
<text x="314.30" y="127.50" font-size="8.0" textLength="19.00" lengthAdjust="spacingAndGlyphs" >Gpi-B</text>
<text x="314.30" y="143.50" font-size="8.0" textLength="19.00" lengthAdjust="spacingAndGlyphs" >Gpi-A</text>
<text x="280.60" y="113.60" font-size="8.4" textLength="28.00" lengthAdjust="spacingAndGlyphs" transform="rotate(-46 280.60 113.60)" >C56BL/6</text>
<text x="293.40" y="113.40" font-size="8.4" textLength="10.40" lengthAdjust="spacingAndGlyphs" transform="rotate(-46 293.40 113.40)" >129</text>
<text x="305.00" y="113.40" font-size="8.4" textLength="28.50" lengthAdjust="spacingAndGlyphs" transform="rotate(-46 305.00 113.40)" >Chimera</text>
<text x="351.50" y="18.90" font-size="11" textLength="7.60" lengthAdjust="spacingAndGlyphs" style="stroke-width:0.3px">H</text>
<rect x="414.10" y="58.10" width="9.77" height="6.32" fill="#9ba579" stroke="#1e1e1e" stroke-width="0.7" />
<rect x="423.87" y="58.10" width="9.77" height="6.32" fill="#d2d358" stroke="#1e1e1e" stroke-width="0.7" />
<rect x="433.64" y="58.10" width="9.77" height="6.32" fill="#d2d358" stroke="#1e1e1e" stroke-width="0.7" />
<rect x="443.41" y="58.10" width="9.77" height="6.32" fill="#d2d358" stroke="#1e1e1e" stroke-width="0.7" />
<rect x="453.18" y="58.10" width="9.77" height="6.32" fill="#d2d358" stroke="#1e1e1e" stroke-width="0.7" />
<rect x="462.95" y="58.10" width="9.77" height="6.32" fill="#d2d358" stroke="#1e1e1e" stroke-width="0.7" />
<rect x="472.72" y="58.10" width="9.77" height="6.32" fill="#9ba579" stroke="#1e1e1e" stroke-width="0.7" />
<rect x="482.49" y="58.10" width="9.77" height="6.32" fill="#d2d358" stroke="#1e1e1e" stroke-width="0.7" />
<rect x="492.26" y="58.10" width="9.77" height="6.32" fill="#d2d358" stroke="#1e1e1e" stroke-width="0.7" />
<rect x="502.03" y="58.10" width="9.77" height="6.32" fill="#9ba579" stroke="#1e1e1e" stroke-width="0.7" />
<rect x="414.10" y="64.42" width="9.77" height="6.32" fill="#d2d358" stroke="#1e1e1e" stroke-width="0.7" />
<rect x="423.87" y="64.42" width="9.77" height="6.32" fill="#f8e93a" stroke="#1e1e1e" stroke-width="0.7" />
<rect x="433.64" y="64.42" width="9.77" height="6.32" fill="#d2d358" stroke="#1e1e1e" stroke-width="0.7" />
<rect x="443.41" y="64.42" width="9.77" height="6.32" fill="#d2d358" stroke="#1e1e1e" stroke-width="0.7" />
<rect x="453.18" y="64.42" width="9.77" height="6.32" fill="#d2d358" stroke="#1e1e1e" stroke-width="0.7" />
<rect x="462.95" y="64.42" width="9.77" height="6.32" fill="#f8e93a" stroke="#1e1e1e" stroke-width="0.7" />
<rect x="472.72" y="64.42" width="9.77" height="6.32" fill="#d2d358" stroke="#1e1e1e" stroke-width="0.7" />
<rect x="482.49" y="64.42" width="9.77" height="6.32" fill="#d2d358" stroke="#1e1e1e" stroke-width="0.7" />
<rect x="492.26" y="64.42" width="9.77" height="6.32" fill="#d2d358" stroke="#1e1e1e" stroke-width="0.7" />
<rect x="502.03" y="64.42" width="9.77" height="6.32" fill="#d2d358" stroke="#1e1e1e" stroke-width="0.7" />
<rect x="414.10" y="70.74" width="9.77" height="6.32" fill="#d2d358" stroke="#1e1e1e" stroke-width="0.7" />
<rect x="423.87" y="70.74" width="9.77" height="6.32" fill="#f8e93a" stroke="#1e1e1e" stroke-width="0.7" />
<rect x="433.64" y="70.74" width="9.77" height="6.32" fill="#d2d358" stroke="#1e1e1e" stroke-width="0.7" />
<rect x="443.41" y="70.74" width="9.77" height="6.32" fill="#9ba579" stroke="#1e1e1e" stroke-width="0.7" />
<rect x="453.18" y="70.74" width="9.77" height="6.32" fill="#d2d358" stroke="#1e1e1e" stroke-width="0.7" />
<rect x="462.95" y="70.74" width="9.77" height="6.32" fill="#f8e93a" stroke="#1e1e1e" stroke-width="0.7" />
<rect x="472.72" y="70.74" width="9.77" height="6.32" fill="#d2d358" stroke="#1e1e1e" stroke-width="0.7" />
<rect x="482.49" y="70.74" width="9.77" height="6.32" fill="#d2d358" stroke="#1e1e1e" stroke-width="0.7" />
<rect x="492.26" y="70.74" width="9.77" height="6.32" fill="#d2d358" stroke="#1e1e1e" stroke-width="0.7" />
<rect x="502.03" y="70.74" width="9.77" height="6.32" fill="#9ba579" stroke="#1e1e1e" stroke-width="0.7" />
<rect x="414.10" y="77.06" width="9.77" height="6.32" fill="#d2d358" stroke="#1e1e1e" stroke-width="0.7" />
<rect x="423.87" y="77.06" width="9.77" height="6.32" fill="#f8e93a" stroke="#1e1e1e" stroke-width="0.7" />
<rect x="433.64" y="77.06" width="9.77" height="6.32" fill="#d2d358" stroke="#1e1e1e" stroke-width="0.7" />
<rect x="443.41" y="77.06" width="9.77" height="6.32" fill="#d2d358" stroke="#1e1e1e" stroke-width="0.7" />
<rect x="453.18" y="77.06" width="9.77" height="6.32" fill="#d2d358" stroke="#1e1e1e" stroke-width="0.7" />
<rect x="462.95" y="77.06" width="9.77" height="6.32" fill="#d2d358" stroke="#1e1e1e" stroke-width="0.7" />
<rect x="472.72" y="77.06" width="9.77" height="6.32" fill="#9ba579" stroke="#1e1e1e" stroke-width="0.7" />
<rect x="482.49" y="77.06" width="9.77" height="6.32" fill="#d2d358" stroke="#1e1e1e" stroke-width="0.7" />
<rect x="492.26" y="77.06" width="9.77" height="6.32" fill="#d2d358" stroke="#1e1e1e" stroke-width="0.7" />
<rect x="502.03" y="77.06" width="9.77" height="6.32" fill="#9ba579" stroke="#1e1e1e" stroke-width="0.7" />
<rect x="414.10" y="83.38" width="9.77" height="6.32" fill="#9ba579" stroke="#1e1e1e" stroke-width="0.7" />
<rect x="423.87" y="83.38" width="9.77" height="6.32" fill="#d2d358" stroke="#1e1e1e" stroke-width="0.7" />
<rect x="433.64" y="83.38" width="9.77" height="6.32" fill="#d2d358" stroke="#1e1e1e" stroke-width="0.7" />
<rect x="443.41" y="83.38" width="9.77" height="6.32" fill="#d2d358" stroke="#1e1e1e" stroke-width="0.7" />
<rect x="453.18" y="83.38" width="9.77" height="6.32" fill="#d2d358" stroke="#1e1e1e" stroke-width="0.7" />
<rect x="462.95" y="83.38" width="9.77" height="6.32" fill="#f8e93a" stroke="#1e1e1e" stroke-width="0.7" />
<rect x="472.72" y="83.38" width="9.77" height="6.32" fill="#9ba579" stroke="#1e1e1e" stroke-width="0.7" />
<rect x="482.49" y="83.38" width="9.77" height="6.32" fill="#d2d358" stroke="#1e1e1e" stroke-width="0.7" />
<rect x="492.26" y="83.38" width="9.77" height="6.32" fill="#9ba579" stroke="#1e1e1e" stroke-width="0.7" />
<rect x="502.03" y="83.38" width="9.77" height="6.32" fill="#9ba579" stroke="#1e1e1e" stroke-width="0.7" />
<rect x="414.10" y="58.10" width="97.70" height="31.60" fill="none" stroke="#1e1e1e" stroke-width="0.9" />
<line x1="462.95" y1="58.10" x2="462.95" y2="89.70" stroke="#0e0e0e" stroke-width="1.1" />
<text x="406.30" y="63.70" font-size="6.2" textLength="3.20" lengthAdjust="spacingAndGlyphs" text-anchor="middle" >1</text>
<text x="406.30" y="70.00" font-size="6.2" textLength="3.20" lengthAdjust="spacingAndGlyphs" text-anchor="middle" >2</text>
<text x="406.30" y="76.30" font-size="6.2" textLength="3.20" lengthAdjust="spacingAndGlyphs" text-anchor="middle" >3</text>
<text x="406.30" y="82.60" font-size="6.2" textLength="3.20" lengthAdjust="spacingAndGlyphs" text-anchor="middle" >4</text>
<text x="406.30" y="88.90" font-size="6.2" textLength="3.20" lengthAdjust="spacingAndGlyphs" text-anchor="middle" >5</text>
<rect x="414.10" y="95.10" width="9.77" height="6.32" fill="#9ba579" stroke="#1e1e1e" stroke-width="0.7" />
<rect x="423.87" y="95.10" width="9.77" height="6.32" fill="#d2d358" stroke="#1e1e1e" stroke-width="0.7" />
<rect x="433.64" y="95.10" width="9.77" height="6.32" fill="#9ba579" stroke="#1e1e1e" stroke-width="0.7" />
<rect x="443.41" y="95.10" width="9.77" height="6.32" fill="#9ba579" stroke="#1e1e1e" stroke-width="0.7" />
<rect x="453.18" y="95.10" width="9.77" height="6.32" fill="#f8e93a" stroke="#1e1e1e" stroke-width="0.7" />
<rect x="462.95" y="95.10" width="9.77" height="6.32" fill="#f8e93a" stroke="#1e1e1e" stroke-width="0.7" />
<rect x="472.72" y="95.10" width="9.77" height="6.32" fill="#9ba579" stroke="#1e1e1e" stroke-width="0.7" />
<rect x="482.49" y="95.10" width="9.77" height="6.32" fill="#9ba579" stroke="#1e1e1e" stroke-width="0.7" />
<rect x="492.26" y="95.10" width="9.77" height="6.32" fill="#f8e93a" stroke="#1e1e1e" stroke-width="0.7" />
<rect x="502.03" y="95.10" width="9.77" height="6.32" fill="#6f8cb3" stroke="#1e1e1e" stroke-width="0.7" />
<rect x="414.10" y="101.42" width="9.77" height="6.32" fill="#d2d358" stroke="#1e1e1e" stroke-width="0.7" />
<rect x="423.87" y="101.42" width="9.77" height="6.32" fill="#d2d358" stroke="#1e1e1e" stroke-width="0.7" />
<rect x="433.64" y="101.42" width="9.77" height="6.32" fill="#9ba579" stroke="#1e1e1e" stroke-width="0.7" />
<rect x="443.41" y="101.42" width="9.77" height="6.32" fill="#f8e93a" stroke="#1e1e1e" stroke-width="0.7" />
<rect x="453.18" y="101.42" width="9.77" height="6.32" fill="#9ba579" stroke="#1e1e1e" stroke-width="0.7" />
<rect x="462.95" y="101.42" width="9.77" height="6.32" fill="#f8e93a" stroke="#1e1e1e" stroke-width="0.7" />
<rect x="472.72" y="101.42" width="9.77" height="6.32" fill="#9ba579" stroke="#1e1e1e" stroke-width="0.7" />
<rect x="482.49" y="101.42" width="9.77" height="6.32" fill="#9ba579" stroke="#1e1e1e" stroke-width="0.7" />
<rect x="492.26" y="101.42" width="9.77" height="6.32" fill="#9ba579" stroke="#1e1e1e" stroke-width="0.7" />
<rect x="502.03" y="101.42" width="9.77" height="6.32" fill="#6f8cb3" stroke="#1e1e1e" stroke-width="0.7" />
<rect x="414.10" y="107.74" width="9.77" height="6.32" fill="#9ba579" stroke="#1e1e1e" stroke-width="0.7" />
<rect x="423.87" y="107.74" width="9.77" height="6.32" fill="#d2d358" stroke="#1e1e1e" stroke-width="0.7" />
<rect x="433.64" y="107.74" width="9.77" height="6.32" fill="#9ba579" stroke="#1e1e1e" stroke-width="0.7" />
<rect x="443.41" y="107.74" width="9.77" height="6.32" fill="#d2d358" stroke="#1e1e1e" stroke-width="0.7" />
<rect x="453.18" y="107.74" width="9.77" height="6.32" fill="#9ba579" stroke="#1e1e1e" stroke-width="0.7" />
<rect x="462.95" y="107.74" width="9.77" height="6.32" fill="#f8e93a" stroke="#1e1e1e" stroke-width="0.7" />
<rect x="472.72" y="107.74" width="9.77" height="6.32" fill="#9ba579" stroke="#1e1e1e" stroke-width="0.7" />
<rect x="482.49" y="107.74" width="9.77" height="6.32" fill="#9ba579" stroke="#1e1e1e" stroke-width="0.7" />
<rect x="492.26" y="107.74" width="9.77" height="6.32" fill="#9ba579" stroke="#1e1e1e" stroke-width="0.7" />
<rect x="502.03" y="107.74" width="9.77" height="6.32" fill="#6f8cb3" stroke="#1e1e1e" stroke-width="0.7" />
<rect x="414.10" y="114.06" width="9.77" height="6.32" fill="#9ba579" stroke="#1e1e1e" stroke-width="0.7" />
<rect x="423.87" y="114.06" width="9.77" height="6.32" fill="#9ba579" stroke="#1e1e1e" stroke-width="0.7" />
<rect x="433.64" y="114.06" width="9.77" height="6.32" fill="#9ba579" stroke="#1e1e1e" stroke-width="0.7" />
<rect x="443.41" y="114.06" width="9.77" height="6.32" fill="#6f8cb3" stroke="#1e1e1e" stroke-width="0.7" />
<rect x="453.18" y="114.06" width="9.77" height="6.32" fill="#d2d358" stroke="#1e1e1e" stroke-width="0.7" />
<rect x="462.95" y="114.06" width="9.77" height="6.32" fill="#d2d358" stroke="#1e1e1e" stroke-width="0.7" />
<rect x="472.72" y="114.06" width="9.77" height="6.32" fill="#9ba579" stroke="#1e1e1e" stroke-width="0.7" />
<rect x="482.49" y="114.06" width="9.77" height="6.32" fill="#9ba579" stroke="#1e1e1e" stroke-width="0.7" />
<rect x="492.26" y="114.06" width="9.77" height="6.32" fill="#9ba579" stroke="#1e1e1e" stroke-width="0.7" />
<rect x="502.03" y="114.06" width="9.77" height="6.32" fill="#2d2d7d" stroke="#1e1e1e" stroke-width="0.7" />
<rect x="414.10" y="120.38" width="9.77" height="6.32" fill="#9ba579" stroke="#1e1e1e" stroke-width="0.7" />
<rect x="423.87" y="120.38" width="9.77" height="6.32" fill="#d2d358" stroke="#1e1e1e" stroke-width="0.7" />
<rect x="433.64" y="120.38" width="9.77" height="6.32" fill="#9ba579" stroke="#1e1e1e" stroke-width="0.7" />
<rect x="443.41" y="120.38" width="9.77" height="6.32" fill="#9ba579" stroke="#1e1e1e" stroke-width="0.7" />
<rect x="453.18" y="120.38" width="9.77" height="6.32" fill="#f8e93a" stroke="#1e1e1e" stroke-width="0.7" />
<rect x="462.95" y="120.38" width="9.77" height="6.32" fill="#f8e93a" stroke="#1e1e1e" stroke-width="0.7" />
<rect x="472.72" y="120.38" width="9.77" height="6.32" fill="#9ba579" stroke="#1e1e1e" stroke-width="0.7" />
<rect x="482.49" y="120.38" width="9.77" height="6.32" fill="#9ba579" stroke="#1e1e1e" stroke-width="0.7" />
<rect x="492.26" y="120.38" width="9.77" height="6.32" fill="#f8e93a" stroke="#1e1e1e" stroke-width="0.7" />
<rect x="502.03" y="120.38" width="9.77" height="6.32" fill="#6f8cb3" stroke="#1e1e1e" stroke-width="0.7" />
<rect x="414.10" y="95.10" width="97.70" height="31.60" fill="none" stroke="#1e1e1e" stroke-width="0.9" />
<line x1="462.95" y1="95.10" x2="462.95" y2="126.70" stroke="#0e0e0e" stroke-width="1.1" />
<text x="406.30" y="100.70" font-size="6.2" textLength="3.20" lengthAdjust="spacingAndGlyphs" text-anchor="middle" >1</text>
<text x="406.30" y="107.00" font-size="6.2" textLength="3.20" lengthAdjust="spacingAndGlyphs" text-anchor="middle" >2</text>
<text x="406.30" y="113.30" font-size="6.2" textLength="3.20" lengthAdjust="spacingAndGlyphs" text-anchor="middle" >3</text>
<text x="406.30" y="119.60" font-size="6.2" textLength="3.20" lengthAdjust="spacingAndGlyphs" text-anchor="middle" >4</text>
<text x="406.30" y="125.90" font-size="6.2" textLength="3.20" lengthAdjust="spacingAndGlyphs" text-anchor="middle" >5</text>
<rect x="414.10" y="133.90" width="9.77" height="6.32" fill="#6f8cb3" stroke="#1e1e1e" stroke-width="0.7" />
<rect x="423.87" y="133.90" width="9.77" height="6.32" fill="#d2d358" stroke="#1e1e1e" stroke-width="0.7" />
<rect x="433.64" y="133.90" width="9.77" height="6.32" fill="#2d2d7d" stroke="#1e1e1e" stroke-width="0.7" />
<rect x="443.41" y="133.90" width="9.77" height="6.32" fill="#4566c2" stroke="#1e1e1e" stroke-width="0.7" />
<rect x="453.18" y="133.90" width="9.77" height="6.32" fill="#f8e93a" stroke="#1e1e1e" stroke-width="0.7" />
<rect x="462.95" y="133.90" width="9.77" height="6.32" fill="#6f8cb3" stroke="#1e1e1e" stroke-width="0.7" />
<rect x="472.72" y="133.90" width="9.77" height="6.32" fill="#2d2d7d" stroke="#1e1e1e" stroke-width="0.7" />
<rect x="482.49" y="133.90" width="9.77" height="6.32" fill="#2d2d7d" stroke="#1e1e1e" stroke-width="0.7" />
<rect x="492.26" y="133.90" width="9.77" height="6.32" fill="#4566c2" stroke="#1e1e1e" stroke-width="0.7" />
<rect x="502.03" y="133.90" width="9.77" height="6.32" fill="#2d2d7d" stroke="#1e1e1e" stroke-width="0.7" />
<rect x="414.10" y="140.22" width="9.77" height="6.32" fill="#9ba579" stroke="#1e1e1e" stroke-width="0.7" />
<rect x="423.87" y="140.22" width="9.77" height="6.32" fill="#d2d358" stroke="#1e1e1e" stroke-width="0.7" />
<rect x="433.64" y="140.22" width="9.77" height="6.32" fill="#4566c2" stroke="#1e1e1e" stroke-width="0.7" />
<rect x="443.41" y="140.22" width="9.77" height="6.32" fill="#9ba579" stroke="#1e1e1e" stroke-width="0.7" />
<rect x="453.18" y="140.22" width="9.77" height="6.32" fill="#d2d358" stroke="#1e1e1e" stroke-width="0.7" />
<rect x="462.95" y="140.22" width="9.77" height="6.32" fill="#9ba579" stroke="#1e1e1e" stroke-width="0.7" />
<rect x="472.72" y="140.22" width="9.77" height="6.32" fill="#2d2d7d" stroke="#1e1e1e" stroke-width="0.7" />
<rect x="482.49" y="140.22" width="9.77" height="6.32" fill="#4566c2" stroke="#1e1e1e" stroke-width="0.7" />
<rect x="492.26" y="140.22" width="9.77" height="6.32" fill="#6f8cb3" stroke="#1e1e1e" stroke-width="0.7" />
<rect x="502.03" y="140.22" width="9.77" height="6.32" fill="#4566c2" stroke="#1e1e1e" stroke-width="0.7" />
<rect x="414.10" y="146.54" width="9.77" height="6.32" fill="#4566c2" stroke="#1e1e1e" stroke-width="0.7" />
<rect x="423.87" y="146.54" width="9.77" height="6.32" fill="#4566c2" stroke="#1e1e1e" stroke-width="0.7" />
<rect x="433.64" y="146.54" width="9.77" height="6.32" fill="#2d2d7d" stroke="#1e1e1e" stroke-width="0.7" />
<rect x="443.41" y="146.54" width="9.77" height="6.32" fill="#6f8cb3" stroke="#1e1e1e" stroke-width="0.7" />
<rect x="453.18" y="146.54" width="9.77" height="6.32" fill="#9ba579" stroke="#1e1e1e" stroke-width="0.7" />
<rect x="462.95" y="146.54" width="9.77" height="6.32" fill="#6f8cb3" stroke="#1e1e1e" stroke-width="0.7" />
<rect x="472.72" y="146.54" width="9.77" height="6.32" fill="#2d2d7d" stroke="#1e1e1e" stroke-width="0.7" />
<rect x="482.49" y="146.54" width="9.77" height="6.32" fill="#4566c2" stroke="#1e1e1e" stroke-width="0.7" />
<rect x="492.26" y="146.54" width="9.77" height="6.32" fill="#4566c2" stroke="#1e1e1e" stroke-width="0.7" />
<rect x="502.03" y="146.54" width="9.77" height="6.32" fill="#2d2d7d" stroke="#1e1e1e" stroke-width="0.7" />
<rect x="414.10" y="152.86" width="9.77" height="6.32" fill="#6f8cb3" stroke="#1e1e1e" stroke-width="0.7" />
<rect x="423.87" y="152.86" width="9.77" height="6.32" fill="#d2d358" stroke="#1e1e1e" stroke-width="0.7" />
<rect x="433.64" y="152.86" width="9.77" height="6.32" fill="#2d2d7d" stroke="#1e1e1e" stroke-width="0.7" />
<rect x="443.41" y="152.86" width="9.77" height="6.32" fill="#6f8cb3" stroke="#1e1e1e" stroke-width="0.7" />
<rect x="453.18" y="152.86" width="9.77" height="6.32" fill="#6f8cb3" stroke="#1e1e1e" stroke-width="0.7" />
<rect x="462.95" y="152.86" width="9.77" height="6.32" fill="#d2d358" stroke="#1e1e1e" stroke-width="0.7" />
<rect x="472.72" y="152.86" width="9.77" height="6.32" fill="#2d2d7d" stroke="#1e1e1e" stroke-width="0.7" />
<rect x="482.49" y="152.86" width="9.77" height="6.32" fill="#4566c2" stroke="#1e1e1e" stroke-width="0.7" />
<rect x="492.26" y="152.86" width="9.77" height="6.32" fill="#6f8cb3" stroke="#1e1e1e" stroke-width="0.7" />
<rect x="502.03" y="152.86" width="9.77" height="6.32" fill="#4566c2" stroke="#1e1e1e" stroke-width="0.7" />
<rect x="414.10" y="159.18" width="9.77" height="6.32" fill="#9ba579" stroke="#1e1e1e" stroke-width="0.7" />
<rect x="423.87" y="159.18" width="9.77" height="6.32" fill="#6f8cb3" stroke="#1e1e1e" stroke-width="0.7" />
<rect x="433.64" y="159.18" width="9.77" height="6.32" fill="#6f8cb3" stroke="#1e1e1e" stroke-width="0.7" />
<rect x="443.41" y="159.18" width="9.77" height="6.32" fill="#6f8cb3" stroke="#1e1e1e" stroke-width="0.7" />
<rect x="453.18" y="159.18" width="9.77" height="6.32" fill="#f8e93a" stroke="#1e1e1e" stroke-width="0.7" />
<rect x="462.95" y="159.18" width="9.77" height="6.32" fill="#9ba579" stroke="#1e1e1e" stroke-width="0.7" />
<rect x="472.72" y="159.18" width="9.77" height="6.32" fill="#2d2d7d" stroke="#1e1e1e" stroke-width="0.7" />
<rect x="482.49" y="159.18" width="9.77" height="6.32" fill="#6f8cb3" stroke="#1e1e1e" stroke-width="0.7" />
<rect x="492.26" y="159.18" width="9.77" height="6.32" fill="#6f8cb3" stroke="#1e1e1e" stroke-width="0.7" />
<rect x="502.03" y="159.18" width="9.77" height="6.32" fill="#2d2d7d" stroke="#1e1e1e" stroke-width="0.7" />
<rect x="414.10" y="133.90" width="97.70" height="31.60" fill="none" stroke="#1e1e1e" stroke-width="0.9" />
<line x1="462.95" y1="133.90" x2="462.95" y2="165.50" stroke="#0e0e0e" stroke-width="1.1" />
<text x="406.30" y="139.50" font-size="6.2" textLength="3.20" lengthAdjust="spacingAndGlyphs" text-anchor="middle" >1</text>
<text x="406.30" y="145.80" font-size="6.2" textLength="3.20" lengthAdjust="spacingAndGlyphs" text-anchor="middle" >2</text>
<text x="406.30" y="152.10" font-size="6.2" textLength="3.20" lengthAdjust="spacingAndGlyphs" text-anchor="middle" >3</text>
<text x="406.30" y="158.40" font-size="6.2" textLength="3.20" lengthAdjust="spacingAndGlyphs" text-anchor="middle" >4</text>
<text x="406.30" y="164.70" font-size="6.2" textLength="3.20" lengthAdjust="spacingAndGlyphs" text-anchor="middle" >5</text>
<rect x="414.10" y="170.40" width="9.77" height="6.32" fill="#6f8cb3" stroke="#1e1e1e" stroke-width="0.7" />
<rect x="423.87" y="170.40" width="9.77" height="6.32" fill="#d2d358" stroke="#1e1e1e" stroke-width="0.7" />
<rect x="433.64" y="170.40" width="9.77" height="6.32" fill="#6f8cb3" stroke="#1e1e1e" stroke-width="0.7" />
<rect x="443.41" y="170.40" width="9.77" height="6.32" fill="#6f8cb3" stroke="#1e1e1e" stroke-width="0.7" />
<rect x="453.18" y="170.40" width="9.77" height="6.32" fill="#9ba579" stroke="#1e1e1e" stroke-width="0.7" />
<rect x="462.95" y="170.40" width="9.77" height="6.32" fill="#d2d358" stroke="#1e1e1e" stroke-width="0.7" />
<rect x="472.72" y="170.40" width="9.77" height="6.32" fill="#2d2d7d" stroke="#1e1e1e" stroke-width="0.7" />
<rect x="482.49" y="170.40" width="9.77" height="6.32" fill="#4566c2" stroke="#1e1e1e" stroke-width="0.7" />
<rect x="492.26" y="170.40" width="9.77" height="6.32" fill="#2d2d7d" stroke="#1e1e1e" stroke-width="0.7" />
<rect x="502.03" y="170.40" width="9.77" height="6.32" fill="#2d2d7d" stroke="#1e1e1e" stroke-width="0.7" />
<rect x="414.10" y="176.72" width="9.77" height="6.32" fill="#9ba579" stroke="#1e1e1e" stroke-width="0.7" />
<rect x="423.87" y="176.72" width="9.77" height="6.32" fill="#f8e93a" stroke="#1e1e1e" stroke-width="0.7" />
<rect x="433.64" y="176.72" width="9.77" height="6.32" fill="#9ba579" stroke="#1e1e1e" stroke-width="0.7" />
<rect x="443.41" y="176.72" width="9.77" height="6.32" fill="#d2d358" stroke="#1e1e1e" stroke-width="0.7" />
<rect x="453.18" y="176.72" width="9.77" height="6.32" fill="#9ba579" stroke="#1e1e1e" stroke-width="0.7" />
<rect x="462.95" y="176.72" width="9.77" height="6.32" fill="#f8e93a" stroke="#1e1e1e" stroke-width="0.7" />
<rect x="472.72" y="176.72" width="9.77" height="6.32" fill="#2d2d7d" stroke="#1e1e1e" stroke-width="0.7" />
<rect x="482.49" y="176.72" width="9.77" height="6.32" fill="#2d2d7d" stroke="#1e1e1e" stroke-width="0.7" />
<rect x="492.26" y="176.72" width="9.77" height="6.32" fill="#6f8cb3" stroke="#1e1e1e" stroke-width="0.7" />
<rect x="502.03" y="176.72" width="9.77" height="6.32" fill="#2d2d7d" stroke="#1e1e1e" stroke-width="0.7" />
<rect x="414.10" y="183.04" width="9.77" height="6.32" fill="#d2d358" stroke="#1e1e1e" stroke-width="0.7" />
<rect x="423.87" y="183.04" width="9.77" height="6.32" fill="#d2d358" stroke="#1e1e1e" stroke-width="0.7" />
<rect x="433.64" y="183.04" width="9.77" height="6.32" fill="#9ba579" stroke="#1e1e1e" stroke-width="0.7" />
<rect x="443.41" y="183.04" width="9.77" height="6.32" fill="#6f8cb3" stroke="#1e1e1e" stroke-width="0.7" />
<rect x="453.18" y="183.04" width="9.77" height="6.32" fill="#6f8cb3" stroke="#1e1e1e" stroke-width="0.7" />
<rect x="462.95" y="183.04" width="9.77" height="6.32" fill="#d2d358" stroke="#1e1e1e" stroke-width="0.7" />
<rect x="472.72" y="183.04" width="9.77" height="6.32" fill="#2d2d7d" stroke="#1e1e1e" stroke-width="0.7" />
<rect x="482.49" y="183.04" width="9.77" height="6.32" fill="#4566c2" stroke="#1e1e1e" stroke-width="0.7" />
<rect x="492.26" y="183.04" width="9.77" height="6.32" fill="#2d2d7d" stroke="#1e1e1e" stroke-width="0.7" />
<rect x="502.03" y="183.04" width="9.77" height="6.32" fill="#2d2d7d" stroke="#1e1e1e" stroke-width="0.7" />
<rect x="414.10" y="189.36" width="9.77" height="6.32" fill="#6f8cb3" stroke="#1e1e1e" stroke-width="0.7" />
<rect x="423.87" y="189.36" width="9.77" height="6.32" fill="#9ba579" stroke="#1e1e1e" stroke-width="0.7" />
<rect x="433.64" y="189.36" width="9.77" height="6.32" fill="#6f8cb3" stroke="#1e1e1e" stroke-width="0.7" />
<rect x="443.41" y="189.36" width="9.77" height="6.32" fill="#6f8cb3" stroke="#1e1e1e" stroke-width="0.7" />
<rect x="453.18" y="189.36" width="9.77" height="6.32" fill="#9ba579" stroke="#1e1e1e" stroke-width="0.7" />
<rect x="462.95" y="189.36" width="9.77" height="6.32" fill="#d2d358" stroke="#1e1e1e" stroke-width="0.7" />
<rect x="472.72" y="189.36" width="9.77" height="6.32" fill="#2d2d7d" stroke="#1e1e1e" stroke-width="0.7" />
<rect x="482.49" y="189.36" width="9.77" height="6.32" fill="#4566c2" stroke="#1e1e1e" stroke-width="0.7" />
<rect x="492.26" y="189.36" width="9.77" height="6.32" fill="#4566c2" stroke="#1e1e1e" stroke-width="0.7" />
<rect x="502.03" y="189.36" width="9.77" height="6.32" fill="#2d2d7d" stroke="#1e1e1e" stroke-width="0.7" />
<rect x="414.10" y="195.68" width="9.77" height="6.32" fill="#4566c2" stroke="#1e1e1e" stroke-width="0.7" />
<rect x="423.87" y="195.68" width="9.77" height="6.32" fill="#9ba579" stroke="#1e1e1e" stroke-width="0.7" />
<rect x="433.64" y="195.68" width="9.77" height="6.32" fill="#4566c2" stroke="#1e1e1e" stroke-width="0.7" />
<rect x="443.41" y="195.68" width="9.77" height="6.32" fill="#6f8cb3" stroke="#1e1e1e" stroke-width="0.7" />
<rect x="453.18" y="195.68" width="9.77" height="6.32" fill="#6f8cb3" stroke="#1e1e1e" stroke-width="0.7" />
<rect x="462.95" y="195.68" width="9.77" height="6.32" fill="#9ba579" stroke="#1e1e1e" stroke-width="0.7" />
<rect x="472.72" y="195.68" width="9.77" height="6.32" fill="#2d2d7d" stroke="#1e1e1e" stroke-width="0.7" />
<rect x="482.49" y="195.68" width="9.77" height="6.32" fill="#4566c2" stroke="#1e1e1e" stroke-width="0.7" />
<rect x="492.26" y="195.68" width="9.77" height="6.32" fill="#4566c2" stroke="#1e1e1e" stroke-width="0.7" />
<rect x="502.03" y="195.68" width="9.77" height="6.32" fill="#4566c2" stroke="#1e1e1e" stroke-width="0.7" />
<rect x="414.10" y="170.40" width="97.70" height="31.60" fill="none" stroke="#1e1e1e" stroke-width="0.9" />
<line x1="462.95" y1="170.40" x2="462.95" y2="202.00" stroke="#0e0e0e" stroke-width="1.1" />
<text x="406.30" y="176.00" font-size="6.2" textLength="3.20" lengthAdjust="spacingAndGlyphs" text-anchor="middle" >1</text>
<text x="406.30" y="182.30" font-size="6.2" textLength="3.20" lengthAdjust="spacingAndGlyphs" text-anchor="middle" >2</text>
<text x="406.30" y="188.60" font-size="6.2" textLength="3.20" lengthAdjust="spacingAndGlyphs" text-anchor="middle" >3</text>
<text x="406.30" y="194.90" font-size="6.2" textLength="3.20" lengthAdjust="spacingAndGlyphs" text-anchor="middle" >4</text>
<text x="406.30" y="201.20" font-size="6.2" textLength="3.20" lengthAdjust="spacingAndGlyphs" text-anchor="middle" >5</text>
<line x1="372.00" y1="54.70" x2="514.00" y2="54.70" stroke="#1a1a1a" stroke-width="0.9" />
<line x1="372.50" y1="92.30" x2="513.00" y2="92.30" stroke="#1a1a1a" stroke-width="0.9" />
<line x1="372.50" y1="131.00" x2="513.00" y2="131.00" stroke="#777" stroke-width="0.9" />
<line x1="411.30" y1="34.60" x2="411.30" y2="201.50" stroke="#1a1a1a" stroke-width="0.9" />
<text x="374.00" y="50.50" font-size="8.8" textLength="29.00" lengthAdjust="spacingAndGlyphs" >Chimera</text>
<text x="373.90" y="64.90" font-size="8.6" textLength="9.80" lengthAdjust="spacingAndGlyphs">Ski</text>
<text x="384.20" y="61.90" font-size="6.4" textLength="8.10" lengthAdjust="spacingAndGlyphs">+/+</text>
<text x="373.90" y="101.80" font-size="8.6" textLength="9.80" lengthAdjust="spacingAndGlyphs">Ski</text>
<text x="384.20" y="98.80" font-size="6.4" textLength="7.10" lengthAdjust="spacingAndGlyphs">+/-</text>
<text x="373.90" y="140.80" font-size="8.6" textLength="9.80" lengthAdjust="spacingAndGlyphs">Ski</text>
<text x="384.20" y="137.80" font-size="6.4" textLength="5.00" lengthAdjust="spacingAndGlyphs">-/-</text>
<line x1="401.30" y1="134.20" x2="401.30" y2="165.40" stroke="#1a1a1a" stroke-width="0.8" />
<line x1="401.30" y1="170.10" x2="401.30" y2="201.90" stroke="#1a1a1a" stroke-width="0.8" />
<text x="400.40" y="161.30" font-size="6.9" textLength="21.90" lengthAdjust="spacingAndGlyphs" transform="rotate(-90 400.40 161.30)" >Clone A</text>
<text x="400.40" y="196.70" font-size="6.9" textLength="23.00" lengthAdjust="spacingAndGlyphs" transform="rotate(-90 400.40 196.70)" >Clone B</text>
<text x="421.79" y="52.00" font-size="7.7" textLength="17.40" lengthAdjust="spacingAndGlyphs" transform="rotate(-90 421.79 52.00)" >brain</text>
<text x="431.56" y="52.00" font-size="7.7" textLength="29.00" lengthAdjust="spacingAndGlyphs" transform="rotate(-90 431.56 52.00)" >intestine</text>
<text x="441.33" y="52.00" font-size="7.7" textLength="23.20" lengthAdjust="spacingAndGlyphs" transform="rotate(-90 441.33 52.00)" >kidney</text>
<text x="451.10" y="52.00" font-size="7.7" textLength="15.00" lengthAdjust="spacingAndGlyphs" transform="rotate(-90 451.10 52.00)" >liver</text>
<text x="460.87" y="52.00" font-size="7.7" textLength="24.30" lengthAdjust="spacingAndGlyphs" transform="rotate(-90 460.87 52.00)" >tongue</text>
<text x="470.64" y="52.00" font-size="7.7" textLength="33.50" lengthAdjust="spacingAndGlyphs" transform="rotate(-90 470.64 52.00)" >quadricep</text>
<text x="480.41" y="52.00" font-size="7.7" textLength="19.70" lengthAdjust="spacingAndGlyphs" transform="rotate(-90 480.41 52.00)" >blood</text>
<text x="490.18" y="52.00" font-size="7.7" textLength="12.80" lengthAdjust="spacingAndGlyphs" transform="rotate(-90 490.18 52.00)" >BM</text>
<text x="499.95" y="52.00" font-size="7.7" textLength="22.00" lengthAdjust="spacingAndGlyphs" transform="rotate(-90 499.95 52.00)" >spleen</text>
<text x="509.72" y="52.00" font-size="7.7" textLength="25.50" lengthAdjust="spacingAndGlyphs" transform="rotate(-90 509.72 52.00)" >thymus</text>
<text x="419.40" y="210.30" font-size="8.3" textLength="87.80" lengthAdjust="spacingAndGlyphs" >% Donor (129) Chimerism</text>
<line x1="414.30" y1="212.00" x2="512.70" y2="212.00" stroke="#1a1a1a" stroke-width="0.9" />
<rect x="415.20" y="214.40" width="6.60" height="6.30" fill="#2d2d7d" stroke="#1e1e1e" stroke-width="0.8" />
<text x="422.00" y="228.80" font-size="7.5" text-anchor="end" transform="rotate(-45 422.00 228.80)" >0</text>
<rect x="432.60" y="214.40" width="6.60" height="6.30" fill="#4566c2" stroke="#1e1e1e" stroke-width="0.8" />
<text x="439.40" y="228.80" font-size="7.5" text-anchor="end" transform="rotate(-45 439.40 228.80)" >5</text>
<rect x="450.00" y="214.40" width="6.60" height="6.30" fill="#6f8cb3" stroke="#1e1e1e" stroke-width="0.8" />
<text x="456.80" y="228.80" font-size="7.5" text-anchor="end" transform="rotate(-45 456.80 228.80)" >6-25</text>
<rect x="467.20" y="214.40" width="6.60" height="6.30" fill="#9ba579" stroke="#1e1e1e" stroke-width="0.8" />
<text x="474.00" y="228.80" font-size="7.5" text-anchor="end" transform="rotate(-45 474.00 228.80)" >25-50</text>
<rect x="484.40" y="214.40" width="6.60" height="6.30" fill="#d2d358" stroke="#1e1e1e" stroke-width="0.8" />
<text x="491.20" y="228.80" font-size="7.5" text-anchor="end" transform="rotate(-45 491.20 228.80)" >50-75</text>
<rect x="501.50" y="214.40" width="6.60" height="6.30" fill="#f8e93a" stroke="#1e1e1e" stroke-width="0.8" />
<text x="508.30" y="228.80" font-size="7.5" text-anchor="end" transform="rotate(-45 508.30 228.80)" >75-100</text>
<text x="7.30" y="195.60" font-size="11" textLength="7.00" lengthAdjust="spacingAndGlyphs" style="stroke-width:0.3px">B</text>
<text x="28.80" y="231.30" font-size="9.0" textLength="24.00" lengthAdjust="spacingAndGlyphs" >CD45.2</text>
<text x="14.90" y="244.00" font-size="8.6" textLength="9.60" lengthAdjust="spacingAndGlyphs">Ski</text>
<text x="25.00" y="241.00" font-size="6.4" textLength="8.10" lengthAdjust="spacingAndGlyphs">+/+</text>
<text x="14.90" y="252.90" font-size="8.6" textLength="9.60" lengthAdjust="spacingAndGlyphs">Ski</text>
<text x="25.00" y="249.90" font-size="6.4" textLength="5.00" lengthAdjust="spacingAndGlyphs">-/-</text>
<g fill="#111" stroke="#111" stroke-width="1.7"><ellipse cx="41.800000000000004" cy="240.5" rx="3.7" ry="4.2"/><ellipse cx="40.800000000000004" cy="244.70000000000002" rx="3.2" ry="7.5"/><circle cx="43.2" cy="248.3" r="4.25"/></g>
<g fill="#fff"><ellipse cx="41.800000000000004" cy="240.5" rx="3.7" ry="4.2"/><ellipse cx="40.800000000000004" cy="244.70000000000002" rx="3.2" ry="7.5"/><circle cx="43.2" cy="248.3" r="4.25"/></g>
<circle cx="42.400000000000006" cy="239.3" r="0.75" fill="#111"/>
<path d="M40.2,241.10000000000002 Q42.1,243.0 44.2,242.20000000000002 M39.0,245.3 C41.1,243.9 44.6,244.4 46.900000000000006,245.4 M39.400000000000006,247.0 L42.400000000000006,247.60000000000002" fill="none" stroke="#111" stroke-width="0.75" />
<path d="M46.6,240.9 L48.800000000000004,239.3 L50.800000000000004,240.5 L49.6,242.0 L48.400000000000006,243.60000000000002 L46.900000000000006,243.20000000000002 Z" fill="#111" />
<circle cx="50.800000000000004" cy="239.5" r="0.9" fill="#111"/>
<circle cx="47.800000000000004" cy="243.9" r="0.6" fill="#111"/>
<line x1="51.00" y1="245.50" x2="59.00" y2="245.50" stroke="#1a1a1a" stroke-width="0.9" />
<path d="M63.3,245.5 L58.5,243.6 L58.5,247.4 Z" fill="#1a1a1a" />
<path d="M73.1,231.2 C71.3,231.0 70.8,229.5 70.39999999999999,227.0 C70.1,225.0 69.0,223.5 67.8,223.9 C67.0,224.2 66.39999999999999,224.7 66.2,225.0" fill="none" stroke="#111" stroke-width="0.7" />
<path d="M72.8,231.5 C72.2,228.5 73.1,224.5 75.5,223.0 C77.3,221.8 81.8,221.5 85.0,221.8 C87.8,222.1 90.3,222.5 91.8,224.0 C93.8,226.0 95.8,228.0 97.3,229.3 L99.8,230.8 L98.1,231.4 L97.1,232.4 L96.0,231.5 Z" fill="#111" />
<circle cx="91.6" cy="223.8" r="1.5" fill="#c4c4c4"/>
<circle cx="93.5" cy="229.2" r="0.8" fill="#e0e0e0"/>
<path d="M98.3,229.9 l1.8,-0.8 M98.3,231.1 l1.6,0.9" fill="none" stroke="#111" stroke-width="0.5" />
<path d="M76.2,212.7 L80.60000000000001,212.0 L82.4,215.8 L81.3,216.1 L84.2,220.6 L79.5,216.8 L80.60000000000001,216.5 Z" fill="#fff" stroke="#111" stroke-width="0.75" stroke-linejoin="round"/>
<text x="85.00" y="217.20" font-size="9.0" textLength="32.50" lengthAdjust="spacingAndGlyphs" >11.75 cGy</text>
<text x="105.60" y="231.90" font-size="9.0" textLength="13.20" lengthAdjust="spacingAndGlyphs" >HSC</text>
<text x="106.00" y="241.50" font-size="9.0" textLength="26.50" lengthAdjust="spacingAndGlyphs" >Analysis</text>
<path d="M101.6,240.6 C101.2,237.5 102.8,235.8 105,235.6" fill="none" stroke="#111" stroke-width="0.7" />
<text x="71.00" y="240.60" font-size="9.0" textLength="23.00" lengthAdjust="spacingAndGlyphs" >CD45.1</text>
<line x1="68.50" y1="245.50" x2="102.90" y2="245.50" stroke="#1a1a1a" stroke-width="0.9" />
<path d="M106.9,245.5 L101.9,243.5 L101.9,247.5 Z" fill="#1a1a1a" />
<path d="M69.8,241.9V249.1M77.3,241.9V249.1M85.4,241.9V249.1M93.3,241.9V249.1M101.0,241.9V249.1" fill="none" stroke="#111" stroke-width="0.7" />
<text x="69.80" y="258.90" font-size="8.6" text-anchor="middle" >0</text>
<text x="77.30" y="258.90" font-size="8.6" text-anchor="middle" >1</text>
<text x="85.40" y="258.90" font-size="8.6" text-anchor="middle" >2</text>
<text x="93.30" y="258.90" font-size="8.6" text-anchor="middle" >3</text>
<text x="101.00" y="258.90" font-size="8.6" text-anchor="middle" >4</text>
<text x="86.15" y="270.60" font-size="9.0" textLength="34.70" lengthAdjust="spacingAndGlyphs" text-anchor="middle" >Peripheral</text>
<text x="86.15" y="280.60" font-size="9.0" textLength="19.60" lengthAdjust="spacingAndGlyphs" text-anchor="middle" >Blood</text>
<text x="86.15" y="290.30" font-size="9.0" textLength="36.50" lengthAdjust="spacingAndGlyphs" text-anchor="middle" >Chimerism</text>
<text x="7.00" y="328.90" font-size="11" textLength="7.20" lengthAdjust="spacingAndGlyphs" style="stroke-width:0.3px">C</text>
<text x="36.15" y="351.80" font-size="9.0" textLength="24.50" lengthAdjust="spacingAndGlyphs" >CD45.2</text>
<text x="19.00" y="361.70" font-size="8.6" textLength="9.70" lengthAdjust="spacingAndGlyphs">Ski</text>
<text x="29.20" y="358.70" font-size="6.4" textLength="8.10" lengthAdjust="spacingAndGlyphs">+/+</text>
<text x="19.00" y="370.90" font-size="8.6" textLength="9.70" lengthAdjust="spacingAndGlyphs">Ski</text>
<text x="29.20" y="367.90" font-size="6.4" textLength="5.00" lengthAdjust="spacingAndGlyphs">-/-</text>
<g fill="#111" stroke="#111" stroke-width="1.7"><ellipse cx="45.7" cy="358.59999999999997" rx="3.7" ry="4.2"/><ellipse cx="44.7" cy="362.79999999999995" rx="3.2" ry="7.5"/><circle cx="47.1" cy="366.4" r="4.25"/></g>
<g fill="#fff"><ellipse cx="45.7" cy="358.59999999999997" rx="3.7" ry="4.2"/><ellipse cx="44.7" cy="362.79999999999995" rx="3.2" ry="7.5"/><circle cx="47.1" cy="366.4" r="4.25"/></g>
<circle cx="46.300000000000004" cy="357.4" r="0.75" fill="#111"/>
<path d="M44.1,359.2 Q46.0,361.09999999999997 48.1,360.29999999999995 M42.9,363.4 C45.0,362.0 48.5,362.5 50.8,363.5 M43.300000000000004,365.09999999999997 L46.300000000000004,365.7" fill="none" stroke="#111" stroke-width="0.75" />
<path d="M50.5,359.0 L52.7,357.4 L54.7,358.59999999999997 L53.5,360.09999999999997 L52.3,361.7 L50.8,361.29999999999995 Z" fill="#111" />
<circle cx="54.7" cy="357.59999999999997" r="0.9" fill="#111"/>
<circle cx="51.7" cy="362.0" r="0.6" fill="#111"/>
<text x="19.00" y="398.30" font-size="8.6" textLength="9.70" lengthAdjust="spacingAndGlyphs">Ski</text>
<text x="29.20" y="395.30" font-size="6.4" textLength="8.10" lengthAdjust="spacingAndGlyphs">+/+</text>
<g fill="#111" stroke="#111" stroke-width="1.7"><ellipse cx="45.7" cy="392.8" rx="3.7" ry="4.2"/><ellipse cx="44.7" cy="397.0" rx="3.2" ry="7.5"/><circle cx="47.1" cy="400.6" r="4.25"/></g>
<g fill="#fff"><ellipse cx="45.7" cy="392.8" rx="3.7" ry="4.2"/><ellipse cx="44.7" cy="397.0" rx="3.2" ry="7.5"/><circle cx="47.1" cy="400.6" r="4.25"/></g>
<circle cx="46.300000000000004" cy="391.6" r="0.75" fill="#111"/>
<path d="M44.1,393.40000000000003 Q46.0,395.3 48.1,394.5 M42.9,397.6 C45.0,396.20000000000005 48.5,396.70000000000005 50.8,397.70000000000005 M43.300000000000004,399.3 L46.300000000000004,399.90000000000003" fill="none" stroke="#111" stroke-width="0.75" />
<path d="M50.5,393.20000000000005 L52.7,391.6 L54.7,392.8 L53.5,394.3 L52.3,395.90000000000003 L50.8,395.5 Z" fill="#111" />
<circle cx="54.7" cy="391.8" r="0.9" fill="#111"/>
<circle cx="51.7" cy="396.20000000000005" r="0.6" fill="#111"/>
<text x="36.15" y="412.10" font-size="9.0" textLength="24.00" lengthAdjust="spacingAndGlyphs" >CD45.1</text>
<text x="56.20" y="363.60" font-size="9.0" textLength="18.20" lengthAdjust="spacingAndGlyphs" >Ratio</text>
<line x1="56.20" y1="364.70" x2="74.60" y2="364.70" stroke="#1a1a1a" stroke-width="0.65" />
<path d="M81.1,365.8 C79.3,365.59999999999997 78.6,364.2 78.2,362.2 C77.8,359.9 76.39999999999999,358.9 75.6,360.0 C75.0,361.0 75.2,363.8 74.6,364.5" fill="none" stroke="#111" stroke-width="0.7" />
<path d="M80.8,366.2 C80.2,363.2 81.1,359.2 83.5,357.7 C85.3,356.5 89.8,356.2 93.0,356.5 C95.8,356.8 98.3,357.2 99.8,358.7 C101.8,360.7 103.8,362.7 105.3,364.0 L107.8,365.5 L106.1,366.09999999999997 L105.1,367.09999999999997 L104.0,366.2 Z" fill="#111" />
<circle cx="99.6" cy="358.5" r="1.5" fill="#c4c4c4"/>
<circle cx="101.5" cy="363.9" r="0.8" fill="#e0e0e0"/>
<path d="M106.3,364.59999999999997 l1.8,-0.8 M106.3,365.8 l1.6,0.9" fill="none" stroke="#111" stroke-width="0.5" />
<path d="M84.4,346.3 L88.80000000000001,345.6 L90.60000000000001,349.40000000000003 L89.5,349.70000000000005 L92.4,354.20000000000005 L87.7,350.40000000000003 L88.80000000000001,350.1 Z" fill="#fff" stroke="#111" stroke-width="0.75" stroke-linejoin="round"/>
<text x="93.10" y="352.30" font-size="9.0" textLength="32.30" lengthAdjust="spacingAndGlyphs" >11.75 cGy</text>
<text x="113.10" y="365.80" font-size="9.0" textLength="13.40" lengthAdjust="spacingAndGlyphs" >HSC</text>
<text x="113.30" y="376.20" font-size="9.0" textLength="26.50" lengthAdjust="spacingAndGlyphs" >Analysis</text>
<path d="M108.8,375.2 C108.4,372.2 110,370.5 112.2,370.3" fill="none" stroke="#111" stroke-width="0.7" />
<text x="80.80" y="375.40" font-size="9.0" textLength="23.40" lengthAdjust="spacingAndGlyphs" >CD45.1</text>
<line x1="71.50" y1="380.30" x2="109.80" y2="380.30" stroke="#1a1a1a" stroke-width="0.9" />
<path d="M113.8,380.3 L108.8,378.3 L108.8,382.3 Z" fill="#1a1a1a" />
<path d="M77.4,376.7V383.90000000000003M85.1,376.7V383.90000000000003M92.8,376.7V383.90000000000003M100.8,376.7V383.90000000000003M108.5,376.7V383.90000000000003" fill="none" stroke="#111" stroke-width="0.7" />
<text x="76.50" y="394.20" font-size="8.6" text-anchor="middle" >0</text>
<text x="85.20" y="394.20" font-size="8.6" text-anchor="middle" >1</text>
<text x="92.70" y="394.20" font-size="8.6" text-anchor="middle" >2</text>
<text x="100.50" y="394.20" font-size="8.6" text-anchor="middle" >3</text>
<text x="108.30" y="394.20" font-size="8.6" text-anchor="middle" >4</text>
<text x="92.90" y="406.30" font-size="9.0" textLength="34.60" lengthAdjust="spacingAndGlyphs" text-anchor="middle" >Peripheral</text>
<text x="92.70" y="415.90" font-size="9.0" textLength="19.60" lengthAdjust="spacingAndGlyphs" text-anchor="middle" >Blood</text>
<text x="92.85" y="425.60" font-size="9.0" textLength="36.70" lengthAdjust="spacingAndGlyphs" text-anchor="middle" >Chimerism</text>
<path d="M52.7,371.4 C55,378 61,380.3 72,380.3" fill="none" stroke="#111" stroke-width="0.85" />
<path d="M52.7,388.5 C55,382.5 61,380.3 72,380.3" fill="none" stroke="#111" stroke-width="0.85" />
<path d="M75.6,380.3 L71.19999999999999,378.40000000000003 L71.19999999999999,382.2 Z" fill="#1a1a1a" />
<text x="65.30" y="377.40" font-size="7.5" text-anchor="middle" >1</text>
<text x="65.30" y="386.80" font-size="7.5" text-anchor="middle" >1</text>
<text x="7.00" y="463.90" font-size="11" textLength="7.80" lengthAdjust="spacingAndGlyphs" style="stroke-width:0.3px">D</text>
<text x="33.85" y="485.60" font-size="9.0" textLength="24.50" lengthAdjust="spacingAndGlyphs" >CD45.2</text>
<text x="18.00" y="496.30" font-size="8.6" textLength="9.70" lengthAdjust="spacingAndGlyphs">Ski</text>
<text x="28.20" y="493.30" font-size="6.4" textLength="8.10" lengthAdjust="spacingAndGlyphs">+/+</text>
<text x="18.00" y="504.60" font-size="8.6" textLength="9.70" lengthAdjust="spacingAndGlyphs">Ski</text>
<text x="28.20" y="501.60" font-size="6.4" textLength="5.00" lengthAdjust="spacingAndGlyphs">-/-</text>
<g fill="#111" stroke="#111" stroke-width="1.7"><ellipse cx="45.7" cy="492.59999999999997" rx="3.7" ry="4.2"/><ellipse cx="44.7" cy="496.79999999999995" rx="3.2" ry="7.5"/><circle cx="47.1" cy="500.4" r="4.25"/></g>
<g fill="#fff"><ellipse cx="45.7" cy="492.59999999999997" rx="3.7" ry="4.2"/><ellipse cx="44.7" cy="496.79999999999995" rx="3.2" ry="7.5"/><circle cx="47.1" cy="500.4" r="4.25"/></g>
<circle cx="46.300000000000004" cy="491.4" r="0.75" fill="#111"/>
<path d="M44.1,493.2 Q46.0,495.09999999999997 48.1,494.29999999999995 M42.9,497.4 C45.0,496.0 48.5,496.5 50.8,497.5 M43.300000000000004,499.09999999999997 L46.300000000000004,499.7" fill="none" stroke="#111" stroke-width="0.75" />
<path d="M50.5,493.0 L52.7,491.4 L54.7,492.59999999999997 L53.5,494.09999999999997 L52.3,495.7 L50.8,495.29999999999995 Z" fill="#111" />
<circle cx="54.7" cy="491.59999999999997" r="0.9" fill="#111"/>
<circle cx="51.7" cy="496.0" r="0.6" fill="#111"/>
<text x="18.00" y="533.80" font-size="8.6" textLength="9.70" lengthAdjust="spacingAndGlyphs">Ski</text>
<text x="28.20" y="530.80" font-size="6.4" textLength="8.10" lengthAdjust="spacingAndGlyphs">+/+</text>
<g fill="#111" stroke="#111" stroke-width="1.7"><ellipse cx="45.7" cy="527.8000000000001" rx="3.7" ry="4.2"/><ellipse cx="44.7" cy="532.0" rx="3.2" ry="7.5"/><circle cx="47.1" cy="535.6" r="4.25"/></g>
<g fill="#fff"><ellipse cx="45.7" cy="527.8000000000001" rx="3.7" ry="4.2"/><ellipse cx="44.7" cy="532.0" rx="3.2" ry="7.5"/><circle cx="47.1" cy="535.6" r="4.25"/></g>
<circle cx="46.300000000000004" cy="526.6" r="0.75" fill="#111"/>
<path d="M44.1,528.4 Q46.0,530.3000000000001 48.1,529.5 M42.9,532.6 C45.0,531.2 48.5,531.7 50.8,532.7 M43.300000000000004,534.3000000000001 L46.300000000000004,534.9" fill="none" stroke="#111" stroke-width="0.75" />
<path d="M50.5,528.2 L52.7,526.6 L54.7,527.8000000000001 L53.5,529.3000000000001 L52.3,530.9 L50.8,530.5 Z" fill="#111" />
<circle cx="54.7" cy="526.8000000000001" r="0.9" fill="#111"/>
<circle cx="51.7" cy="531.2" r="0.6" fill="#111"/>
<text x="34.80" y="547.70" font-size="9.0" textLength="23.60" lengthAdjust="spacingAndGlyphs" >CD45.1</text>
<text x="56.20" y="498.60" font-size="9.0" textLength="18.20" lengthAdjust="spacingAndGlyphs" >Ratio</text>
<line x1="56.20" y1="499.70" x2="74.60" y2="499.70" stroke="#1a1a1a" stroke-width="0.65" />
<path d="M81.1,500.8 C79.3,500.59999999999997 78.6,499.2 78.2,497.2 C77.8,494.9 76.39999999999999,493.9 75.6,495.0 C75.0,496.0 75.2,498.8 74.6,499.5" fill="none" stroke="#111" stroke-width="0.7" />
<path d="M80.8,501.2 C80.2,498.2 81.1,494.2 83.5,492.7 C85.3,491.5 89.8,491.2 93.0,491.5 C95.8,491.8 98.3,492.2 99.8,493.7 C101.8,495.7 103.8,497.7 105.3,499.0 L107.8,500.5 L106.1,501.09999999999997 L105.1,502.09999999999997 L104.0,501.2 Z" fill="#111" />
<circle cx="99.6" cy="493.5" r="1.5" fill="#c4c4c4"/>
<circle cx="101.5" cy="498.9" r="0.8" fill="#e0e0e0"/>
<path d="M106.3,499.59999999999997 l1.8,-0.8 M106.3,500.8 l1.6,0.9" fill="none" stroke="#111" stroke-width="0.5" />
<path d="M84.4,481.3 L88.80000000000001,480.6 L90.60000000000001,484.40000000000003 L89.5,484.70000000000005 L92.4,489.20000000000005 L87.7,485.40000000000003 L88.80000000000001,485.1 Z" fill="#fff" stroke="#111" stroke-width="0.75" stroke-linejoin="round"/>
<text x="93.10" y="487.30" font-size="9.0" textLength="32.30" lengthAdjust="spacingAndGlyphs" >11.75 cGy</text>
<text x="113.10" y="500.80" font-size="9.0" textLength="13.40" lengthAdjust="spacingAndGlyphs" >HSC</text>
<text x="113.30" y="511.20" font-size="9.0" textLength="26.50" lengthAdjust="spacingAndGlyphs" >Analysis</text>
<path d="M108.8,510.2 C108.4,507.2 110,505.5 112.2,505.3" fill="none" stroke="#111" stroke-width="0.7" />
<text x="79.30" y="510.40" font-size="9.0" textLength="23.40" lengthAdjust="spacingAndGlyphs" >CD45.1</text>
<line x1="71.50" y1="515.30" x2="109.80" y2="515.30" stroke="#1a1a1a" stroke-width="0.9" />
<path d="M113.8,515.3 L108.8,513.3 L108.8,517.3 Z" fill="#1a1a1a" />
<path d="M77.4,511.69999999999993V518.9M85.1,511.69999999999993V518.9M92.8,511.69999999999993V518.9M100.8,511.69999999999993V518.9M108.5,511.69999999999993V518.9" fill="none" stroke="#111" stroke-width="0.7" />
<text x="76.50" y="529.20" font-size="8.6" text-anchor="middle" >0</text>
<text x="85.20" y="529.20" font-size="8.6" text-anchor="middle" >1</text>
<text x="92.70" y="529.20" font-size="8.6" text-anchor="middle" >2</text>
<text x="100.50" y="529.20" font-size="8.6" text-anchor="middle" >3</text>
<text x="108.30" y="529.20" font-size="8.6" text-anchor="middle" >4</text>
<text x="92.90" y="541.30" font-size="9.0" textLength="34.60" lengthAdjust="spacingAndGlyphs" text-anchor="middle" >Peripheral</text>
<text x="92.70" y="550.90" font-size="9.0" textLength="19.60" lengthAdjust="spacingAndGlyphs" text-anchor="middle" >Blood</text>
<text x="92.85" y="560.60" font-size="9.0" textLength="36.70" lengthAdjust="spacingAndGlyphs" text-anchor="middle" >Chimerism</text>
<path d="M52.7,506.4 C55,513 61,515.3 72,515.3" fill="none" stroke="#111" stroke-width="0.85" />
<path d="M52.7,523.5 C55,517.5 61,515.3 72,515.3" fill="none" stroke="#111" stroke-width="0.85" />
<path d="M75.6,515.3 L71.19999999999999,513.4 L71.19999999999999,517.1999999999999 Z" fill="#1a1a1a" />
<text x="64.80" y="512.40" font-size="7.5" text-anchor="middle" >4</text>
<text x="65.30" y="521.70" font-size="7.5" text-anchor="middle" >1</text>
<text x="7.00" y="598.00" font-size="11" textLength="6.30" lengthAdjust="spacingAndGlyphs" style="stroke-width:0.3px">E</text>
<text x="31.50" y="623.80" font-size="9.0" textLength="24.70" lengthAdjust="spacingAndGlyphs" >CD45.2</text>
<text x="5.20" y="628.50" font-size="8.6" textLength="11.60" lengthAdjust="spacingAndGlyphs">Skil</text>
<text x="17.30" y="625.90" font-size="6.4" textLength="8.10" lengthAdjust="spacingAndGlyphs">+/+</text>
<text x="5.20" y="639.00" font-size="8.6" textLength="11.60" lengthAdjust="spacingAndGlyphs">Skil</text>
<text x="17.30" y="635.70" font-size="6.4" textLength="4.60" lengthAdjust="spacingAndGlyphs">-/-</text>
<g fill="#222" stroke="#222" stroke-width="1.5"><rect x="37.4" y="629.1999999999999" width="13.8" height="2.2"/><circle cx="36.4" cy="629.0" r="1.5"/><circle cx="36.4" cy="631.6" r="1.5"/><circle cx="52.2" cy="629.0" r="1.5"/><circle cx="52.2" cy="631.6" r="1.5"/><rect x="35.9" y="629.0" width="16.8" height="2.5999999999999996"/></g>
<g fill="#fff"><rect x="37.4" y="629.1999999999999" width="13.8" height="2.2"/><circle cx="36.4" cy="629.0" r="1.5"/><circle cx="36.4" cy="631.6" r="1.5"/><circle cx="52.2" cy="629.0" r="1.5"/><circle cx="52.2" cy="631.6" r="1.5"/><rect x="35.9" y="629.0" width="16.8" height="2.5999999999999996"/></g>
<line x1="38.40" y1="629.60" x2="50.20" y2="629.60" stroke="#aaa" stroke-width="0.5" />
<circle cx="42.4" cy="637.3" r="1.6" fill="#222"/>
<circle cx="46.2" cy="636.4" r="1.2" fill="#222"/>
<circle cx="43.6" cy="633.7" r="1.1" fill="#222"/>
<circle cx="48.3" cy="632.7" r="1.0" fill="#222"/>
<circle cx="45.2" cy="635.1" r="0.8" fill="#222"/>
<circle cx="47.2" cy="634.1" r="0.7" fill="#222"/>
<circle cx="42.8" cy="635.3" r="0.7" fill="#222"/>
<circle cx="44.4" cy="636.7" r="0.8" fill="#222"/>
<text x="5.20" y="664.60" font-size="8.6" textLength="11.60" lengthAdjust="spacingAndGlyphs">Skil</text>
<text x="17.30" y="662.00" font-size="6.4" textLength="8.10" lengthAdjust="spacingAndGlyphs">+/+</text>
<g fill="#222" stroke="#222" stroke-width="1.5"><rect x="37.4" y="659.9999999999999" width="13.8" height="2.2"/><circle cx="36.4" cy="659.8" r="1.5"/><circle cx="36.4" cy="662.4" r="1.5"/><circle cx="52.2" cy="659.8" r="1.5"/><circle cx="52.2" cy="662.4" r="1.5"/><rect x="35.9" y="659.8" width="16.8" height="2.5999999999999996"/></g>
<g fill="#fff"><rect x="37.4" y="659.9999999999999" width="13.8" height="2.2"/><circle cx="36.4" cy="659.8" r="1.5"/><circle cx="36.4" cy="662.4" r="1.5"/><circle cx="52.2" cy="659.8" r="1.5"/><circle cx="52.2" cy="662.4" r="1.5"/><rect x="35.9" y="659.8" width="16.8" height="2.5999999999999996"/></g>
<line x1="38.40" y1="660.40" x2="50.20" y2="660.40" stroke="#aaa" stroke-width="0.5" />
<circle cx="42.4" cy="653.5" r="1.6" fill="#222"/>
<circle cx="46.2" cy="654.4" r="1.2" fill="#222"/>
<circle cx="43.6" cy="657.1" r="1.1" fill="#222"/>
<circle cx="48.3" cy="658.1" r="1.0" fill="#222"/>
<circle cx="45.2" cy="655.7" r="0.8" fill="#222"/>
<circle cx="47.2" cy="656.7" r="0.7" fill="#222"/>
<circle cx="42.8" cy="655.5" r="0.7" fill="#222"/>
<circle cx="44.4" cy="654.1" r="0.8" fill="#222"/>
<text x="33.00" y="671.50" font-size="9.0" textLength="24.00" lengthAdjust="spacingAndGlyphs" >CD45.1</text>
<text x="56.20" y="630.60" font-size="9.0" textLength="18.20" lengthAdjust="spacingAndGlyphs" >Ratio</text>
<line x1="56.20" y1="631.70" x2="74.60" y2="631.70" stroke="#1a1a1a" stroke-width="0.65" />
<path d="M81.1,632.8000000000001 C79.3,632.6 78.6,631.2 78.2,629.2 C77.8,626.9000000000001 76.39999999999999,625.9000000000001 75.6,627.0 C75.0,628.0 75.2,630.8000000000001 74.6,631.5" fill="none" stroke="#111" stroke-width="0.7" />
<path d="M80.8,633.2 C80.2,630.2 81.1,626.2 83.5,624.7 C85.3,623.5 89.8,623.2 93.0,623.5 C95.8,623.8000000000001 98.3,624.2 99.8,625.7 C101.8,627.7 103.8,629.7 105.3,631.0 L107.8,632.5 L106.1,633.1 L105.1,634.1 L104.0,633.2 Z" fill="#111" />
<circle cx="99.6" cy="625.5" r="1.5" fill="#c4c4c4"/>
<circle cx="101.5" cy="630.9000000000001" r="0.8" fill="#e0e0e0"/>
<path d="M106.3,631.6 l1.8,-0.8 M106.3,632.8000000000001 l1.6,0.9" fill="none" stroke="#111" stroke-width="0.5" />
<path d="M84.4,613.3000000000001 L88.80000000000001,612.6 L90.60000000000001,616.4 L89.5,616.7 L92.4,621.2 L87.7,617.4 L88.80000000000001,617.1 Z" fill="#fff" stroke="#111" stroke-width="0.75" stroke-linejoin="round"/>
<text x="93.10" y="619.30" font-size="9.0" textLength="32.30" lengthAdjust="spacingAndGlyphs" >11.75 cGy</text>
<text x="113.10" y="632.80" font-size="9.0" textLength="13.40" lengthAdjust="spacingAndGlyphs" >HSC</text>
<text x="113.30" y="643.20" font-size="9.0" textLength="26.50" lengthAdjust="spacingAndGlyphs" >Analysis</text>
<path d="M108.8,642.2 C108.4,639.2 110,637.5 112.2,637.3" fill="none" stroke="#111" stroke-width="0.7" />
<text x="79.30" y="642.40" font-size="9.0" textLength="23.40" lengthAdjust="spacingAndGlyphs" >CD45.1</text>
<line x1="71.50" y1="647.30" x2="109.80" y2="647.30" stroke="#1a1a1a" stroke-width="0.9" />
<path d="M113.8,647.3 L108.8,645.3 L108.8,649.3 Z" fill="#1a1a1a" />
<path d="M77.4,643.6999999999999V650.9M85.1,643.6999999999999V650.9M92.8,643.6999999999999V650.9M100.8,643.6999999999999V650.9M108.5,643.6999999999999V650.9" fill="none" stroke="#111" stroke-width="0.7" />
<text x="76.50" y="661.20" font-size="8.6" text-anchor="middle" >0</text>
<text x="85.20" y="661.20" font-size="8.6" text-anchor="middle" >1</text>
<text x="92.70" y="661.20" font-size="8.6" text-anchor="middle" >2</text>
<text x="100.50" y="661.20" font-size="8.6" text-anchor="middle" >3</text>
<text x="108.30" y="661.20" font-size="8.6" text-anchor="middle" >4</text>
<text x="92.90" y="673.30" font-size="9.0" textLength="34.60" lengthAdjust="spacingAndGlyphs" text-anchor="middle" >Peripheral</text>
<text x="92.70" y="682.90" font-size="9.0" textLength="19.60" lengthAdjust="spacingAndGlyphs" text-anchor="middle" >Blood</text>
<text x="92.85" y="692.60" font-size="9.0" textLength="36.70" lengthAdjust="spacingAndGlyphs" text-anchor="middle" >Chimerism</text>
<path d="M52.7,638.4 C55,645 61,647.3 72,647.3" fill="none" stroke="#111" stroke-width="0.85" />
<path d="M52.7,655.5 C55,649.5 61,647.3 72,647.3" fill="none" stroke="#111" stroke-width="0.85" />
<path d="M75.6,647.3 L71.19999999999999,645.4 L71.19999999999999,649.1999999999999 Z" fill="#1a1a1a" />
<text x="65.40" y="643.50" font-size="7.5" text-anchor="middle" >1</text>
<text x="65.40" y="654.00" font-size="7.5" text-anchor="middle" >1</text>
<text x="164.50" y="196.20" font-size="10.4" textLength="113.80" lengthAdjust="spacingAndGlyphs" >Peripheral Blood Chimerism</text>
<path d="M184.4,203.4 V280.3 H258.6" fill="none" stroke="#111" stroke-width="1.0" />
<line x1="181.40" y1="280.30" x2="184.40" y2="280.30" stroke="#1a1a1a" stroke-width="0.9" />
<text x="177.50" y="283.20" font-size="8.4" textLength="3.73" lengthAdjust="spacingAndGlyphs" text-anchor="end" >0</text>
<line x1="181.40" y1="265.36" x2="184.40" y2="265.36" stroke="#1a1a1a" stroke-width="0.9" />
<text x="177.50" y="268.26" font-size="8.4" textLength="7.46" lengthAdjust="spacingAndGlyphs" text-anchor="end" >20</text>
<line x1="181.40" y1="250.42" x2="184.40" y2="250.42" stroke="#1a1a1a" stroke-width="0.9" />
<text x="177.50" y="253.32" font-size="8.4" textLength="7.46" lengthAdjust="spacingAndGlyphs" text-anchor="end" >40</text>
<line x1="181.40" y1="235.48" x2="184.40" y2="235.48" stroke="#1a1a1a" stroke-width="0.9" />
<text x="177.50" y="238.38" font-size="8.4" textLength="7.46" lengthAdjust="spacingAndGlyphs" text-anchor="end" >60</text>
<line x1="181.40" y1="220.54" x2="184.40" y2="220.54" stroke="#1a1a1a" stroke-width="0.9" />
<text x="177.50" y="223.44" font-size="8.4" textLength="7.46" lengthAdjust="spacingAndGlyphs" text-anchor="end" >80</text>
<line x1="181.40" y1="205.60" x2="184.40" y2="205.60" stroke="#1a1a1a" stroke-width="0.9" />
<text x="177.50" y="208.50" font-size="8.4" textLength="11.19" lengthAdjust="spacingAndGlyphs" text-anchor="end" >100</text>
<line x1="193.40" y1="280.30" x2="193.40" y2="283.20" stroke="#1a1a1a" stroke-width="0.9" />
<text x="193.40" y="294.10" font-size="8.6" textLength="3.90" lengthAdjust="spacingAndGlyphs" text-anchor="middle" >1</text>
<line x1="212.10" y1="280.30" x2="212.10" y2="283.20" stroke="#1a1a1a" stroke-width="0.9" />
<text x="212.10" y="294.10" font-size="8.6" textLength="3.90" lengthAdjust="spacingAndGlyphs" text-anchor="middle" >2</text>
<line x1="230.90" y1="280.30" x2="230.90" y2="283.20" stroke="#1a1a1a" stroke-width="0.9" />
<text x="230.90" y="294.10" font-size="8.6" textLength="3.90" lengthAdjust="spacingAndGlyphs" text-anchor="middle" >3</text>
<line x1="249.20" y1="280.30" x2="249.20" y2="283.20" stroke="#1a1a1a" stroke-width="0.9" />
<text x="249.20" y="294.10" font-size="8.6" textLength="3.90" lengthAdjust="spacingAndGlyphs" text-anchor="middle" >4</text>
<text x="173.40" y="306.60" font-size="10.3" textLength="95.50" lengthAdjust="spacingAndGlyphs" >Months after transplant</text>
<text x="159.30" y="241.85" font-size="10.3" textLength="38.50" lengthAdjust="spacingAndGlyphs" text-anchor="middle" transform="rotate(-90 159.30 241.85)" >% CD45.2</text>
<line x1="230.90" y1="210.83" x2="230.90" y2="212.32" stroke="#333" stroke-width="0.6" />
<line x1="229.60" y1="210.83" x2="232.20" y2="210.83" stroke="#333" stroke-width="0.6" />
<line x1="229.60" y1="212.32" x2="232.20" y2="212.32" stroke="#333" stroke-width="0.6" />
<line x1="249.20" y1="210.83" x2="249.20" y2="213.82" stroke="#333" stroke-width="0.6" />
<line x1="247.90" y1="210.83" x2="250.50" y2="210.83" stroke="#333" stroke-width="0.6" />
<line x1="247.90" y1="213.82" x2="250.50" y2="213.82" stroke="#333" stroke-width="0.6" />
<polyline points="193.4,215.31 212.1,208.59 230.9,208.59 249.2,207.09" fill="none" stroke="#aa0a3a" stroke-width="1.2"/>
<polyline points="193.4,217.55 212.1,210.83 230.9,211.58 249.2,212.32" fill="none" stroke="#2a4f8e" stroke-width="1.1" stroke-dasharray="1.5,1.3"/>
<circle cx="193.4" cy="215.31" r="1.45" fill="#aa0a3a"/>
<circle cx="212.1" cy="208.59" r="1.45" fill="#aa0a3a"/>
<circle cx="230.9" cy="208.59" r="1.45" fill="#aa0a3a"/>
<circle cx="249.2" cy="207.09" r="1.45" fill="#aa0a3a"/>
<rect x="192.00" y="216.15" width="2.80" height="2.80" fill="#2a4f8e" />
<rect x="210.70" y="209.43" width="2.80" height="2.80" fill="#2a4f8e" />
<rect x="229.50" y="210.18" width="2.80" height="2.80" fill="#2a4f8e" />
<rect x="247.80" y="210.92" width="2.80" height="2.80" fill="#2a4f8e" />
<text x="230.90" y="208.00" font-size="7.5" text-anchor="middle" fill="#222" >*</text>
<line x1="228.00" y1="263.30" x2="237.80" y2="263.30" stroke="#aa0a3a" stroke-width="1.1" />
<line x1="228.00" y1="272.60" x2="237.80" y2="272.60" stroke="#2a4f8e" stroke-width="1.1" stroke-dasharray="1.4,2.2"/>
<text x="240.80" y="266.10" font-size="8.4" textLength="9.30" lengthAdjust="spacingAndGlyphs">Ski</text>
<text x="250.60" y="263.10" font-size="5.8" textLength="7.30" lengthAdjust="spacingAndGlyphs">+/+</text>
<text x="240.80" y="275.40" font-size="8.4" textLength="9.30" lengthAdjust="spacingAndGlyphs">Ski</text>
<text x="250.60" y="272.40" font-size="5.8" textLength="5.00" lengthAdjust="spacingAndGlyphs">-/-</text>
<text x="164.50" y="330.00" font-size="10.4" textLength="113.80" lengthAdjust="spacingAndGlyphs" >Peripheral Blood Chimerism</text>
<path d="M184.4,338.75 V415.5 H258.6" fill="none" stroke="#111" stroke-width="1.0" />
<line x1="181.40" y1="415.50" x2="184.40" y2="415.50" stroke="#1a1a1a" stroke-width="0.9" />
<text x="177.50" y="418.40" font-size="8.4" textLength="3.73" lengthAdjust="spacingAndGlyphs" text-anchor="end" >0</text>
<line x1="181.40" y1="400.75" x2="184.40" y2="400.75" stroke="#1a1a1a" stroke-width="0.9" />
<text x="177.50" y="403.65" font-size="8.4" textLength="7.46" lengthAdjust="spacingAndGlyphs" text-anchor="end" >20</text>
<line x1="181.40" y1="386.00" x2="184.40" y2="386.00" stroke="#1a1a1a" stroke-width="0.9" />
<text x="177.50" y="388.90" font-size="8.4" textLength="7.46" lengthAdjust="spacingAndGlyphs" text-anchor="end" >40</text>
<line x1="181.40" y1="371.25" x2="184.40" y2="371.25" stroke="#1a1a1a" stroke-width="0.9" />
<text x="177.50" y="374.15" font-size="8.4" textLength="7.46" lengthAdjust="spacingAndGlyphs" text-anchor="end" >60</text>
<line x1="181.40" y1="356.50" x2="184.40" y2="356.50" stroke="#1a1a1a" stroke-width="0.9" />
<text x="177.50" y="359.40" font-size="8.4" textLength="7.46" lengthAdjust="spacingAndGlyphs" text-anchor="end" >80</text>
<line x1="181.40" y1="341.75" x2="184.40" y2="341.75" stroke="#1a1a1a" stroke-width="0.9" />
<text x="177.50" y="344.65" font-size="8.4" textLength="11.19" lengthAdjust="spacingAndGlyphs" text-anchor="end" >100</text>
<line x1="193.40" y1="415.50" x2="193.40" y2="418.40" stroke="#1a1a1a" stroke-width="0.9" />
<text x="193.40" y="429.30" font-size="8.6" textLength="3.90" lengthAdjust="spacingAndGlyphs" text-anchor="middle" >1</text>
<line x1="212.10" y1="415.50" x2="212.10" y2="418.40" stroke="#1a1a1a" stroke-width="0.9" />
<text x="212.10" y="429.30" font-size="8.6" textLength="3.90" lengthAdjust="spacingAndGlyphs" text-anchor="middle" >2</text>
<line x1="230.90" y1="415.50" x2="230.90" y2="418.40" stroke="#1a1a1a" stroke-width="0.9" />
<text x="230.90" y="429.30" font-size="8.6" textLength="3.90" lengthAdjust="spacingAndGlyphs" text-anchor="middle" >3</text>
<line x1="249.20" y1="415.50" x2="249.20" y2="418.40" stroke="#1a1a1a" stroke-width="0.9" />
<text x="249.20" y="429.30" font-size="8.6" textLength="3.90" lengthAdjust="spacingAndGlyphs" text-anchor="middle" >4</text>
<text x="173.40" y="441.50" font-size="10.3" textLength="95.50" lengthAdjust="spacingAndGlyphs" >Months after transplant</text>
<text x="159.30" y="377.12" font-size="10.3" textLength="38.50" lengthAdjust="spacingAndGlyphs" text-anchor="middle" transform="rotate(-90 159.30 377.12)" >% CD45.2</text>
<line x1="193.40" y1="375.68" x2="193.40" y2="378.62" stroke="#333" stroke-width="0.6" />
<line x1="192.10" y1="375.68" x2="194.70" y2="375.68" stroke="#333" stroke-width="0.6" />
<line x1="192.10" y1="378.62" x2="194.70" y2="378.62" stroke="#333" stroke-width="0.6" />
<line x1="212.10" y1="368.30" x2="212.10" y2="372.73" stroke="#333" stroke-width="0.6" />
<line x1="210.80" y1="368.30" x2="213.40" y2="368.30" stroke="#333" stroke-width="0.6" />
<line x1="210.80" y1="372.73" x2="213.40" y2="372.73" stroke="#333" stroke-width="0.6" />
<line x1="230.90" y1="366.09" x2="230.90" y2="370.51" stroke="#333" stroke-width="0.6" />
<line x1="229.60" y1="366.09" x2="232.20" y2="366.09" stroke="#333" stroke-width="0.6" />
<line x1="229.60" y1="370.51" x2="232.20" y2="370.51" stroke="#333" stroke-width="0.6" />
<line x1="249.20" y1="361.66" x2="249.20" y2="367.56" stroke="#333" stroke-width="0.6" />
<line x1="247.90" y1="361.66" x2="250.50" y2="361.66" stroke="#333" stroke-width="0.6" />
<line x1="247.90" y1="367.56" x2="250.50" y2="367.56" stroke="#333" stroke-width="0.6" />
<line x1="193.40" y1="400.75" x2="193.40" y2="402.23" stroke="#333" stroke-width="0.6" />
<line x1="192.10" y1="400.75" x2="194.70" y2="400.75" stroke="#333" stroke-width="0.6" />
<line x1="192.10" y1="402.23" x2="194.70" y2="402.23" stroke="#333" stroke-width="0.6" />
<line x1="212.10" y1="405.18" x2="212.10" y2="406.65" stroke="#333" stroke-width="0.6" />
<line x1="210.80" y1="405.18" x2="213.40" y2="405.18" stroke="#333" stroke-width="0.6" />
<line x1="210.80" y1="406.65" x2="213.40" y2="406.65" stroke="#333" stroke-width="0.6" />
<line x1="230.90" y1="405.91" x2="230.90" y2="407.39" stroke="#333" stroke-width="0.6" />
<line x1="229.60" y1="405.91" x2="232.20" y2="405.91" stroke="#333" stroke-width="0.6" />
<line x1="229.60" y1="407.39" x2="232.20" y2="407.39" stroke="#333" stroke-width="0.6" />
<line x1="249.20" y1="406.65" x2="249.20" y2="408.12" stroke="#333" stroke-width="0.6" />
<line x1="247.90" y1="406.65" x2="250.50" y2="406.65" stroke="#333" stroke-width="0.6" />
<line x1="247.90" y1="408.12" x2="250.50" y2="408.12" stroke="#333" stroke-width="0.6" />
<polyline points="193.4,377.15 212.1,370.51 230.9,368.30 249.2,364.61" fill="none" stroke="#aa0a3a" stroke-width="1.2"/>
<polyline points="193.4,401.49 212.1,405.91 230.9,406.65 249.2,407.39" fill="none" stroke="#2a4f8e" stroke-width="1.1" stroke-dasharray="1.5,1.3"/>
<circle cx="193.4" cy="377.15" r="1.45" fill="#aa0a3a"/>
<circle cx="212.1" cy="370.51" r="1.45" fill="#aa0a3a"/>
<circle cx="230.9" cy="368.30" r="1.45" fill="#aa0a3a"/>
<circle cx="249.2" cy="364.61" r="1.45" fill="#aa0a3a"/>
<rect x="192.00" y="400.09" width="2.80" height="2.80" fill="#2a4f8e" />
<rect x="210.70" y="404.51" width="2.80" height="2.80" fill="#2a4f8e" />
<rect x="229.50" y="405.25" width="2.80" height="2.80" fill="#2a4f8e" />
<rect x="247.80" y="405.99" width="2.80" height="2.80" fill="#2a4f8e" />
<text x="193.75" y="398.50" font-size="7.5" text-anchor="middle" fill="#222" >****</text>
<text x="212.00" y="403.00" font-size="7.5" text-anchor="middle" fill="#222" >****</text>
<text x="230.50" y="403.00" font-size="7.5" text-anchor="middle" fill="#222" >****</text>
<text x="249.25" y="403.00" font-size="7.5" text-anchor="middle" fill="#222" >****</text>
<line x1="188.00" y1="347.40" x2="197.10" y2="347.40" stroke="#aa0a3a" stroke-width="1.1" />
<line x1="188.00" y1="356.70" x2="197.10" y2="356.70" stroke="#2a4f8e" stroke-width="1.1" stroke-dasharray="1.4,2.2"/>
<text x="199.00" y="350.20" font-size="8.4" textLength="8.80" lengthAdjust="spacingAndGlyphs">Ski</text>
<text x="208.30" y="347.20" font-size="5.8" textLength="7.30" lengthAdjust="spacingAndGlyphs">+/+</text>
<text x="199.00" y="359.50" font-size="8.4" textLength="8.80" lengthAdjust="spacingAndGlyphs">Ski</text>
<text x="208.30" y="356.50" font-size="5.8" textLength="5.00" lengthAdjust="spacingAndGlyphs">-/-</text>
<text x="164.50" y="464.40" font-size="10.4" textLength="113.80" lengthAdjust="spacingAndGlyphs" >Peripheral Blood Chimerism</text>
<path d="M184.4,472.0 V549.3 H258.6" fill="none" stroke="#111" stroke-width="1.0" />
<line x1="181.40" y1="549.30" x2="184.40" y2="549.30" stroke="#1a1a1a" stroke-width="0.9" />
<text x="177.50" y="552.20" font-size="8.4" textLength="3.73" lengthAdjust="spacingAndGlyphs" text-anchor="end" >0</text>
<line x1="181.40" y1="534.44" x2="184.40" y2="534.44" stroke="#1a1a1a" stroke-width="0.9" />
<text x="177.50" y="537.34" font-size="8.4" textLength="7.46" lengthAdjust="spacingAndGlyphs" text-anchor="end" >20</text>
<line x1="181.40" y1="519.58" x2="184.40" y2="519.58" stroke="#1a1a1a" stroke-width="0.9" />
<text x="177.50" y="522.48" font-size="8.4" textLength="7.46" lengthAdjust="spacingAndGlyphs" text-anchor="end" >40</text>
<line x1="181.40" y1="504.72" x2="184.40" y2="504.72" stroke="#1a1a1a" stroke-width="0.9" />
<text x="177.50" y="507.62" font-size="8.4" textLength="7.46" lengthAdjust="spacingAndGlyphs" text-anchor="end" >60</text>
<line x1="181.40" y1="489.86" x2="184.40" y2="489.86" stroke="#1a1a1a" stroke-width="0.9" />
<text x="177.50" y="492.76" font-size="8.4" textLength="7.46" lengthAdjust="spacingAndGlyphs" text-anchor="end" >80</text>
<line x1="181.40" y1="475.00" x2="184.40" y2="475.00" stroke="#1a1a1a" stroke-width="0.9" />
<text x="177.50" y="477.90" font-size="8.4" textLength="11.19" lengthAdjust="spacingAndGlyphs" text-anchor="end" >100</text>
<line x1="193.40" y1="549.30" x2="193.40" y2="552.20" stroke="#1a1a1a" stroke-width="0.9" />
<text x="193.40" y="563.10" font-size="8.6" textLength="3.90" lengthAdjust="spacingAndGlyphs" text-anchor="middle" >1</text>
<line x1="212.10" y1="549.30" x2="212.10" y2="552.20" stroke="#1a1a1a" stroke-width="0.9" />
<text x="212.10" y="563.10" font-size="8.6" textLength="3.90" lengthAdjust="spacingAndGlyphs" text-anchor="middle" >2</text>
<line x1="230.90" y1="549.30" x2="230.90" y2="552.20" stroke="#1a1a1a" stroke-width="0.9" />
<text x="230.90" y="563.10" font-size="8.6" textLength="3.90" lengthAdjust="spacingAndGlyphs" text-anchor="middle" >3</text>
<line x1="249.20" y1="549.30" x2="249.20" y2="552.20" stroke="#1a1a1a" stroke-width="0.9" />
<text x="249.20" y="563.10" font-size="8.6" textLength="3.90" lengthAdjust="spacingAndGlyphs" text-anchor="middle" >4</text>
<text x="173.40" y="576.00" font-size="10.3" textLength="95.50" lengthAdjust="spacingAndGlyphs" >Months after transplant</text>
<text x="159.30" y="510.65" font-size="10.3" textLength="38.50" lengthAdjust="spacingAndGlyphs" text-anchor="middle" transform="rotate(-90 159.30 510.65)" >% CD45.2</text>
<line x1="193.40" y1="483.92" x2="193.40" y2="485.40" stroke="#333" stroke-width="0.6" />
<line x1="192.10" y1="483.92" x2="194.70" y2="483.92" stroke="#333" stroke-width="0.6" />
<line x1="192.10" y1="485.40" x2="194.70" y2="485.40" stroke="#333" stroke-width="0.6" />
<line x1="212.10" y1="479.83" x2="212.10" y2="481.32" stroke="#333" stroke-width="0.6" />
<line x1="210.80" y1="479.83" x2="213.40" y2="479.83" stroke="#333" stroke-width="0.6" />
<line x1="210.80" y1="481.32" x2="213.40" y2="481.32" stroke="#333" stroke-width="0.6" />
<line x1="230.90" y1="478.72" x2="230.90" y2="480.20" stroke="#333" stroke-width="0.6" />
<line x1="229.60" y1="478.72" x2="232.20" y2="478.72" stroke="#333" stroke-width="0.6" />
<line x1="229.60" y1="480.20" x2="232.20" y2="480.20" stroke="#333" stroke-width="0.6" />
<line x1="249.20" y1="477.23" x2="249.20" y2="478.72" stroke="#333" stroke-width="0.6" />
<line x1="247.90" y1="477.23" x2="250.50" y2="477.23" stroke="#333" stroke-width="0.6" />
<line x1="247.90" y1="478.72" x2="250.50" y2="478.72" stroke="#333" stroke-width="0.6" />
<line x1="193.40" y1="490.60" x2="193.40" y2="493.57" stroke="#333" stroke-width="0.6" />
<line x1="192.10" y1="490.60" x2="194.70" y2="490.60" stroke="#333" stroke-width="0.6" />
<line x1="192.10" y1="493.57" x2="194.70" y2="493.57" stroke="#333" stroke-width="0.6" />
<line x1="212.10" y1="483.17" x2="212.10" y2="487.63" stroke="#333" stroke-width="0.6" />
<line x1="210.80" y1="483.17" x2="213.40" y2="483.17" stroke="#333" stroke-width="0.6" />
<line x1="210.80" y1="487.63" x2="213.40" y2="487.63" stroke="#333" stroke-width="0.6" />
<line x1="230.90" y1="480.20" x2="230.90" y2="486.14" stroke="#333" stroke-width="0.6" />
<line x1="229.60" y1="480.20" x2="232.20" y2="480.20" stroke="#333" stroke-width="0.6" />
<line x1="229.60" y1="486.14" x2="232.20" y2="486.14" stroke="#333" stroke-width="0.6" />
<line x1="249.20" y1="479.46" x2="249.20" y2="483.92" stroke="#333" stroke-width="0.6" />
<line x1="247.90" y1="479.46" x2="250.50" y2="479.46" stroke="#333" stroke-width="0.6" />
<line x1="247.90" y1="483.92" x2="250.50" y2="483.92" stroke="#333" stroke-width="0.6" />
<polyline points="193.4,484.66 212.1,480.57 230.9,479.46 249.2,477.97" fill="none" stroke="#aa0a3a" stroke-width="1.2"/>
<polyline points="193.4,492.09 212.1,485.40 230.9,483.17 249.2,481.69" fill="none" stroke="#2a4f8e" stroke-width="1.1" stroke-dasharray="1.5,1.3"/>
<circle cx="193.4" cy="484.66" r="1.45" fill="#aa0a3a"/>
<circle cx="212.1" cy="480.57" r="1.45" fill="#aa0a3a"/>
<circle cx="230.9" cy="479.46" r="1.45" fill="#aa0a3a"/>
<circle cx="249.2" cy="477.97" r="1.45" fill="#aa0a3a"/>
<rect x="192.00" y="490.69" width="2.80" height="2.80" fill="#2a4f8e" />
<rect x="210.70" y="484.00" width="2.80" height="2.80" fill="#2a4f8e" />
<rect x="229.50" y="481.77" width="2.80" height="2.80" fill="#2a4f8e" />
<rect x="247.80" y="480.29" width="2.80" height="2.80" fill="#2a4f8e" />
<text x="193.30" y="502.00" font-size="7.5" text-anchor="middle" fill="#222" >**</text>
<line x1="234.00" y1="533.10" x2="243.00" y2="533.10" stroke="#aa0a3a" stroke-width="1.1" />
<line x1="234.00" y1="542.40" x2="243.00" y2="542.40" stroke="#2a4f8e" stroke-width="1.1" stroke-dasharray="1.4,2.2"/>
<text x="244.90" y="535.90" font-size="8.4" textLength="8.90" lengthAdjust="spacingAndGlyphs">Ski</text>
<text x="254.30" y="532.90" font-size="5.8" textLength="7.30" lengthAdjust="spacingAndGlyphs">+/+</text>
<text x="244.90" y="545.20" font-size="8.4" textLength="8.90" lengthAdjust="spacingAndGlyphs">Ski</text>
<text x="254.30" y="542.20" font-size="5.8" textLength="5.00" lengthAdjust="spacingAndGlyphs">-/-</text>
<text x="164.50" y="598.20" font-size="10.4" textLength="113.80" lengthAdjust="spacingAndGlyphs" >Peripheral Blood Chimerism</text>
<path d="M184.4,606.5 V683.25 H258.6" fill="none" stroke="#111" stroke-width="1.0" />
<line x1="181.40" y1="683.25" x2="184.40" y2="683.25" stroke="#1a1a1a" stroke-width="0.9" />
<text x="177.50" y="686.15" font-size="8.4" textLength="3.73" lengthAdjust="spacingAndGlyphs" text-anchor="end" >0</text>
<line x1="181.40" y1="668.60" x2="184.40" y2="668.60" stroke="#1a1a1a" stroke-width="0.9" />
<text x="177.50" y="671.50" font-size="8.4" textLength="7.46" lengthAdjust="spacingAndGlyphs" text-anchor="end" >20</text>
<line x1="181.40" y1="653.95" x2="184.40" y2="653.95" stroke="#1a1a1a" stroke-width="0.9" />
<text x="177.50" y="656.85" font-size="8.4" textLength="7.46" lengthAdjust="spacingAndGlyphs" text-anchor="end" >40</text>
<line x1="181.40" y1="639.30" x2="184.40" y2="639.30" stroke="#1a1a1a" stroke-width="0.9" />
<text x="177.50" y="642.20" font-size="8.4" textLength="7.46" lengthAdjust="spacingAndGlyphs" text-anchor="end" >60</text>
<line x1="181.40" y1="624.65" x2="184.40" y2="624.65" stroke="#1a1a1a" stroke-width="0.9" />
<text x="177.50" y="627.55" font-size="8.4" textLength="7.46" lengthAdjust="spacingAndGlyphs" text-anchor="end" >80</text>
<line x1="181.40" y1="610.00" x2="184.40" y2="610.00" stroke="#1a1a1a" stroke-width="0.9" />
<text x="177.50" y="612.90" font-size="8.4" textLength="11.19" lengthAdjust="spacingAndGlyphs" text-anchor="end" >100</text>
<line x1="193.40" y1="683.25" x2="193.40" y2="686.15" stroke="#1a1a1a" stroke-width="0.9" />
<text x="193.40" y="697.05" font-size="8.6" textLength="3.90" lengthAdjust="spacingAndGlyphs" text-anchor="middle" >1</text>
<line x1="212.10" y1="683.25" x2="212.10" y2="686.15" stroke="#1a1a1a" stroke-width="0.9" />
<text x="212.10" y="697.05" font-size="8.6" textLength="3.90" lengthAdjust="spacingAndGlyphs" text-anchor="middle" >2</text>
<line x1="230.90" y1="683.25" x2="230.90" y2="686.15" stroke="#1a1a1a" stroke-width="0.9" />
<text x="230.90" y="697.05" font-size="8.6" textLength="3.90" lengthAdjust="spacingAndGlyphs" text-anchor="middle" >3</text>
<line x1="249.20" y1="683.25" x2="249.20" y2="686.15" stroke="#1a1a1a" stroke-width="0.9" />
<text x="249.20" y="697.05" font-size="8.6" textLength="3.90" lengthAdjust="spacingAndGlyphs" text-anchor="middle" >4</text>
<text x="173.40" y="710.20" font-size="10.3" textLength="95.50" lengthAdjust="spacingAndGlyphs" >Months after transplant</text>
<text x="159.30" y="644.88" font-size="10.3" textLength="38.50" lengthAdjust="spacingAndGlyphs" text-anchor="middle" transform="rotate(-90 159.30 644.88)" >% CD45.2</text>
<line x1="193.40" y1="646.62" x2="193.40" y2="649.55" stroke="#333" stroke-width="0.6" />
<line x1="192.10" y1="646.62" x2="194.70" y2="646.62" stroke="#333" stroke-width="0.6" />
<line x1="192.10" y1="649.55" x2="194.70" y2="649.55" stroke="#333" stroke-width="0.6" />
<line x1="212.10" y1="640.76" x2="212.10" y2="642.23" stroke="#333" stroke-width="0.6" />
<line x1="210.80" y1="640.76" x2="213.40" y2="640.76" stroke="#333" stroke-width="0.6" />
<line x1="210.80" y1="642.23" x2="213.40" y2="642.23" stroke="#333" stroke-width="0.6" />
<line x1="230.90" y1="638.57" x2="230.90" y2="640.03" stroke="#333" stroke-width="0.6" />
<line x1="229.60" y1="638.57" x2="232.20" y2="638.57" stroke="#333" stroke-width="0.6" />
<line x1="229.60" y1="640.03" x2="232.20" y2="640.03" stroke="#333" stroke-width="0.6" />
<line x1="249.20" y1="637.10" x2="249.20" y2="638.57" stroke="#333" stroke-width="0.6" />
<line x1="247.90" y1="637.10" x2="250.50" y2="637.10" stroke="#333" stroke-width="0.6" />
<line x1="247.90" y1="638.57" x2="250.50" y2="638.57" stroke="#333" stroke-width="0.6" />
<line x1="193.40" y1="656.88" x2="193.40" y2="658.35" stroke="#333" stroke-width="0.6" />
<line x1="192.10" y1="656.88" x2="194.70" y2="656.88" stroke="#333" stroke-width="0.6" />
<line x1="192.10" y1="658.35" x2="194.70" y2="658.35" stroke="#333" stroke-width="0.6" />
<line x1="212.10" y1="653.22" x2="212.10" y2="654.68" stroke="#333" stroke-width="0.6" />
<line x1="210.80" y1="653.22" x2="213.40" y2="653.22" stroke="#333" stroke-width="0.6" />
<line x1="210.80" y1="654.68" x2="213.40" y2="654.68" stroke="#333" stroke-width="0.6" />
<line x1="230.90" y1="652.49" x2="230.90" y2="653.95" stroke="#333" stroke-width="0.6" />
<line x1="229.60" y1="652.49" x2="232.20" y2="652.49" stroke="#333" stroke-width="0.6" />
<line x1="229.60" y1="653.95" x2="232.20" y2="653.95" stroke="#333" stroke-width="0.6" />
<line x1="249.20" y1="652.49" x2="249.20" y2="653.95" stroke="#333" stroke-width="0.6" />
<line x1="247.90" y1="652.49" x2="250.50" y2="652.49" stroke="#333" stroke-width="0.6" />
<line x1="247.90" y1="653.95" x2="250.50" y2="653.95" stroke="#333" stroke-width="0.6" />
<polyline points="193.4,648.09 212.1,641.50 230.9,639.30 249.2,637.84" fill="none" stroke="#aa0a3a" stroke-width="1.2"/>
<polyline points="193.4,657.61 212.1,653.95 230.9,653.22 249.2,653.22" fill="none" stroke="#2a4f8e" stroke-width="1.1" stroke-dasharray="1.5,1.3"/>
<circle cx="193.4" cy="648.09" r="1.45" fill="#aa0a3a"/>
<circle cx="212.1" cy="641.50" r="1.45" fill="#aa0a3a"/>
<circle cx="230.9" cy="639.30" r="1.45" fill="#aa0a3a"/>
<circle cx="249.2" cy="637.84" r="1.45" fill="#aa0a3a"/>
<rect x="192.00" y="656.21" width="2.80" height="2.80" fill="#2a4f8e" />
<rect x="210.70" y="652.55" width="2.80" height="2.80" fill="#2a4f8e" />
<rect x="229.50" y="651.82" width="2.80" height="2.80" fill="#2a4f8e" />
<rect x="247.80" y="651.82" width="2.80" height="2.80" fill="#2a4f8e" />
<text x="193.30" y="658.00" font-size="7.5" text-anchor="middle" fill="#222" >**</text>
<text x="212.00" y="653.50" font-size="7.5" text-anchor="middle" fill="#222" >***</text>
<text x="230.50" y="653.50" font-size="7.5" text-anchor="middle" fill="#222" >****</text>
<text x="249.25" y="653.50" font-size="7.5" text-anchor="middle" fill="#222" >**</text>
<line x1="188.00" y1="613.00" x2="197.20" y2="613.00" stroke="#aa0a3a" stroke-width="1.1" />
<line x1="188.00" y1="622.30" x2="197.20" y2="622.30" stroke="#2a4f8e" stroke-width="1.1" stroke-dasharray="1.4,2.2"/>
<text x="199.00" y="615.80" font-size="8.4" textLength="11.20" lengthAdjust="spacingAndGlyphs">Skil</text>
<text x="210.70" y="612.80" font-size="5.8" textLength="7.30" lengthAdjust="spacingAndGlyphs">+/+</text>
<text x="199.00" y="625.10" font-size="8.4" textLength="11.20" lengthAdjust="spacingAndGlyphs">Skil</text>
<text x="210.70" y="622.10" font-size="5.8" textLength="5.00" lengthAdjust="spacingAndGlyphs">-/-</text>
<text x="305.20" y="195.80" font-size="10.2" textLength="64.30" lengthAdjust="spacingAndGlyphs" >Total SLAM HSC</text>
<path d="M330.7,201.4 V280.3 H344.3" fill="none" stroke="#111" stroke-width="1.0" />
<line x1="327.70" y1="280.30" x2="330.70" y2="280.30" stroke="#1a1a1a" stroke-width="0.9" />
<text x="323.40" y="283.10" font-size="8.2" textLength="3.82" lengthAdjust="spacingAndGlyphs" text-anchor="end" >0</text>
<line x1="327.70" y1="261.27" x2="330.70" y2="261.27" stroke="#1a1a1a" stroke-width="0.9" />
<text x="323.40" y="264.07" font-size="8.2" textLength="21.60" lengthAdjust="spacingAndGlyphs" text-anchor="end" >10,000</text>
<line x1="327.70" y1="242.25" x2="330.70" y2="242.25" stroke="#1a1a1a" stroke-width="0.9" />
<text x="323.40" y="245.05" font-size="8.2" textLength="21.60" lengthAdjust="spacingAndGlyphs" text-anchor="end" >20,000</text>
<line x1="327.70" y1="223.22" x2="330.70" y2="223.22" stroke="#1a1a1a" stroke-width="0.9" />
<text x="323.40" y="226.03" font-size="8.2" textLength="21.60" lengthAdjust="spacingAndGlyphs" text-anchor="end" >30,000</text>
<line x1="327.70" y1="204.20" x2="330.70" y2="204.20" stroke="#1a1a1a" stroke-width="0.9" />
<text x="323.40" y="207.00" font-size="8.2" textLength="21.60" lengthAdjust="spacingAndGlyphs" text-anchor="end" >40,000</text>
<rect x="331.60" y="243.20" width="4.70" height="37.10" fill="#2a4f8e" />
<rect x="331.60" y="242.06" width="4.70" height="1.14" fill="#aa0a3a" />
<line x1="333.95" y1="242.06" x2="333.95" y2="235.40" stroke="#333" stroke-width="0.7" />
<line x1="332.75" y1="235.40" x2="335.15" y2="235.40" stroke="#333" stroke-width="0.7" />
<line x1="333.95" y1="280.30" x2="333.95" y2="282.60" stroke="#1a1a1a" stroke-width="0.8" />
<rect x="338.50" y="239.59" width="4.90" height="40.71" fill="#2a4f8e" />
<rect x="338.50" y="225.13" width="4.90" height="14.46" fill="#aa0a3a" />
<line x1="340.95" y1="225.13" x2="340.95" y2="213.71" stroke="#333" stroke-width="0.7" />
<line x1="339.75" y1="213.71" x2="342.15" y2="213.71" stroke="#333" stroke-width="0.7" />
<line x1="340.95" y1="280.30" x2="340.95" y2="282.60" stroke="#1a1a1a" stroke-width="0.8" />
<rect x="357.50" y="234.70" width="6.20" height="6.00" fill="#aa0a3a" />
<rect x="357.50" y="246.70" width="6.20" height="6.00" fill="#2a4f8e" />
<text x="366.40" y="240.30" font-size="8.4" textLength="27.50" lengthAdjust="spacingAndGlyphs" >CD45.1+</text>
<text x="366.40" y="252.30" font-size="8.4" textLength="27.50" lengthAdjust="spacingAndGlyphs" >CD45.2+</text>
<text x="308.00" y="293.10" font-size="8.6" textLength="12.40" lengthAdjust="spacingAndGlyphs" >Ski:</text>
<text x="326.60" y="295.10" font-size="7.6" textLength="10.80" lengthAdjust="spacingAndGlyphs" transform="rotate(-48 326.60 295.10)" >+/+</text>
<text x="339.40" y="291.70" font-size="7.6" textLength="7.00" lengthAdjust="spacingAndGlyphs" transform="rotate(-48 339.40 291.70)" >-/-</text>
<text x="305.20" y="329.80" font-size="10.2" textLength="64.30" lengthAdjust="spacingAndGlyphs" >Total SLAM HSC</text>
<path d="M330.7,338.75 V415.5 H344.3" fill="none" stroke="#111" stroke-width="1.0" />
<line x1="327.70" y1="415.50" x2="330.70" y2="415.50" stroke="#1a1a1a" stroke-width="0.9" />
<text x="323.40" y="418.30" font-size="8.2" textLength="3.82" lengthAdjust="spacingAndGlyphs" text-anchor="end" >0</text>
<line x1="327.70" y1="390.75" x2="330.70" y2="390.75" stroke="#1a1a1a" stroke-width="0.9" />
<text x="323.40" y="393.55" font-size="8.2" textLength="21.60" lengthAdjust="spacingAndGlyphs" text-anchor="end" >10,000</text>
<line x1="327.70" y1="366.00" x2="330.70" y2="366.00" stroke="#1a1a1a" stroke-width="0.9" />
<text x="323.40" y="368.80" font-size="8.2" textLength="21.60" lengthAdjust="spacingAndGlyphs" text-anchor="end" >20,000</text>
<line x1="327.70" y1="341.25" x2="330.70" y2="341.25" stroke="#1a1a1a" stroke-width="0.9" />
<text x="323.40" y="344.05" font-size="8.2" textLength="21.60" lengthAdjust="spacingAndGlyphs" text-anchor="end" >30,000</text>
<rect x="332.00" y="369.71" width="5.00" height="45.79" fill="#2a4f8e" />
<rect x="332.00" y="352.39" width="5.00" height="17.32" fill="#aa0a3a" />
<line x1="334.50" y1="352.39" x2="334.50" y2="349.17" stroke="#333" stroke-width="0.7" />
<line x1="333.30" y1="349.17" x2="335.70" y2="349.17" stroke="#333" stroke-width="0.7" />
<line x1="334.50" y1="415.50" x2="334.50" y2="417.80" stroke="#1a1a1a" stroke-width="0.8" />
<rect x="339.00" y="410.06" width="5.00" height="5.44" fill="#2a4f8e" />
<rect x="339.00" y="368.48" width="5.00" height="41.58" fill="#aa0a3a" />
<line x1="341.50" y1="368.48" x2="341.50" y2="360.31" stroke="#333" stroke-width="0.7" />
<line x1="340.30" y1="360.31" x2="342.70" y2="360.31" stroke="#333" stroke-width="0.7" />
<line x1="341.50" y1="415.50" x2="341.50" y2="417.80" stroke="#1a1a1a" stroke-width="0.8" />
<rect x="357.50" y="373.80" width="6.20" height="6.00" fill="#aa0a3a" />
<rect x="357.50" y="385.80" width="6.20" height="6.00" fill="#2a4f8e" />
<text x="366.40" y="379.40" font-size="8.4" textLength="27.50" lengthAdjust="spacingAndGlyphs" >CD45.1+</text>
<text x="366.40" y="391.40" font-size="8.4" textLength="27.50" lengthAdjust="spacingAndGlyphs" >CD45.2+</text>
<text x="311.50" y="426.90" font-size="8.6" textLength="11.50" lengthAdjust="spacingAndGlyphs" >Ski:</text>
<text x="326.90" y="429.90" font-size="7.6" textLength="10.80" lengthAdjust="spacingAndGlyphs" transform="rotate(-48 326.90 429.90)" >+/+</text>
<text x="340.40" y="427.30" font-size="7.6" textLength="7.00" lengthAdjust="spacingAndGlyphs" transform="rotate(-48 340.40 427.30)" >-/-</text>
<text x="341.50" y="361.00" font-size="7.5" text-anchor="middle" >*</text>
<line x1="334.50" y1="369.50" x2="334.50" y2="365.60" stroke="#1a1a1a" stroke-width="0.8" />
<line x1="333.20" y1="365.60" x2="335.80" y2="365.60" stroke="#1a1a1a" stroke-width="0.9" />
<line x1="341.50" y1="410.00" x2="341.50" y2="407.00" stroke="#1a1a1a" stroke-width="0.8" />
<line x1="340.20" y1="407.00" x2="342.80" y2="407.00" stroke="#1a1a1a" stroke-width="0.9" />
<circle cx="341.5" cy="393.5" r="0.85" fill="#1a1a1a"/>
<circle cx="341.5" cy="397.3" r="0.85" fill="#1a1a1a"/>
<circle cx="341.5" cy="401.0" r="0.85" fill="#1a1a1a"/>
<circle cx="341.5" cy="404.6" r="0.85" fill="#1a1a1a"/>
<text x="305.20" y="464.60" font-size="10.2" textLength="64.30" lengthAdjust="spacingAndGlyphs" >Total SLAM HSC</text>
<path d="M330.7,471.25 V549.5 H344.3" fill="none" stroke="#111" stroke-width="1.0" />
<line x1="327.70" y1="549.50" x2="330.70" y2="549.50" stroke="#1a1a1a" stroke-width="0.9" />
<text x="323.40" y="552.30" font-size="8.2" textLength="3.82" lengthAdjust="spacingAndGlyphs" text-anchor="end" >0</text>
<line x1="327.70" y1="524.08" x2="330.70" y2="524.08" stroke="#1a1a1a" stroke-width="0.9" />
<text x="323.40" y="526.88" font-size="8.2" textLength="21.60" lengthAdjust="spacingAndGlyphs" text-anchor="end" >10,000</text>
<line x1="327.70" y1="498.67" x2="330.70" y2="498.67" stroke="#1a1a1a" stroke-width="0.9" />
<text x="323.40" y="501.47" font-size="8.2" textLength="21.60" lengthAdjust="spacingAndGlyphs" text-anchor="end" >20,000</text>
<line x1="327.70" y1="473.25" x2="330.70" y2="473.25" stroke="#1a1a1a" stroke-width="0.9" />
<text x="323.40" y="476.05" font-size="8.2" textLength="21.60" lengthAdjust="spacingAndGlyphs" text-anchor="end" >30,000</text>
<rect x="331.60" y="517.48" width="5.00" height="32.02" fill="#2a4f8e" />
<line x1="334.10" y1="517.48" x2="334.10" y2="509.85" stroke="#333" stroke-width="0.7" />
<line x1="332.90" y1="509.85" x2="335.30" y2="509.85" stroke="#333" stroke-width="0.7" />
<line x1="334.10" y1="549.50" x2="334.10" y2="551.80" stroke="#1a1a1a" stroke-width="0.8" />
<rect x="339.00" y="529.17" width="5.00" height="20.33" fill="#2a4f8e" />
<line x1="341.50" y1="529.17" x2="341.50" y2="525.61" stroke="#333" stroke-width="0.7" />
<line x1="340.30" y1="525.61" x2="342.70" y2="525.61" stroke="#333" stroke-width="0.7" />
<line x1="341.50" y1="549.50" x2="341.50" y2="551.80" stroke="#1a1a1a" stroke-width="0.8" />
<rect x="357.50" y="495.80" width="6.20" height="6.00" fill="#aa0a3a" />
<rect x="357.50" y="507.80" width="6.20" height="6.00" fill="#2a4f8e" />
<text x="366.40" y="501.40" font-size="8.4" textLength="27.50" lengthAdjust="spacingAndGlyphs" >CD45.1+</text>
<text x="366.40" y="513.40" font-size="8.4" textLength="27.50" lengthAdjust="spacingAndGlyphs" >CD45.2+</text>
<text x="311.10" y="564.60" font-size="8.6" textLength="11.50" lengthAdjust="spacingAndGlyphs" >Ski:</text>
<text x="329.80" y="564.70" font-size="7.6" textLength="10.80" lengthAdjust="spacingAndGlyphs" transform="rotate(-48 329.80 564.70)" >+/+</text>
<text x="340.00" y="563.90" font-size="7.6" textLength="7.00" lengthAdjust="spacingAndGlyphs" transform="rotate(-48 340.00 563.90)" >-/-</text>
<text x="305.20" y="598.20" font-size="10.2" textLength="64.30" lengthAdjust="spacingAndGlyphs" >Total SLAM HSC</text>
<path d="M330.7,603.8 V683.25 H344.3" fill="none" stroke="#111" stroke-width="1.0" />
<line x1="327.70" y1="683.25" x2="330.70" y2="683.25" stroke="#1a1a1a" stroke-width="0.9" />
<text x="323.40" y="686.05" font-size="8.2" textLength="3.82" lengthAdjust="spacingAndGlyphs" text-anchor="end" >0</text>
<line x1="327.70" y1="664.12" x2="330.70" y2="664.12" stroke="#1a1a1a" stroke-width="0.9" />
<text x="323.40" y="666.92" font-size="8.2" textLength="17.78" lengthAdjust="spacingAndGlyphs" text-anchor="end" >5,000</text>
<line x1="327.70" y1="645.00" x2="330.70" y2="645.00" stroke="#1a1a1a" stroke-width="0.9" />
<text x="323.40" y="647.80" font-size="8.2" textLength="21.60" lengthAdjust="spacingAndGlyphs" text-anchor="end" >10,000</text>
<line x1="327.70" y1="625.88" x2="330.70" y2="625.88" stroke="#1a1a1a" stroke-width="0.9" />
<text x="323.40" y="628.67" font-size="8.2" textLength="21.60" lengthAdjust="spacingAndGlyphs" text-anchor="end" >15,000</text>
<line x1="327.70" y1="606.75" x2="330.70" y2="606.75" stroke="#1a1a1a" stroke-width="0.9" />
<text x="323.40" y="609.55" font-size="8.2" textLength="21.60" lengthAdjust="spacingAndGlyphs" text-anchor="end" >20,000</text>
<rect x="332.00" y="653.03" width="5.00" height="30.22" fill="#2a4f8e" />
<rect x="332.00" y="625.11" width="5.00" height="27.92" fill="#aa0a3a" />
<line x1="334.50" y1="625.11" x2="334.50" y2="622.05" stroke="#333" stroke-width="0.7" />
<line x1="333.30" y1="622.05" x2="335.70" y2="622.05" stroke="#333" stroke-width="0.7" />
<line x1="334.50" y1="683.25" x2="334.50" y2="685.55" stroke="#1a1a1a" stroke-width="0.8" />
<rect x="339.00" y="661.45" width="5.00" height="21.80" fill="#2a4f8e" />
<rect x="339.00" y="629.70" width="5.00" height="31.75" fill="#aa0a3a" />
<line x1="341.50" y1="629.70" x2="341.50" y2="626.64" stroke="#333" stroke-width="0.7" />
<line x1="340.30" y1="626.64" x2="342.70" y2="626.64" stroke="#333" stroke-width="0.7" />
<line x1="341.50" y1="683.25" x2="341.50" y2="685.55" stroke="#1a1a1a" stroke-width="0.8" />
<rect x="357.50" y="623.00" width="6.20" height="6.00" fill="#aa0a3a" />
<rect x="357.50" y="635.00" width="6.20" height="6.00" fill="#2a4f8e" />
<text x="366.40" y="628.60" font-size="8.4" textLength="27.50" lengthAdjust="spacingAndGlyphs" >CD45.1+</text>
<text x="366.40" y="640.60" font-size="8.4" textLength="27.50" lengthAdjust="spacingAndGlyphs" >CD45.2+</text>
<text x="310.20" y="698.80" font-size="8.6" textLength="14.60" lengthAdjust="spacingAndGlyphs" >Skil:</text>
<text x="329.80" y="699.30" font-size="7.6" textLength="10.80" lengthAdjust="spacingAndGlyphs" transform="rotate(-48 329.80 699.30)" >+/+</text>
<text x="339.60" y="697.90" font-size="7.6" textLength="7.00" lengthAdjust="spacingAndGlyphs" transform="rotate(-48 339.60 697.90)" >-/-</text>
<line x1="334.50" y1="653.00" x2="334.50" y2="646.90" stroke="#1a1a1a" stroke-width="0.8" />
<line x1="333.20" y1="646.90" x2="335.80" y2="646.90" stroke="#1a1a1a" stroke-width="0.9" />
<line x1="341.50" y1="661.40" x2="341.50" y2="661.00" stroke="#1a1a1a" stroke-width="0.8" />
<line x1="340.20" y1="661.00" x2="342.80" y2="661.00" stroke="#1a1a1a" stroke-width="0.9" />
</svg>
</body></html>
